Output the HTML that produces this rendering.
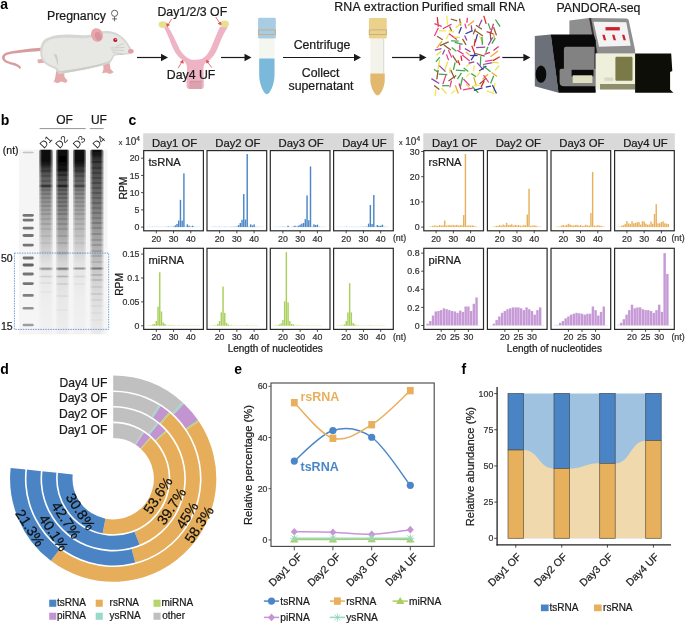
<!DOCTYPE html>
<html><head><meta charset="utf-8"><style>
html,body{margin:0;padding:0;background:#fff;width:685px;height:624px;overflow:hidden}
svg{display:block;font-family:"Liberation Sans", sans-serif;will-change:transform}
</style></head><body>
<svg width="685" height="624" viewBox="0 0 685 624" font-family='"Liberation Sans", sans-serif'>
<g id="pa">
<text x="0.30" y="8.90" font-size="14" text-anchor="start" font-weight="bold" fill="#000" >a</text>
<g id="mouse">
<path d="M41,47.8 C33,48.3 22,49.6 13,51.1 C6.5,52.2 1.8,54 2,58 C2.3,61.6 7,63.2 11.8,64.8 C15.5,66 18.6,66.8 19.6,69 L21.2,67.8 C20,65 16.5,63.5 12.8,62.6 C8.5,61.5 4.8,60.3 4.7,58 C4.6,55.5 8,54.4 13.5,53.6 C22.5,52.4 33,51.4 41,51 Z" fill="#d99c9e"/>
<path d="M37.8,59.5 L43.5,58.7 L44.5,62.8 L38.5,63.2 C37.3,62 37.2,60.5 37.8,59.5 Z" fill="#e4aaac"/>
<path d="M56.5,70 L64,70 L64.5,77 L67.5,80.5 L66,83 L61.5,81.5 L57.5,83.2 L54.5,82 L53.5,82.5 L55,78.5 Z" fill="#e4aaac"/>
<path d="M103,62 L109.5,62 L110.5,69 L113.8,72.3 L109.8,74 L106,72.6 L102.2,73.5 L103.5,69 Z" fill="#e4aaac"/>
<path d="M40.3,53.6 C40,47 41,43 44,40 C47,37.5 52,36 58,35 C66,34 74,34.5 82,35.2 C86,35.4 89,34.8 92,34.2 C96,32 101,31 106.3,31.1 C112,31.3 116,32.5 118.5,34.2 C122,36.5 125,39 126.7,41.4 C129,45 131.5,48.5 132.6,51.2 C132,53.5 129.5,54.3 126.7,54.6 C122,55 118,55.2 114.5,55.7 C113,58 112,61 110.4,62.8 C104,65.5 98,66.8 92,67.9 C85,69.5 78,71 71.5,72 C66,73 62,74 59.3,74 C57,72 56,70 55.2,68.9 C50,67 46,65 43.9,62.8 C41.5,60 40.5,57 40.3,53.6 Z" fill="#d6d6d2"/>
<path d="M42.3,53.5 C42.2,48 43.5,44.5 46,42 C49,39.5 53.5,38.5 59,38 C66,37.5 74,37.7 82,38.2 C87,38.5 91,37.5 94,36 C98,34 102,33 106.3,33.2 C111.5,33.4 115.5,34.6 118,36.3 C121.5,38.6 124,41 125.5,43 C127.5,46 129.5,49 130.3,51.2 C129.5,52.6 127.5,53 125.5,53.2 C121,53.6 117,54 113.5,54.5 C112,57 110.5,59.8 108.5,61.3 C103,63.5 97,64.8 91,65.9 C84,67.3 77,68.8 71,69.8 C66,70.7 62.5,71.5 60.5,71.3 C58.8,69.8 57.5,68.3 56.2,67 C51,65.3 47.5,63.5 45.5,61.5 C43.3,59 42.4,56.5 42.3,53.5 Z" fill="#e7e7e4"/>
<path d="M53.5,54 C55,57 57,61 57.5,66.5 C58.5,62 58.3,58 56.5,54.5 Z" fill="#cfcec9"/>
<path d="M59,71.2 C66,70.5 80,68.5 92,65.9 C100,64.3 106,62.5 109.5,61 C105,64.5 98,66.5 91,68 C82,70 72,72 64,72.8 C61.5,72.9 60,72.3 59,71.2 Z" fill="#cdccc7"/>
<ellipse cx="97" cy="35" rx="5.8" ry="7" fill="#e6a8ad" transform="rotate(-22 97 35)"/>
<ellipse cx="98.2" cy="36.3" rx="3.2" ry="4.5" fill="#d7949c" transform="rotate(-22 98.2 36.3)"/>
<circle cx="115.3" cy="40" r="2.1" fill="#b8142e"/>
<circle cx="115.8" cy="39.5" r="0.7" fill="#f0c0c8"/>
<ellipse cx="130.8" cy="51.2" rx="2.8" ry="2.3" fill="#e29ca4"/>
<path d="M110.5,48 L124.5,47.5 M111.5,50 L124,50.5 M112.5,52 L123.5,54.5 M116,46.5 L124,43.5" stroke="#a89a94" stroke-width="0.35" fill="none"/>
</g>
<text x="47.00" y="20.30" font-size="12.3" text-anchor="start" font-weight="normal" fill="#1a1a1a" stroke="#1a1a1a" stroke-width="0.22" >Pregnancy</text>
<g stroke="#555" stroke-width="0.9" fill="none"><circle cx="114.6" cy="13.3" r="3.1"/><line x1="114.6" y1="16.4" x2="114.6" y2="21.3"/><line x1="112.2" y1="18.9" x2="117" y2="18.9"/></g>
<line x1="137" y1="57.5" x2="161.5" y2="57.5" stroke="#1a1a1a" stroke-width="1.2"/>
<polygon points="161,53.7 168,57.5 161,61.3" fill="#1a1a1a"/>
<g id="uterus">
<path d="M164,27.5 C166.5,32 168.8,37.5 171.2,44 C173.8,50.5 177.5,57 183.3,60.6 C186.2,62.5 187.4,65.5 187,70 L186.5,85.5 Q186.5,89 190,89 L200.6,89 Q203.9,89 203.9,85.5 L203.5,70 C203.2,65.5 204.5,62.5 208.9,60.6 C213.8,57 216.8,50.5 219.3,44.3 C221.8,37.5 224.8,31.5 227.8,27 L220,26.8 C217.6,31.8 215,38.3 212,45.6 C209.2,52.3 205.8,57.3 201.6,59 C198.8,59.8 192.3,60 190,59.2 C185.8,57.4 182.5,53.9 179.6,49.2 C177,43.5 174,37 170.6,30.8 C169.6,29.1 168.6,27.6 167.6,26.2 Z" fill="#eeb3c5"/>
<rect x="189.2" y="81.7" width="12.6" height="7.3" fill="#dba3ad"/>
<path d="M189.4,81.9 h2 v-0.8 h2 v0.8 h2 v-0.8 h2 v0.8 h2 v-0.8 h2.4 v0.8" stroke="#c4808c" stroke-width="0.6" fill="none"/>
<ellipse cx="162.8" cy="24.6" rx="4.2" ry="3.4" fill="#e9e08e"/>
<ellipse cx="224.7" cy="24" rx="4.2" ry="3.4" fill="#e9e08e"/>
<g stroke="#d9534f" stroke-width="0.8" fill="#d9534f">
<line x1="171.7" y1="18.9" x2="168" y2="25"/><polygon points="167.1,26.6 166.6,23.6 169.4,24.9"/>
<line x1="215.7" y1="17" x2="219.8" y2="23.2"/><polygon points="221,24.9 218.3,23.6 220.8,22.2"/>
<line x1="178.2" y1="68.2" x2="181.8" y2="62"/><polygon points="182.8,60.3 183.3,63.2 180.5,62"/>
<line x1="211.8" y1="67.6" x2="207.5" y2="62"/><polygon points="206.5,60.3 209.1,61.6 206.7,63.1"/>
</g></g>
<text x="192.30" y="16.00" font-size="12.3" text-anchor="middle" font-weight="normal" fill="#1a1a1a" stroke="#1a1a1a" stroke-width="0.22" >Day1/2/3 OF</text>
<text x="191.10" y="78.50" font-size="12.3" text-anchor="middle" font-weight="normal" fill="#1a1a1a" stroke="#1a1a1a" stroke-width="0.22" >Day4 UF</text>
<line x1="221" y1="57.5" x2="245.0" y2="57.5" stroke="#1a1a1a" stroke-width="1.2"/>
<polygon points="244.5,53.7 251.5,57.5 244.5,61.3" fill="#1a1a1a"/>
<g id="tube1">
<path d="M259.2,38.5 L274.5,38.5 L274.5,75 C274.5,84 270,94.3 266.85,94.3 C263.7,94.3 259.2,84 259.2,75 Z" fill="#f4f6f0"/>
<path d="M259.2,58.6 L274.5,58.6 L274.5,75 C274.5,84 270,94.3 266.85,94.3 C263.7,94.3 259.2,84 259.2,75 Z" fill="#7ab9da"/>
<path d="M258.1,19 Q258.1,17.7 259.5,17.7 L274.4,17.7 Q275.8,17.7 275.8,19 L275.8,37.3 Q275.8,38.5 274.5,38.5 L259.4,38.5 Q258.1,38.5 258.1,37.3 Z" fill="#a8cde3"/>
<rect x="258.4" y="29.9" width="17.1" height="4.6" fill="none" stroke="#c9aa80" stroke-width="0.9"/>
</g>
<line x1="283" y1="57.5" x2="354.5" y2="57.5" stroke="#1a1a1a" stroke-width="1.2"/>
<polygon points="354,53.7 361,57.5 354,61.3" fill="#1a1a1a"/>
<text x="322.00" y="49.30" font-size="12.3" text-anchor="middle" font-weight="normal" fill="#1a1a1a" stroke="#1a1a1a" stroke-width="0.22" >Centrifuge</text>
<text x="320.60" y="77.30" font-size="12.3" text-anchor="middle" font-weight="normal" fill="#1a1a1a" stroke="#1a1a1a" stroke-width="0.22" >Collect</text>
<text x="321.00" y="90.00" font-size="12.3" text-anchor="middle" font-weight="normal" fill="#1a1a1a" stroke="#1a1a1a" stroke-width="0.22" >supernatant</text>
<g id="tube2">
<path d="M370.4,38.5 L384.7,38.5 L384.7,80 C384.7,87 380.5,95.4 377.55,95.4 C374.6,95.4 370.4,87 370.4,80 Z" fill="#f3f3ec"/>
<line x1="383.5" y1="38.5" x2="383.5" y2="73.5" stroke="#dcdcd4" stroke-width="0.9"/>
<path d="M370.4,73.5 L384.7,73.5 L384.7,80 C384.7,87 380.5,95.4 377.55,95.4 C374.6,95.4 370.4,87 370.4,80 Z" fill="#e2b86e"/>
<path d="M368.9,19.4 Q368.9,18.1 370.3,18.1 L385.4,18.1 Q386.8,18.1 386.8,19.4 L386.8,37.3 Q386.8,38.5 385.5,38.5 L370.2,38.5 Q368.9,38.5 368.9,37.3 Z" fill="#ebd28c"/>
<rect x="369.3" y="29.9" width="17.1" height="4.6" fill="none" stroke="#c9aa80" stroke-width="0.9"/>
</g>
<text x="334.30" y="11.40" font-size="12.3" text-anchor="start" font-weight="normal" fill="#1a1a1a" stroke="#1a1a1a" stroke-width="0.22" textLength="84.5">RNA extraction</text>
<line x1="392" y1="57.5" x2="420.0" y2="57.5" stroke="#1a1a1a" stroke-width="1.2"/>
<polygon points="419.5,53.7 426.5,57.5 419.5,61.3" fill="#1a1a1a"/>
<text x="421.80" y="11.40" font-size="12.3" text-anchor="start" font-weight="normal" fill="#1a1a1a" stroke="#1a1a1a" stroke-width="0.22" >Purified small RNA</text>
<g id="rna"><line x1="437.3" y1="17.1" x2="438.3" y2="26.7" stroke="#e02828" stroke-width="1.25"/>
<line x1="446.8" y1="15.8" x2="447.5" y2="24.8" stroke="#f0ea50" stroke-width="1.25"/>
<line x1="450.8" y1="19.0" x2="457.1" y2="20.8" stroke="#8b5a2b" stroke-width="1.25"/>
<line x1="459.6" y1="18.6" x2="460.7" y2="25.5" stroke="#8b5a2b" stroke-width="1.25"/>
<line x1="467.4" y1="17.7" x2="466.9" y2="22.7" stroke="#e0307a" stroke-width="1.25"/>
<line x1="474.0" y1="20.7" x2="467.9" y2="25.8" stroke="#f0a830" stroke-width="1.25"/>
<line x1="482.0" y1="19.7" x2="478.8" y2="26.6" stroke="#8e44ad" stroke-width="1.25"/>
<line x1="483.8" y1="15.9" x2="486.2" y2="23.9" stroke="#e02828" stroke-width="1.25"/>
<line x1="495.4" y1="19.5" x2="500.1" y2="26.7" stroke="#3aa848" stroke-width="1.25"/>
<line x1="434.4" y1="23.7" x2="441.8" y2="26.3" stroke="#e83e8c" stroke-width="1.25"/>
<line x1="451.5" y1="24.2" x2="442.8" y2="28.8" stroke="#e0307a" stroke-width="1.25"/>
<line x1="449.6" y1="26.4" x2="451.7" y2="31.2" stroke="#8b5a2b" stroke-width="1.25"/>
<line x1="461.9" y1="22.6" x2="455.7" y2="27.8" stroke="#e8e040" stroke-width="1.25"/>
<line x1="464.9" y1="23.7" x2="466.3" y2="28.6" stroke="#e83e8c" stroke-width="1.25"/>
<line x1="471.3" y1="25.4" x2="471.8" y2="30.4" stroke="#8e44ad" stroke-width="1.25"/>
<line x1="475.9" y1="25.2" x2="481.9" y2="29.3" stroke="#8b5a2b" stroke-width="1.25"/>
<line x1="488.2" y1="23.4" x2="490.5" y2="29.9" stroke="#3aa848" stroke-width="1.25"/>
<line x1="493.5" y1="23.8" x2="490.7" y2="33.3" stroke="#e0307a" stroke-width="1.25"/>
<line x1="438.4" y1="27.7" x2="434.4" y2="36.0" stroke="#e83e8c" stroke-width="1.25"/>
<line x1="439.0" y1="30.7" x2="446.2" y2="30.9" stroke="#f0ea50" stroke-width="1.25"/>
<line x1="448.7" y1="30.7" x2="453.9" y2="32.2" stroke="#f0ea50" stroke-width="1.25"/>
<line x1="461.4" y1="27.1" x2="458.9" y2="33.4" stroke="#2e3d9a" stroke-width="1.25"/>
<line x1="472.7" y1="30.6" x2="465.5" y2="33.8" stroke="#2e3d9a" stroke-width="1.25"/>
<line x1="475.4" y1="28.6" x2="473.3" y2="34.4" stroke="#8b5a2b" stroke-width="1.25"/>
<line x1="475.0" y1="30.5" x2="482.9" y2="36.1" stroke="#8b5a2b" stroke-width="1.25"/>
<line x1="486.6" y1="31.6" x2="493.4" y2="33.9" stroke="#e0307a" stroke-width="1.25"/>
<line x1="493.6" y1="27.2" x2="496.5" y2="35.4" stroke="#8b5a2b" stroke-width="1.25"/>
<line x1="437.1" y1="36.3" x2="442.7" y2="39.7" stroke="#8b5a2b" stroke-width="1.25"/>
<line x1="449.6" y1="32.8" x2="446.2" y2="39.3" stroke="#f0ea50" stroke-width="1.25"/>
<line x1="449.1" y1="33.8" x2="456.8" y2="39.6" stroke="#e0307a" stroke-width="1.25"/>
<line x1="453.8" y1="36.8" x2="460.0" y2="37.7" stroke="#e8e040" stroke-width="1.25"/>
<line x1="464.6" y1="35.4" x2="466.9" y2="40.5" stroke="#8e44ad" stroke-width="1.25"/>
<line x1="477.5" y1="34.2" x2="475.2" y2="42.4" stroke="#2e3d9a" stroke-width="1.25"/>
<line x1="479.6" y1="36.1" x2="482.8" y2="42.8" stroke="#e8e040" stroke-width="1.25"/>
<line x1="490.2" y1="31.5" x2="490.7" y2="39.7" stroke="#8b5a2b" stroke-width="1.25"/>
<line x1="493.5" y1="33.4" x2="494.3" y2="38.7" stroke="#f0a830" stroke-width="1.25"/>
<line x1="442.0" y1="41.2" x2="436.8" y2="48.1" stroke="#f0a830" stroke-width="1.25"/>
<line x1="448.7" y1="41.9" x2="440.0" y2="45.6" stroke="#8b5a2b" stroke-width="1.25"/>
<line x1="451.1" y1="40.8" x2="458.6" y2="41.1" stroke="#3aa848" stroke-width="1.25"/>
<line x1="454.8" y1="42.3" x2="462.6" y2="44.3" stroke="#3aa848" stroke-width="1.25"/>
<line x1="462.5" y1="38.9" x2="466.1" y2="45.0" stroke="#8b5a2b" stroke-width="1.25"/>
<line x1="475.2" y1="39.1" x2="474.2" y2="46.4" stroke="#e02828" stroke-width="1.25"/>
<line x1="481.9" y1="36.9" x2="482.4" y2="44.9" stroke="#3aa848" stroke-width="1.25"/>
<line x1="492.6" y1="37.4" x2="488.3" y2="45.2" stroke="#8e44ad" stroke-width="1.25"/>
<line x1="495.3" y1="38.1" x2="491.8" y2="43.6" stroke="#3aa848" stroke-width="1.25"/>
<line x1="441.4" y1="48.6" x2="434.9" y2="50.1" stroke="#8e44ad" stroke-width="1.25"/>
<line x1="444.0" y1="45.1" x2="450.8" y2="50.0" stroke="#8b5a2b" stroke-width="1.25"/>
<line x1="451.7" y1="47.5" x2="456.4" y2="51.2" stroke="#3aa848" stroke-width="1.25"/>
<line x1="459.8" y1="44.6" x2="459.9" y2="50.3" stroke="#e0307a" stroke-width="1.25"/>
<line x1="464.9" y1="48.6" x2="470.5" y2="51.8" stroke="#8e44ad" stroke-width="1.25"/>
<line x1="471.8" y1="45.8" x2="475.1" y2="54.3" stroke="#e02828" stroke-width="1.25"/>
<line x1="485.3" y1="47.2" x2="476.1" y2="47.7" stroke="#8e44ad" stroke-width="1.25"/>
<line x1="487.9" y1="46.7" x2="485.8" y2="52.7" stroke="#3aa848" stroke-width="1.25"/>
<line x1="498.7" y1="46.6" x2="493.5" y2="50.6" stroke="#e0307a" stroke-width="1.25"/>
<line x1="441.1" y1="51.2" x2="436.6" y2="55.2" stroke="#e8e040" stroke-width="1.25"/>
<line x1="444.7" y1="49.7" x2="442.6" y2="54.5" stroke="#8e44ad" stroke-width="1.25"/>
<line x1="448.4" y1="50.0" x2="451.7" y2="57.5" stroke="#e83e8c" stroke-width="1.25"/>
<line x1="457.3" y1="50.3" x2="463.6" y2="54.3" stroke="#e0307a" stroke-width="1.25"/>
<line x1="466.0" y1="52.0" x2="469.9" y2="55.4" stroke="#f0a830" stroke-width="1.25"/>
<line x1="477.6" y1="55.5" x2="470.1" y2="55.5" stroke="#2e3d9a" stroke-width="1.25"/>
<line x1="475.5" y1="53.5" x2="484.7" y2="56.1" stroke="#8b5a2b" stroke-width="1.25"/>
<line x1="490.0" y1="52.3" x2="484.4" y2="54.4" stroke="#e0307a" stroke-width="1.25"/>
<line x1="498.0" y1="51.1" x2="490.5" y2="56.7" stroke="#f0a830" stroke-width="1.25"/>
<line x1="439.8" y1="57.2" x2="435.9" y2="61.9" stroke="#3aa848" stroke-width="1.25"/>
<line x1="446.5" y1="54.4" x2="448.6" y2="60.2" stroke="#e83e8c" stroke-width="1.25"/>
<line x1="452.6" y1="55.3" x2="457.4" y2="62.9" stroke="#8b5a2b" stroke-width="1.25"/>
<line x1="460.9" y1="55.6" x2="461.9" y2="60.9" stroke="#e02828" stroke-width="1.25"/>
<line x1="462.3" y1="54.9" x2="469.8" y2="61.0" stroke="#e83e8c" stroke-width="1.25"/>
<line x1="475.3" y1="53.7" x2="471.1" y2="60.1" stroke="#2e3d9a" stroke-width="1.25"/>
<line x1="480.8" y1="56.3" x2="480.3" y2="65.8" stroke="#3aa848" stroke-width="1.25"/>
<line x1="492.6" y1="60.2" x2="485.2" y2="61.4" stroke="#e83e8c" stroke-width="1.25"/>
<line x1="499.8" y1="56.7" x2="493.0" y2="60.6" stroke="#e02828" stroke-width="1.25"/>
<line x1="439.7" y1="59.8" x2="438.0" y2="68.9" stroke="#e8e040" stroke-width="1.25"/>
<line x1="447.7" y1="61.8" x2="444.6" y2="70.6" stroke="#e8e040" stroke-width="1.25"/>
<line x1="455.1" y1="62.5" x2="453.4" y2="69.9" stroke="#3aa848" stroke-width="1.25"/>
<line x1="457.9" y1="60.3" x2="459.8" y2="64.9" stroke="#e02828" stroke-width="1.25"/>
<line x1="472.0" y1="62.3" x2="466.3" y2="66.3" stroke="#f0ea50" stroke-width="1.25"/>
<line x1="474.3" y1="61.9" x2="468.6" y2="63.1" stroke="#8e44ad" stroke-width="1.25"/>
<line x1="477.0" y1="62.6" x2="483.4" y2="69.8" stroke="#8e44ad" stroke-width="1.25"/>
<line x1="492.4" y1="62.6" x2="483.1" y2="64.5" stroke="#8e44ad" stroke-width="1.25"/>
<line x1="491.6" y1="62.2" x2="498.6" y2="62.9" stroke="#e8e040" stroke-width="1.25"/>
<line x1="433.9" y1="69.3" x2="438.0" y2="72.2" stroke="#3aa848" stroke-width="1.25"/>
<line x1="439.3" y1="65.6" x2="445.5" y2="71.6" stroke="#8e44ad" stroke-width="1.25"/>
<line x1="450.1" y1="67.7" x2="449.9" y2="73.3" stroke="#e8e040" stroke-width="1.25"/>
<line x1="455.9" y1="70.1" x2="465.3" y2="70.8" stroke="#3aa848" stroke-width="1.25"/>
<line x1="463.7" y1="67.9" x2="468.3" y2="71.4" stroke="#3aa848" stroke-width="1.25"/>
<line x1="474.2" y1="65.3" x2="473.4" y2="71.4" stroke="#f0ea50" stroke-width="1.25"/>
<line x1="486.4" y1="66.0" x2="479.1" y2="70.9" stroke="#2e3d9a" stroke-width="1.25"/>
<line x1="483.1" y1="65.7" x2="490.5" y2="71.8" stroke="#3aa848" stroke-width="1.25"/>
<line x1="499.2" y1="65.6" x2="495.1" y2="70.3" stroke="#e8e040" stroke-width="1.25"/>
<line x1="438.1" y1="69.8" x2="436.8" y2="79.4" stroke="#8b5a2b" stroke-width="1.25"/>
<line x1="438.8" y1="74.2" x2="447.2" y2="74.7" stroke="#3aa848" stroke-width="1.25"/>
<line x1="450.8" y1="70.1" x2="454.6" y2="78.4" stroke="#8b5a2b" stroke-width="1.25"/>
<line x1="461.5" y1="72.8" x2="457.4" y2="79.1" stroke="#3aa848" stroke-width="1.25"/>
<line x1="470.1" y1="73.1" x2="466.3" y2="76.5" stroke="#f0ea50" stroke-width="1.25"/>
<line x1="471.3" y1="73.6" x2="476.1" y2="76.7" stroke="#3aa848" stroke-width="1.25"/>
<line x1="480.5" y1="70.7" x2="477.2" y2="76.2" stroke="#f0ea50" stroke-width="1.25"/>
<line x1="488.0" y1="74.3" x2="482.6" y2="79.3" stroke="#f0a830" stroke-width="1.25"/>
<line x1="491.6" y1="72.5" x2="497.0" y2="76.6" stroke="#f0a830" stroke-width="1.25"/>
<line x1="431.4" y1="78.6" x2="439.2" y2="83.5" stroke="#8e44ad" stroke-width="1.25"/>
<line x1="445.9" y1="75.1" x2="442.8" y2="84.2" stroke="#e83e8c" stroke-width="1.25"/>
<line x1="456.2" y1="75.4" x2="448.5" y2="80.9" stroke="#8b5a2b" stroke-width="1.25"/>
<line x1="462.6" y1="77.2" x2="460.5" y2="86.7" stroke="#3aa848" stroke-width="1.25"/>
<line x1="463.4" y1="79.0" x2="469.6" y2="85.5" stroke="#e83e8c" stroke-width="1.25"/>
<line x1="473.7" y1="77.0" x2="476.3" y2="85.7" stroke="#f0a830" stroke-width="1.25"/>
<line x1="486.2" y1="78.1" x2="479.6" y2="84.0" stroke="#8b5a2b" stroke-width="1.25"/>
<line x1="483.5" y1="75.2" x2="488.8" y2="82.5" stroke="#e83e8c" stroke-width="1.25"/>
<line x1="493.7" y1="75.8" x2="490.6" y2="83.4" stroke="#3aa848" stroke-width="1.25"/>
<line x1="434.2" y1="85.4" x2="439.3" y2="89.5" stroke="#8b5a2b" stroke-width="1.25"/>
<line x1="449.0" y1="85.7" x2="442.1" y2="85.7" stroke="#3aa848" stroke-width="1.25"/>
<line x1="451.5" y1="80.5" x2="449.8" y2="87.3" stroke="#e83e8c" stroke-width="1.25"/>
<line x1="459.1" y1="83.5" x2="461.0" y2="89.5" stroke="#e0307a" stroke-width="1.25"/>
<line x1="466.2" y1="84.3" x2="469.7" y2="88.0" stroke="#e8e040" stroke-width="1.25"/>
<line x1="479.7" y1="85.3" x2="472.2" y2="86.1" stroke="#f0ea50" stroke-width="1.25"/>
<line x1="484.3" y1="80.6" x2="481.1" y2="87.1" stroke="#e02828" stroke-width="1.25"/>
<line x1="490.9" y1="86.1" x2="485.8" y2="87.2" stroke="#2e3d9a" stroke-width="1.25"/>
<line x1="494.9" y1="82.9" x2="493.7" y2="92.1" stroke="#f0ea50" stroke-width="1.25"/>
<line x1="435.8" y1="89.2" x2="435.2" y2="96.3" stroke="#f0ea50" stroke-width="1.25"/>
<line x1="441.6" y1="88.2" x2="446.6" y2="93.7" stroke="#e8e040" stroke-width="1.25"/>
<line x1="455.1" y1="90.2" x2="451.3" y2="93.6" stroke="#f0ea50" stroke-width="1.25"/>
<line x1="455.3" y1="85.3" x2="458.3" y2="93.5" stroke="#f0a830" stroke-width="1.25"/>
<line x1="472.8" y1="88.1" x2="463.0" y2="89.8" stroke="#e83e8c" stroke-width="1.25"/>
<line x1="472.3" y1="86.6" x2="478.3" y2="92.7" stroke="#3aa848" stroke-width="1.25"/>
<line x1="482.5" y1="87.9" x2="473.8" y2="90.4" stroke="#2e3d9a" stroke-width="1.25"/>
<line x1="486.8" y1="90.8" x2="494.3" y2="93.6" stroke="#f0ea50" stroke-width="1.25"/>
<line x1="492.4" y1="85.0" x2="496.5" y2="93.4" stroke="#2e3d9a" stroke-width="1.25"/></g>
<line x1="502.3" y1="57.5" x2="523.9" y2="57.5" stroke="#1a1a1a" stroke-width="1.2"/>
<polygon points="523.4,53.7 530.4,57.5 523.4,61.3" fill="#1a1a1a"/>
<text x="556.50" y="11.70" font-size="12.3" text-anchor="start" font-weight="normal" fill="#1a1a1a" stroke="#1a1a1a" stroke-width="0.22" >PANDORA-seq</text>
<g id="machine">
<polygon points="569.4,20.6 589.1,17.9 626.5,18.6 628.5,19.5 635.1,50 635.1,54 595.7,54 569.4,54" fill="#8e8e8e"/>
<polygon points="589.1,17.9 591,17.9 597.5,53.4 595.5,53.4" fill="#3a3230"/>
<polygon points="593.5,21.7 626.3,22.3 630.7,45.7 599,46.8" fill="#f3f3f3"/>
<polygon points="605.5,27.1 619.8,27.1 619.8,30.4 605.5,30.4" fill="#cc1f2a"/>
<polygon points="602.3,34.8 604.6,34.8 606.2,40.3 603.9,40.3" fill="#cc1f2a"/>
<polygon points="612.1,34.8 614.4,34.8 616,40.3 613.7,40.3" fill="#cc1f2a"/>
<polygon points="622,34.8 624.3,34.8 625.9,40.3 623.6,40.3" fill="#cc1f2a"/>
<polygon points="534.8,35.9 550.8,34.4 558.5,92.8 534.8,86.3" fill="#6b7079"/>
<ellipse cx="541" cy="74.2" rx="5.3" ry="8.6" fill="#0a0a0a"/>
<polygon points="550.8,34.4 593.5,34.4 595.7,40.3 595.7,92.8 558.5,92.8" fill="#0a0a0a"/>
<path d="M566,46.8 L594.6,46.8 L594.6,74.2 L563.9,74.2 L563.9,49 Q563.9,46.8 566,46.8 Z" fill="#828282"/>
<path d="M559.6,70.5 Q559.6,68.7 561.4,68.7 L600,68.7 L600,86.3 L564,86.3 Q559.6,86.3 559.6,82 Z" fill="#858585"/>
<rect x="571.6" y="69.8" width="21.9" height="6.6" fill="#0a0a0a"/>
<rect x="572.7" y="75.3" width="19.7" height="7.7" fill="#dedec2"/>
<rect x="595.7" y="53.4" width="39.4" height="36.1" fill="#eef0dc"/>
<rect x="615.4" y="56.7" width="17.1" height="24.1" rx="1.2" fill="#7a7a48"/>
<rect x="604.4" y="77.5" width="8.8" height="3.3" fill="#d8d8c8"/>
<rect x="600" y="84" width="35.1" height="5.5" fill="#8e8e6c"/>
<polygon points="635.1,53.4 671.2,53.4 672.3,71 670.1,72 670.1,89.5 673.4,92.8 635.1,92.8" fill="#0e0e08"/>
</g>
</g>
<g id="pb"><defs>
<linearGradient id="gD1" x1="0" y1="149" x2="0" y2="334" gradientUnits="userSpaceOnUse">
<stop offset="0.0000" stop-color="rgb(200,200,200)"/>
<stop offset="0.0027" stop-color="rgb(107,107,107)"/>
<stop offset="0.0054" stop-color="rgb(14,14,14)"/>
<stop offset="0.0081" stop-color="rgb(14,14,14)"/>
<stop offset="0.0108" stop-color="rgb(14,14,14)"/>
<stop offset="0.0135" stop-color="rgb(13,13,13)"/>
<stop offset="0.0162" stop-color="rgb(13,13,13)"/>
<stop offset="0.0189" stop-color="rgb(13,13,13)"/>
<stop offset="0.0216" stop-color="rgb(13,13,13)"/>
<stop offset="0.0243" stop-color="rgb(13,13,13)"/>
<stop offset="0.0270" stop-color="rgb(12,12,12)"/>
<stop offset="0.0297" stop-color="rgb(12,12,12)"/>
<stop offset="0.0324" stop-color="rgb(12,12,12)"/>
<stop offset="0.0351" stop-color="rgb(12,12,12)"/>
<stop offset="0.0378" stop-color="rgb(12,12,12)"/>
<stop offset="0.0405" stop-color="rgb(11,11,11)"/>
<stop offset="0.0432" stop-color="rgb(11,11,11)"/>
<stop offset="0.0459" stop-color="rgb(11,11,11)"/>
<stop offset="0.0486" stop-color="rgb(11,11,11)"/>
<stop offset="0.0514" stop-color="rgb(11,11,11)"/>
<stop offset="0.0541" stop-color="rgb(10,10,10)"/>
<stop offset="0.0568" stop-color="rgb(10,10,10)"/>
<stop offset="0.0595" stop-color="rgb(10,10,10)"/>
<stop offset="0.0622" stop-color="rgb(12,12,12)"/>
<stop offset="0.0649" stop-color="rgb(14,14,14)"/>
<stop offset="0.0676" stop-color="rgb(16,16,16)"/>
<stop offset="0.0703" stop-color="rgb(18,18,18)"/>
<stop offset="0.0730" stop-color="rgb(20,20,20)"/>
<stop offset="0.0757" stop-color="rgb(22,22,22)"/>
<stop offset="0.0784" stop-color="rgb(24,24,24)"/>
<stop offset="0.0811" stop-color="rgb(26,26,26)"/>
<stop offset="0.0838" stop-color="rgb(28,28,28)"/>
<stop offset="0.0865" stop-color="rgb(30,30,30)"/>
<stop offset="0.0892" stop-color="rgb(34,34,34)"/>
<stop offset="0.0919" stop-color="rgb(38,38,38)"/>
<stop offset="0.0946" stop-color="rgb(42,42,42)"/>
<stop offset="0.0973" stop-color="rgb(46,46,46)"/>
<stop offset="0.1000" stop-color="rgb(50,50,50)"/>
<stop offset="0.1027" stop-color="rgb(54,54,54)"/>
<stop offset="0.1054" stop-color="rgb(58,58,58)"/>
<stop offset="0.1081" stop-color="rgb(62,62,62)"/>
<stop offset="0.1108" stop-color="rgb(60,60,60)"/>
<stop offset="0.1135" stop-color="rgb(58,58,58)"/>
<stop offset="0.1162" stop-color="rgb(53,53,53)"/>
<stop offset="0.1189" stop-color="rgb(48,48,48)"/>
<stop offset="0.1216" stop-color="rgb(56,56,56)"/>
<stop offset="0.1243" stop-color="rgb(64,64,64)"/>
<stop offset="0.1270" stop-color="rgb(72,72,72)"/>
<stop offset="0.1297" stop-color="rgb(79,79,79)"/>
<stop offset="0.1324" stop-color="rgb(81,81,81)"/>
<stop offset="0.1351" stop-color="rgb(82,82,82)"/>
<stop offset="0.1378" stop-color="rgb(84,84,84)"/>
<stop offset="0.1405" stop-color="rgb(79,79,79)"/>
<stop offset="0.1432" stop-color="rgb(74,74,74)"/>
<stop offset="0.1459" stop-color="rgb(69,69,69)"/>
<stop offset="0.1486" stop-color="rgb(77,77,77)"/>
<stop offset="0.1514" stop-color="rgb(85,85,85)"/>
<stop offset="0.1541" stop-color="rgb(93,93,93)"/>
<stop offset="0.1568" stop-color="rgb(95,95,95)"/>
<stop offset="0.1595" stop-color="rgb(96,96,96)"/>
<stop offset="0.1622" stop-color="rgb(96,96,96)"/>
<stop offset="0.1649" stop-color="rgb(97,97,97)"/>
<stop offset="0.1676" stop-color="rgb(91,91,91)"/>
<stop offset="0.1703" stop-color="rgb(85,85,85)"/>
<stop offset="0.1730" stop-color="rgb(79,79,79)"/>
<stop offset="0.1757" stop-color="rgb(87,87,87)"/>
<stop offset="0.1784" stop-color="rgb(94,94,94)"/>
<stop offset="0.1811" stop-color="rgb(101,101,101)"/>
<stop offset="0.1838" stop-color="rgb(102,102,102)"/>
<stop offset="0.1865" stop-color="rgb(103,103,103)"/>
<stop offset="0.1892" stop-color="rgb(104,104,104)"/>
<stop offset="0.1919" stop-color="rgb(87,87,87)"/>
<stop offset="0.1946" stop-color="rgb(70,70,70)"/>
<stop offset="0.1973" stop-color="rgb(54,54,54)"/>
<stop offset="0.2000" stop-color="rgb(38,38,38)"/>
<stop offset="0.2027" stop-color="rgb(57,57,57)"/>
<stop offset="0.2054" stop-color="rgb(76,76,76)"/>
<stop offset="0.2081" stop-color="rgb(95,95,95)"/>
<stop offset="0.2108" stop-color="rgb(114,114,114)"/>
<stop offset="0.2135" stop-color="rgb(116,116,116)"/>
<stop offset="0.2162" stop-color="rgb(110,110,110)"/>
<stop offset="0.2189" stop-color="rgb(105,105,105)"/>
<stop offset="0.2216" stop-color="rgb(100,100,100)"/>
<stop offset="0.2243" stop-color="rgb(108,108,108)"/>
<stop offset="0.2270" stop-color="rgb(116,116,116)"/>
<stop offset="0.2297" stop-color="rgb(124,124,124)"/>
<stop offset="0.2324" stop-color="rgb(126,126,126)"/>
<stop offset="0.2351" stop-color="rgb(128,128,128)"/>
<stop offset="0.2378" stop-color="rgb(121,121,121)"/>
<stop offset="0.2405" stop-color="rgb(114,114,114)"/>
<stop offset="0.2432" stop-color="rgb(107,107,107)"/>
<stop offset="0.2459" stop-color="rgb(117,117,117)"/>
<stop offset="0.2486" stop-color="rgb(127,127,127)"/>
<stop offset="0.2514" stop-color="rgb(136,136,136)"/>
<stop offset="0.2541" stop-color="rgb(137,137,137)"/>
<stop offset="0.2568" stop-color="rgb(137,137,137)"/>
<stop offset="0.2595" stop-color="rgb(130,130,130)"/>
<stop offset="0.2622" stop-color="rgb(122,122,122)"/>
<stop offset="0.2649" stop-color="rgb(115,115,115)"/>
<stop offset="0.2676" stop-color="rgb(124,124,124)"/>
<stop offset="0.2703" stop-color="rgb(133,133,133)"/>
<stop offset="0.2730" stop-color="rgb(142,142,142)"/>
<stop offset="0.2757" stop-color="rgb(143,143,143)"/>
<stop offset="0.2784" stop-color="rgb(143,143,143)"/>
<stop offset="0.2811" stop-color="rgb(138,138,138)"/>
<stop offset="0.2838" stop-color="rgb(132,132,132)"/>
<stop offset="0.2865" stop-color="rgb(126,126,126)"/>
<stop offset="0.2892" stop-color="rgb(133,133,133)"/>
<stop offset="0.2919" stop-color="rgb(141,141,141)"/>
<stop offset="0.2946" stop-color="rgb(148,148,148)"/>
<stop offset="0.2973" stop-color="rgb(149,149,149)"/>
<stop offset="0.3000" stop-color="rgb(150,150,150)"/>
<stop offset="0.3027" stop-color="rgb(142,142,142)"/>
<stop offset="0.3054" stop-color="rgb(134,134,134)"/>
<stop offset="0.3081" stop-color="rgb(127,127,127)"/>
<stop offset="0.3108" stop-color="rgb(136,136,136)"/>
<stop offset="0.3135" stop-color="rgb(145,145,145)"/>
<stop offset="0.3162" stop-color="rgb(154,154,154)"/>
<stop offset="0.3189" stop-color="rgb(155,155,155)"/>
<stop offset="0.3216" stop-color="rgb(156,156,156)"/>
<stop offset="0.3243" stop-color="rgb(150,150,150)"/>
<stop offset="0.3270" stop-color="rgb(144,144,144)"/>
<stop offset="0.3297" stop-color="rgb(138,138,138)"/>
<stop offset="0.3324" stop-color="rgb(145,145,145)"/>
<stop offset="0.3351" stop-color="rgb(153,153,153)"/>
<stop offset="0.3378" stop-color="rgb(160,160,160)"/>
<stop offset="0.3405" stop-color="rgb(161,161,161)"/>
<stop offset="0.3432" stop-color="rgb(161,161,161)"/>
<stop offset="0.3459" stop-color="rgb(154,154,154)"/>
<stop offset="0.3486" stop-color="rgb(146,146,146)"/>
<stop offset="0.3514" stop-color="rgb(138,138,138)"/>
<stop offset="0.3541" stop-color="rgb(147,147,147)"/>
<stop offset="0.3568" stop-color="rgb(156,156,156)"/>
<stop offset="0.3595" stop-color="rgb(165,165,165)"/>
<stop offset="0.3622" stop-color="rgb(166,166,166)"/>
<stop offset="0.3649" stop-color="rgb(167,167,167)"/>
<stop offset="0.3676" stop-color="rgb(167,167,167)"/>
<stop offset="0.3703" stop-color="rgb(168,168,168)"/>
<stop offset="0.3730" stop-color="rgb(162,162,162)"/>
<stop offset="0.3757" stop-color="rgb(156,156,156)"/>
<stop offset="0.3784" stop-color="rgb(150,150,150)"/>
<stop offset="0.3811" stop-color="rgb(157,157,157)"/>
<stop offset="0.3838" stop-color="rgb(165,165,165)"/>
<stop offset="0.3865" stop-color="rgb(172,172,172)"/>
<stop offset="0.3892" stop-color="rgb(173,173,173)"/>
<stop offset="0.3919" stop-color="rgb(173,173,173)"/>
<stop offset="0.3946" stop-color="rgb(174,174,174)"/>
<stop offset="0.3973" stop-color="rgb(175,175,175)"/>
<stop offset="0.4000" stop-color="rgb(167,167,167)"/>
<stop offset="0.4027" stop-color="rgb(159,159,159)"/>
<stop offset="0.4054" stop-color="rgb(152,152,152)"/>
<stop offset="0.4081" stop-color="rgb(161,161,161)"/>
<stop offset="0.4108" stop-color="rgb(170,170,170)"/>
<stop offset="0.4135" stop-color="rgb(179,179,179)"/>
<stop offset="0.4162" stop-color="rgb(179,179,179)"/>
<stop offset="0.4189" stop-color="rgb(180,180,180)"/>
<stop offset="0.4216" stop-color="rgb(180,180,180)"/>
<stop offset="0.4243" stop-color="rgb(181,181,181)"/>
<stop offset="0.4270" stop-color="rgb(175,175,175)"/>
<stop offset="0.4297" stop-color="rgb(169,169,169)"/>
<stop offset="0.4324" stop-color="rgb(163,163,163)"/>
<stop offset="0.4351" stop-color="rgb(170,170,170)"/>
<stop offset="0.4378" stop-color="rgb(177,177,177)"/>
<stop offset="0.4405" stop-color="rgb(184,184,184)"/>
<stop offset="0.4432" stop-color="rgb(185,185,185)"/>
<stop offset="0.4459" stop-color="rgb(185,185,185)"/>
<stop offset="0.4486" stop-color="rgb(186,186,186)"/>
<stop offset="0.4514" stop-color="rgb(186,186,186)"/>
<stop offset="0.4541" stop-color="rgb(187,187,187)"/>
<stop offset="0.4568" stop-color="rgb(188,188,188)"/>
<stop offset="0.4595" stop-color="rgb(188,188,188)"/>
<stop offset="0.4622" stop-color="rgb(189,189,189)"/>
<stop offset="0.4649" stop-color="rgb(183,183,183)"/>
<stop offset="0.4676" stop-color="rgb(177,177,177)"/>
<stop offset="0.4703" stop-color="rgb(170,170,170)"/>
<stop offset="0.4730" stop-color="rgb(178,178,178)"/>
<stop offset="0.4757" stop-color="rgb(185,185,185)"/>
<stop offset="0.4784" stop-color="rgb(192,192,192)"/>
<stop offset="0.4811" stop-color="rgb(193,193,193)"/>
<stop offset="0.4838" stop-color="rgb(193,193,193)"/>
<stop offset="0.4865" stop-color="rgb(194,194,194)"/>
<stop offset="0.4892" stop-color="rgb(194,194,194)"/>
<stop offset="0.4919" stop-color="rgb(195,195,195)"/>
<stop offset="0.4946" stop-color="rgb(196,196,196)"/>
<stop offset="0.4973" stop-color="rgb(196,196,196)"/>
<stop offset="0.5000" stop-color="rgb(197,197,197)"/>
<stop offset="0.5027" stop-color="rgb(193,193,193)"/>
<stop offset="0.5054" stop-color="rgb(188,188,188)"/>
<stop offset="0.5081" stop-color="rgb(184,184,184)"/>
<stop offset="0.5108" stop-color="rgb(189,189,189)"/>
<stop offset="0.5135" stop-color="rgb(195,195,195)"/>
<stop offset="0.5162" stop-color="rgb(201,201,201)"/>
<stop offset="0.5189" stop-color="rgb(201,201,201)"/>
<stop offset="0.5216" stop-color="rgb(202,202,202)"/>
<stop offset="0.5243" stop-color="rgb(203,203,203)"/>
<stop offset="0.5270" stop-color="rgb(203,203,203)"/>
<stop offset="0.5297" stop-color="rgb(204,204,204)"/>
<stop offset="0.5324" stop-color="rgb(204,204,204)"/>
<stop offset="0.5351" stop-color="rgb(205,205,205)"/>
<stop offset="0.5378" stop-color="rgb(206,206,206)"/>
<stop offset="0.5405" stop-color="rgb(206,206,206)"/>
<stop offset="0.5432" stop-color="rgb(207,207,207)"/>
<stop offset="0.5459" stop-color="rgb(208,208,208)"/>
<stop offset="0.5486" stop-color="rgb(208,208,208)"/>
<stop offset="0.5514" stop-color="rgb(204,204,204)"/>
<stop offset="0.5541" stop-color="rgb(200,200,200)"/>
<stop offset="0.5568" stop-color="rgb(195,195,195)"/>
<stop offset="0.5595" stop-color="rgb(201,201,201)"/>
<stop offset="0.5622" stop-color="rgb(206,206,206)"/>
<stop offset="0.5649" stop-color="rgb(212,212,212)"/>
<stop offset="0.5676" stop-color="rgb(213,213,213)"/>
<stop offset="0.5703" stop-color="rgb(213,213,213)"/>
<stop offset="0.5730" stop-color="rgb(214,214,214)"/>
<stop offset="0.5757" stop-color="rgb(215,215,215)"/>
<stop offset="0.5784" stop-color="rgb(215,215,215)"/>
<stop offset="0.5811" stop-color="rgb(216,216,216)"/>
<stop offset="0.5838" stop-color="rgb(217,217,217)"/>
<stop offset="0.5865" stop-color="rgb(218,218,218)"/>
<stop offset="0.5892" stop-color="rgb(218,218,218)"/>
<stop offset="0.5919" stop-color="rgb(219,219,219)"/>
<stop offset="0.5946" stop-color="rgb(220,220,220)"/>
<stop offset="0.5973" stop-color="rgb(220,220,220)"/>
<stop offset="0.6000" stop-color="rgb(221,221,221)"/>
<stop offset="0.6027" stop-color="rgb(222,222,222)"/>
<stop offset="0.6054" stop-color="rgb(222,222,222)"/>
<stop offset="0.6081" stop-color="rgb(223,223,223)"/>
<stop offset="0.6108" stop-color="rgb(224,224,224)"/>
<stop offset="0.6135" stop-color="rgb(224,224,224)"/>
<stop offset="0.6162" stop-color="rgb(225,225,225)"/>
<stop offset="0.6189" stop-color="rgb(226,226,226)"/>
<stop offset="0.6216" stop-color="rgb(227,227,227)"/>
<stop offset="0.6243" stop-color="rgb(227,227,227)"/>
<stop offset="0.6270" stop-color="rgb(228,228,228)"/>
<stop offset="0.6297" stop-color="rgb(228,228,228)"/>
<stop offset="0.6324" stop-color="rgb(228,228,228)"/>
<stop offset="0.6351" stop-color="rgb(228,228,228)"/>
<stop offset="0.6378" stop-color="rgb(220,220,220)"/>
<stop offset="0.6405" stop-color="rgb(197,197,197)"/>
<stop offset="0.6432" stop-color="rgb(175,175,175)"/>
<stop offset="0.6459" stop-color="rgb(153,153,153)"/>
<stop offset="0.6486" stop-color="rgb(148,148,148)"/>
<stop offset="0.6514" stop-color="rgb(171,171,171)"/>
<stop offset="0.6541" stop-color="rgb(193,193,193)"/>
<stop offset="0.6568" stop-color="rgb(216,216,216)"/>
<stop offset="0.6595" stop-color="rgb(230,230,230)"/>
<stop offset="0.6622" stop-color="rgb(230,230,230)"/>
<stop offset="0.6649" stop-color="rgb(230,230,230)"/>
<stop offset="0.6676" stop-color="rgb(230,230,230)"/>
<stop offset="0.6703" stop-color="rgb(230,230,230)"/>
<stop offset="0.6730" stop-color="rgb(230,230,230)"/>
<stop offset="0.6757" stop-color="rgb(231,231,231)"/>
<stop offset="0.6784" stop-color="rgb(231,231,231)"/>
<stop offset="0.6811" stop-color="rgb(231,231,231)"/>
<stop offset="0.6838" stop-color="rgb(223,223,223)"/>
<stop offset="0.6865" stop-color="rgb(214,214,214)"/>
<stop offset="0.6892" stop-color="rgb(206,206,206)"/>
<stop offset="0.6919" stop-color="rgb(215,215,215)"/>
<stop offset="0.6946" stop-color="rgb(223,223,223)"/>
<stop offset="0.6973" stop-color="rgb(232,232,232)"/>
<stop offset="0.7000" stop-color="rgb(232,232,232)"/>
<stop offset="0.7027" stop-color="rgb(232,232,232)"/>
<stop offset="0.7054" stop-color="rgb(232,232,232)"/>
<stop offset="0.7081" stop-color="rgb(232,232,232)"/>
<stop offset="0.7108" stop-color="rgb(232,232,232)"/>
<stop offset="0.7135" stop-color="rgb(233,233,233)"/>
<stop offset="0.7162" stop-color="rgb(233,233,233)"/>
<stop offset="0.7189" stop-color="rgb(228,228,228)"/>
<stop offset="0.7216" stop-color="rgb(223,223,223)"/>
<stop offset="0.7243" stop-color="rgb(218,218,218)"/>
<stop offset="0.7270" stop-color="rgb(223,223,223)"/>
<stop offset="0.7297" stop-color="rgb(228,228,228)"/>
<stop offset="0.7324" stop-color="rgb(234,234,234)"/>
<stop offset="0.7351" stop-color="rgb(234,234,234)"/>
<stop offset="0.7378" stop-color="rgb(234,234,234)"/>
<stop offset="0.7405" stop-color="rgb(234,234,234)"/>
<stop offset="0.7432" stop-color="rgb(234,234,234)"/>
<stop offset="0.7459" stop-color="rgb(234,234,234)"/>
<stop offset="0.7486" stop-color="rgb(234,234,234)"/>
<stop offset="0.7514" stop-color="rgb(235,235,235)"/>
<stop offset="0.7541" stop-color="rgb(235,235,235)"/>
<stop offset="0.7568" stop-color="rgb(235,235,235)"/>
<stop offset="0.7595" stop-color="rgb(235,235,235)"/>
<stop offset="0.7622" stop-color="rgb(235,235,235)"/>
<stop offset="0.7649" stop-color="rgb(235,235,235)"/>
<stop offset="0.7676" stop-color="rgb(232,232,232)"/>
<stop offset="0.7703" stop-color="rgb(229,229,229)"/>
<stop offset="0.7730" stop-color="rgb(226,226,226)"/>
<stop offset="0.7757" stop-color="rgb(229,229,229)"/>
<stop offset="0.7784" stop-color="rgb(233,233,233)"/>
<stop offset="0.7811" stop-color="rgb(236,236,236)"/>
<stop offset="0.7838" stop-color="rgb(236,236,236)"/>
<stop offset="0.7865" stop-color="rgb(236,236,236)"/>
<stop offset="0.7892" stop-color="rgb(237,237,237)"/>
<stop offset="0.7919" stop-color="rgb(237,237,237)"/>
<stop offset="0.7946" stop-color="rgb(237,237,237)"/>
<stop offset="0.7973" stop-color="rgb(237,237,237)"/>
<stop offset="0.8000" stop-color="rgb(237,237,237)"/>
<stop offset="0.8027" stop-color="rgb(237,237,237)"/>
<stop offset="0.8054" stop-color="rgb(237,237,237)"/>
<stop offset="0.8081" stop-color="rgb(238,238,238)"/>
<stop offset="0.8108" stop-color="rgb(238,238,238)"/>
<stop offset="0.8135" stop-color="rgb(238,238,238)"/>
<stop offset="0.8162" stop-color="rgb(238,238,238)"/>
<stop offset="0.8189" stop-color="rgb(238,238,238)"/>
<stop offset="0.8216" stop-color="rgb(238,238,238)"/>
<stop offset="0.8243" stop-color="rgb(238,238,238)"/>
<stop offset="0.8270" stop-color="rgb(238,238,238)"/>
<stop offset="0.8297" stop-color="rgb(238,238,238)"/>
<stop offset="0.8324" stop-color="rgb(238,238,238)"/>
<stop offset="0.8351" stop-color="rgb(238,238,238)"/>
<stop offset="0.8378" stop-color="rgb(238,238,238)"/>
<stop offset="0.8405" stop-color="rgb(238,238,238)"/>
<stop offset="0.8432" stop-color="rgb(238,238,238)"/>
<stop offset="0.8459" stop-color="rgb(238,238,238)"/>
<stop offset="0.8486" stop-color="rgb(239,239,239)"/>
<stop offset="0.8514" stop-color="rgb(239,239,239)"/>
<stop offset="0.8541" stop-color="rgb(239,239,239)"/>
<stop offset="0.8568" stop-color="rgb(239,239,239)"/>
<stop offset="0.8595" stop-color="rgb(239,239,239)"/>
<stop offset="0.8622" stop-color="rgb(239,239,239)"/>
<stop offset="0.8649" stop-color="rgb(239,239,239)"/>
<stop offset="0.8676" stop-color="rgb(239,239,239)"/>
<stop offset="0.8703" stop-color="rgb(239,239,239)"/>
<stop offset="0.8730" stop-color="rgb(239,239,239)"/>
<stop offset="0.8757" stop-color="rgb(239,239,239)"/>
<stop offset="0.8784" stop-color="rgb(239,239,239)"/>
<stop offset="0.8811" stop-color="rgb(239,239,239)"/>
<stop offset="0.8838" stop-color="rgb(239,239,239)"/>
<stop offset="0.8865" stop-color="rgb(239,239,239)"/>
<stop offset="0.8892" stop-color="rgb(239,239,239)"/>
<stop offset="0.8919" stop-color="rgb(239,239,239)"/>
<stop offset="0.8946" stop-color="rgb(239,239,239)"/>
<stop offset="0.8973" stop-color="rgb(239,239,239)"/>
<stop offset="0.9000" stop-color="rgb(239,239,239)"/>
<stop offset="0.9027" stop-color="rgb(239,239,239)"/>
<stop offset="0.9054" stop-color="rgb(239,239,239)"/>
<stop offset="0.9081" stop-color="rgb(240,240,240)"/>
<stop offset="0.9108" stop-color="rgb(240,240,240)"/>
<stop offset="0.9135" stop-color="rgb(240,240,240)"/>
<stop offset="0.9162" stop-color="rgb(240,240,240)"/>
<stop offset="0.9189" stop-color="rgb(240,240,240)"/>
<stop offset="0.9216" stop-color="rgb(240,240,240)"/>
<stop offset="0.9243" stop-color="rgb(240,240,240)"/>
<stop offset="0.9270" stop-color="rgb(240,240,240)"/>
<stop offset="0.9297" stop-color="rgb(240,240,240)"/>
<stop offset="0.9324" stop-color="rgb(240,240,240)"/>
<stop offset="0.9351" stop-color="rgb(240,240,240)"/>
<stop offset="0.9378" stop-color="rgb(240,240,240)"/>
<stop offset="0.9405" stop-color="rgb(240,240,240)"/>
<stop offset="0.9432" stop-color="rgb(240,240,240)"/>
<stop offset="0.9459" stop-color="rgb(240,240,240)"/>
<stop offset="0.9486" stop-color="rgb(240,240,240)"/>
<stop offset="0.9514" stop-color="rgb(240,240,240)"/>
<stop offset="0.9541" stop-color="rgb(240,240,240)"/>
<stop offset="0.9568" stop-color="rgb(240,240,240)"/>
<stop offset="0.9595" stop-color="rgb(240,240,240)"/>
<stop offset="0.9622" stop-color="rgb(240,240,240)"/>
<stop offset="0.9649" stop-color="rgb(240,240,240)"/>
<stop offset="0.9676" stop-color="rgb(240,240,240)"/>
<stop offset="0.9703" stop-color="rgb(241,241,241)"/>
<stop offset="0.9730" stop-color="rgb(241,241,241)"/>
<stop offset="0.9757" stop-color="rgb(241,241,241)"/>
<stop offset="0.9784" stop-color="rgb(241,241,241)"/>
<stop offset="0.9811" stop-color="rgb(241,241,241)"/>
<stop offset="0.9838" stop-color="rgb(241,241,241)"/>
<stop offset="0.9865" stop-color="rgb(241,241,241)"/>
<stop offset="0.9892" stop-color="rgb(241,241,241)"/>
<stop offset="0.9919" stop-color="rgb(241,241,241)"/>
<stop offset="0.9946" stop-color="rgb(241,241,241)"/>
<stop offset="0.9973" stop-color="rgb(241,241,241)"/>
<stop offset="1.0000" stop-color="rgb(241,241,241)"/>
</linearGradient>
<linearGradient id="gD2" x1="0" y1="149" x2="0" y2="334" gradientUnits="userSpaceOnUse">
<stop offset="0.0000" stop-color="rgb(200,200,200)"/>
<stop offset="0.0027" stop-color="rgb(104,104,104)"/>
<stop offset="0.0054" stop-color="rgb(8,8,8)"/>
<stop offset="0.0081" stop-color="rgb(8,8,8)"/>
<stop offset="0.0108" stop-color="rgb(8,8,8)"/>
<stop offset="0.0135" stop-color="rgb(8,8,8)"/>
<stop offset="0.0162" stop-color="rgb(8,8,8)"/>
<stop offset="0.0189" stop-color="rgb(7,7,7)"/>
<stop offset="0.0216" stop-color="rgb(7,7,7)"/>
<stop offset="0.0243" stop-color="rgb(7,7,7)"/>
<stop offset="0.0270" stop-color="rgb(7,7,7)"/>
<stop offset="0.0297" stop-color="rgb(7,7,7)"/>
<stop offset="0.0324" stop-color="rgb(7,7,7)"/>
<stop offset="0.0351" stop-color="rgb(7,7,7)"/>
<stop offset="0.0378" stop-color="rgb(6,6,6)"/>
<stop offset="0.0405" stop-color="rgb(6,6,6)"/>
<stop offset="0.0432" stop-color="rgb(6,6,6)"/>
<stop offset="0.0459" stop-color="rgb(6,6,6)"/>
<stop offset="0.0486" stop-color="rgb(6,6,6)"/>
<stop offset="0.0514" stop-color="rgb(6,6,6)"/>
<stop offset="0.0541" stop-color="rgb(6,6,6)"/>
<stop offset="0.0568" stop-color="rgb(6,6,6)"/>
<stop offset="0.0595" stop-color="rgb(6,6,6)"/>
<stop offset="0.0622" stop-color="rgb(5,5,5)"/>
<stop offset="0.0649" stop-color="rgb(5,5,5)"/>
<stop offset="0.0676" stop-color="rgb(5,5,5)"/>
<stop offset="0.0703" stop-color="rgb(5,5,5)"/>
<stop offset="0.0730" stop-color="rgb(7,7,7)"/>
<stop offset="0.0757" stop-color="rgb(8,8,8)"/>
<stop offset="0.0784" stop-color="rgb(10,10,10)"/>
<stop offset="0.0811" stop-color="rgb(12,12,12)"/>
<stop offset="0.0838" stop-color="rgb(13,13,13)"/>
<stop offset="0.0865" stop-color="rgb(15,15,15)"/>
<stop offset="0.0892" stop-color="rgb(17,17,17)"/>
<stop offset="0.0919" stop-color="rgb(18,18,18)"/>
<stop offset="0.0946" stop-color="rgb(20,20,20)"/>
<stop offset="0.0973" stop-color="rgb(22,22,22)"/>
<stop offset="0.1000" stop-color="rgb(23,23,23)"/>
<stop offset="0.1027" stop-color="rgb(25,25,25)"/>
<stop offset="0.1054" stop-color="rgb(21,21,21)"/>
<stop offset="0.1081" stop-color="rgb(18,18,18)"/>
<stop offset="0.1108" stop-color="rgb(14,14,14)"/>
<stop offset="0.1135" stop-color="rgb(10,10,10)"/>
<stop offset="0.1162" stop-color="rgb(19,19,19)"/>
<stop offset="0.1189" stop-color="rgb(28,28,28)"/>
<stop offset="0.1216" stop-color="rgb(36,36,36)"/>
<stop offset="0.1243" stop-color="rgb(45,45,45)"/>
<stop offset="0.1270" stop-color="rgb(48,48,48)"/>
<stop offset="0.1297" stop-color="rgb(50,50,50)"/>
<stop offset="0.1324" stop-color="rgb(52,52,52)"/>
<stop offset="0.1351" stop-color="rgb(47,47,47)"/>
<stop offset="0.1378" stop-color="rgb(40,40,40)"/>
<stop offset="0.1405" stop-color="rgb(33,33,33)"/>
<stop offset="0.1432" stop-color="rgb(43,43,43)"/>
<stop offset="0.1459" stop-color="rgb(53,53,53)"/>
<stop offset="0.1486" stop-color="rgb(63,63,63)"/>
<stop offset="0.1514" stop-color="rgb(64,64,64)"/>
<stop offset="0.1541" stop-color="rgb(66,66,66)"/>
<stop offset="0.1568" stop-color="rgb(68,68,68)"/>
<stop offset="0.1595" stop-color="rgb(69,69,69)"/>
<stop offset="0.1622" stop-color="rgb(62,62,62)"/>
<stop offset="0.1649" stop-color="rgb(56,56,56)"/>
<stop offset="0.1676" stop-color="rgb(49,49,49)"/>
<stop offset="0.1703" stop-color="rgb(59,59,59)"/>
<stop offset="0.1730" stop-color="rgb(69,69,69)"/>
<stop offset="0.1757" stop-color="rgb(78,78,78)"/>
<stop offset="0.1784" stop-color="rgb(80,80,80)"/>
<stop offset="0.1811" stop-color="rgb(81,81,81)"/>
<stop offset="0.1838" stop-color="rgb(82,82,82)"/>
<stop offset="0.1865" stop-color="rgb(83,83,83)"/>
<stop offset="0.1892" stop-color="rgb(85,85,85)"/>
<stop offset="0.1919" stop-color="rgb(68,68,68)"/>
<stop offset="0.1946" stop-color="rgb(52,52,52)"/>
<stop offset="0.1973" stop-color="rgb(36,36,36)"/>
<stop offset="0.2000" stop-color="rgb(19,19,19)"/>
<stop offset="0.2027" stop-color="rgb(38,38,38)"/>
<stop offset="0.2054" stop-color="rgb(57,57,57)"/>
<stop offset="0.2081" stop-color="rgb(75,75,75)"/>
<stop offset="0.2108" stop-color="rgb(94,94,94)"/>
<stop offset="0.2135" stop-color="rgb(95,95,95)"/>
<stop offset="0.2162" stop-color="rgb(88,88,88)"/>
<stop offset="0.2189" stop-color="rgb(81,81,81)"/>
<stop offset="0.2216" stop-color="rgb(73,73,73)"/>
<stop offset="0.2243" stop-color="rgb(83,83,83)"/>
<stop offset="0.2270" stop-color="rgb(92,92,92)"/>
<stop offset="0.2297" stop-color="rgb(102,102,102)"/>
<stop offset="0.2324" stop-color="rgb(103,103,103)"/>
<stop offset="0.2351" stop-color="rgb(104,104,104)"/>
<stop offset="0.2378" stop-color="rgb(95,95,95)"/>
<stop offset="0.2405" stop-color="rgb(87,87,87)"/>
<stop offset="0.2432" stop-color="rgb(78,78,78)"/>
<stop offset="0.2459" stop-color="rgb(89,89,89)"/>
<stop offset="0.2486" stop-color="rgb(100,100,100)"/>
<stop offset="0.2514" stop-color="rgb(111,111,111)"/>
<stop offset="0.2541" stop-color="rgb(111,111,111)"/>
<stop offset="0.2568" stop-color="rgb(112,112,112)"/>
<stop offset="0.2595" stop-color="rgb(103,103,103)"/>
<stop offset="0.2622" stop-color="rgb(94,94,94)"/>
<stop offset="0.2649" stop-color="rgb(84,84,84)"/>
<stop offset="0.2676" stop-color="rgb(95,95,95)"/>
<stop offset="0.2703" stop-color="rgb(106,106,106)"/>
<stop offset="0.2730" stop-color="rgb(117,117,117)"/>
<stop offset="0.2757" stop-color="rgb(117,117,117)"/>
<stop offset="0.2784" stop-color="rgb(118,118,118)"/>
<stop offset="0.2811" stop-color="rgb(110,110,110)"/>
<stop offset="0.2838" stop-color="rgb(103,103,103)"/>
<stop offset="0.2865" stop-color="rgb(95,95,95)"/>
<stop offset="0.2892" stop-color="rgb(104,104,104)"/>
<stop offset="0.2919" stop-color="rgb(113,113,113)"/>
<stop offset="0.2946" stop-color="rgb(122,122,122)"/>
<stop offset="0.2973" stop-color="rgb(123,123,123)"/>
<stop offset="0.3000" stop-color="rgb(124,124,124)"/>
<stop offset="0.3027" stop-color="rgb(115,115,115)"/>
<stop offset="0.3054" stop-color="rgb(105,105,105)"/>
<stop offset="0.3081" stop-color="rgb(96,96,96)"/>
<stop offset="0.3108" stop-color="rgb(107,107,107)"/>
<stop offset="0.3135" stop-color="rgb(118,118,118)"/>
<stop offset="0.3162" stop-color="rgb(128,128,128)"/>
<stop offset="0.3189" stop-color="rgb(129,129,129)"/>
<stop offset="0.3216" stop-color="rgb(130,130,130)"/>
<stop offset="0.3243" stop-color="rgb(122,122,122)"/>
<stop offset="0.3270" stop-color="rgb(115,115,115)"/>
<stop offset="0.3297" stop-color="rgb(107,107,107)"/>
<stop offset="0.3324" stop-color="rgb(116,116,116)"/>
<stop offset="0.3351" stop-color="rgb(125,125,125)"/>
<stop offset="0.3378" stop-color="rgb(134,134,134)"/>
<stop offset="0.3405" stop-color="rgb(135,135,135)"/>
<stop offset="0.3432" stop-color="rgb(136,136,136)"/>
<stop offset="0.3459" stop-color="rgb(127,127,127)"/>
<stop offset="0.3486" stop-color="rgb(117,117,117)"/>
<stop offset="0.3514" stop-color="rgb(108,108,108)"/>
<stop offset="0.3541" stop-color="rgb(119,119,119)"/>
<stop offset="0.3568" stop-color="rgb(130,130,130)"/>
<stop offset="0.3595" stop-color="rgb(140,140,140)"/>
<stop offset="0.3622" stop-color="rgb(141,141,141)"/>
<stop offset="0.3649" stop-color="rgb(142,142,142)"/>
<stop offset="0.3676" stop-color="rgb(143,143,143)"/>
<stop offset="0.3703" stop-color="rgb(144,144,144)"/>
<stop offset="0.3730" stop-color="rgb(136,136,136)"/>
<stop offset="0.3757" stop-color="rgb(128,128,128)"/>
<stop offset="0.3784" stop-color="rgb(121,121,121)"/>
<stop offset="0.3811" stop-color="rgb(130,130,130)"/>
<stop offset="0.3838" stop-color="rgb(139,139,139)"/>
<stop offset="0.3865" stop-color="rgb(148,148,148)"/>
<stop offset="0.3892" stop-color="rgb(149,149,149)"/>
<stop offset="0.3919" stop-color="rgb(150,150,150)"/>
<stop offset="0.3946" stop-color="rgb(150,150,150)"/>
<stop offset="0.3973" stop-color="rgb(151,151,151)"/>
<stop offset="0.4000" stop-color="rgb(142,142,142)"/>
<stop offset="0.4027" stop-color="rgb(133,133,133)"/>
<stop offset="0.4054" stop-color="rgb(123,123,123)"/>
<stop offset="0.4081" stop-color="rgb(134,134,134)"/>
<stop offset="0.4108" stop-color="rgb(145,145,145)"/>
<stop offset="0.4135" stop-color="rgb(156,156,156)"/>
<stop offset="0.4162" stop-color="rgb(156,156,156)"/>
<stop offset="0.4189" stop-color="rgb(157,157,157)"/>
<stop offset="0.4216" stop-color="rgb(158,158,158)"/>
<stop offset="0.4243" stop-color="rgb(158,158,158)"/>
<stop offset="0.4270" stop-color="rgb(151,151,151)"/>
<stop offset="0.4297" stop-color="rgb(143,143,143)"/>
<stop offset="0.4324" stop-color="rgb(135,135,135)"/>
<stop offset="0.4351" stop-color="rgb(144,144,144)"/>
<stop offset="0.4378" stop-color="rgb(153,153,153)"/>
<stop offset="0.4405" stop-color="rgb(162,162,162)"/>
<stop offset="0.4432" stop-color="rgb(163,163,163)"/>
<stop offset="0.4459" stop-color="rgb(164,164,164)"/>
<stop offset="0.4486" stop-color="rgb(164,164,164)"/>
<stop offset="0.4514" stop-color="rgb(165,165,165)"/>
<stop offset="0.4541" stop-color="rgb(166,166,166)"/>
<stop offset="0.4568" stop-color="rgb(166,166,166)"/>
<stop offset="0.4595" stop-color="rgb(167,167,167)"/>
<stop offset="0.4622" stop-color="rgb(168,168,168)"/>
<stop offset="0.4649" stop-color="rgb(160,160,160)"/>
<stop offset="0.4676" stop-color="rgb(152,152,152)"/>
<stop offset="0.4703" stop-color="rgb(145,145,145)"/>
<stop offset="0.4730" stop-color="rgb(154,154,154)"/>
<stop offset="0.4757" stop-color="rgb(163,163,163)"/>
<stop offset="0.4784" stop-color="rgb(172,172,172)"/>
<stop offset="0.4811" stop-color="rgb(172,172,172)"/>
<stop offset="0.4838" stop-color="rgb(173,173,173)"/>
<stop offset="0.4865" stop-color="rgb(174,174,174)"/>
<stop offset="0.4892" stop-color="rgb(174,174,174)"/>
<stop offset="0.4919" stop-color="rgb(175,175,175)"/>
<stop offset="0.4946" stop-color="rgb(176,176,176)"/>
<stop offset="0.4973" stop-color="rgb(177,177,177)"/>
<stop offset="0.5000" stop-color="rgb(178,178,178)"/>
<stop offset="0.5027" stop-color="rgb(170,170,170)"/>
<stop offset="0.5054" stop-color="rgb(162,162,162)"/>
<stop offset="0.5081" stop-color="rgb(155,155,155)"/>
<stop offset="0.5108" stop-color="rgb(164,164,164)"/>
<stop offset="0.5135" stop-color="rgb(173,173,173)"/>
<stop offset="0.5162" stop-color="rgb(182,182,182)"/>
<stop offset="0.5189" stop-color="rgb(183,183,183)"/>
<stop offset="0.5216" stop-color="rgb(184,184,184)"/>
<stop offset="0.5243" stop-color="rgb(185,185,185)"/>
<stop offset="0.5270" stop-color="rgb(186,186,186)"/>
<stop offset="0.5297" stop-color="rgb(187,187,187)"/>
<stop offset="0.5324" stop-color="rgb(188,188,188)"/>
<stop offset="0.5351" stop-color="rgb(188,188,188)"/>
<stop offset="0.5378" stop-color="rgb(189,189,189)"/>
<stop offset="0.5405" stop-color="rgb(190,190,190)"/>
<stop offset="0.5432" stop-color="rgb(191,191,191)"/>
<stop offset="0.5459" stop-color="rgb(192,192,192)"/>
<stop offset="0.5486" stop-color="rgb(192,192,192)"/>
<stop offset="0.5514" stop-color="rgb(193,193,193)"/>
<stop offset="0.5541" stop-color="rgb(185,185,185)"/>
<stop offset="0.5568" stop-color="rgb(178,178,178)"/>
<stop offset="0.5595" stop-color="rgb(170,170,170)"/>
<stop offset="0.5622" stop-color="rgb(162,162,162)"/>
<stop offset="0.5649" stop-color="rgb(171,171,171)"/>
<stop offset="0.5676" stop-color="rgb(181,181,181)"/>
<stop offset="0.5703" stop-color="rgb(190,190,190)"/>
<stop offset="0.5730" stop-color="rgb(200,200,200)"/>
<stop offset="0.5757" stop-color="rgb(201,201,201)"/>
<stop offset="0.5784" stop-color="rgb(202,202,202)"/>
<stop offset="0.5811" stop-color="rgb(202,202,202)"/>
<stop offset="0.5838" stop-color="rgb(203,203,203)"/>
<stop offset="0.5865" stop-color="rgb(204,204,204)"/>
<stop offset="0.5892" stop-color="rgb(205,205,205)"/>
<stop offset="0.5919" stop-color="rgb(206,206,206)"/>
<stop offset="0.5946" stop-color="rgb(206,206,206)"/>
<stop offset="0.5973" stop-color="rgb(207,207,207)"/>
<stop offset="0.6000" stop-color="rgb(208,208,208)"/>
<stop offset="0.6027" stop-color="rgb(209,209,209)"/>
<stop offset="0.6054" stop-color="rgb(210,210,210)"/>
<stop offset="0.6081" stop-color="rgb(210,210,210)"/>
<stop offset="0.6108" stop-color="rgb(211,211,211)"/>
<stop offset="0.6135" stop-color="rgb(212,212,212)"/>
<stop offset="0.6162" stop-color="rgb(213,213,213)"/>
<stop offset="0.6189" stop-color="rgb(214,214,214)"/>
<stop offset="0.6216" stop-color="rgb(214,214,214)"/>
<stop offset="0.6243" stop-color="rgb(215,215,215)"/>
<stop offset="0.6270" stop-color="rgb(216,216,216)"/>
<stop offset="0.6297" stop-color="rgb(216,216,216)"/>
<stop offset="0.6324" stop-color="rgb(216,216,216)"/>
<stop offset="0.6351" stop-color="rgb(217,217,217)"/>
<stop offset="0.6378" stop-color="rgb(206,206,206)"/>
<stop offset="0.6405" stop-color="rgb(179,179,179)"/>
<stop offset="0.6432" stop-color="rgb(151,151,151)"/>
<stop offset="0.6459" stop-color="rgb(124,124,124)"/>
<stop offset="0.6486" stop-color="rgb(119,119,119)"/>
<stop offset="0.6514" stop-color="rgb(147,147,147)"/>
<stop offset="0.6541" stop-color="rgb(174,174,174)"/>
<stop offset="0.6568" stop-color="rgb(202,202,202)"/>
<stop offset="0.6595" stop-color="rgb(219,219,219)"/>
<stop offset="0.6622" stop-color="rgb(219,219,219)"/>
<stop offset="0.6649" stop-color="rgb(219,219,219)"/>
<stop offset="0.6676" stop-color="rgb(219,219,219)"/>
<stop offset="0.6703" stop-color="rgb(220,220,220)"/>
<stop offset="0.6730" stop-color="rgb(220,220,220)"/>
<stop offset="0.6757" stop-color="rgb(220,220,220)"/>
<stop offset="0.6784" stop-color="rgb(220,220,220)"/>
<stop offset="0.6811" stop-color="rgb(221,221,221)"/>
<stop offset="0.6838" stop-color="rgb(206,206,206)"/>
<stop offset="0.6865" stop-color="rgb(191,191,191)"/>
<stop offset="0.6892" stop-color="rgb(176,176,176)"/>
<stop offset="0.6919" stop-color="rgb(191,191,191)"/>
<stop offset="0.6946" stop-color="rgb(207,207,207)"/>
<stop offset="0.6973" stop-color="rgb(222,222,222)"/>
<stop offset="0.7000" stop-color="rgb(222,222,222)"/>
<stop offset="0.7027" stop-color="rgb(222,222,222)"/>
<stop offset="0.7054" stop-color="rgb(223,223,223)"/>
<stop offset="0.7081" stop-color="rgb(223,223,223)"/>
<stop offset="0.7108" stop-color="rgb(223,223,223)"/>
<stop offset="0.7135" stop-color="rgb(223,223,223)"/>
<stop offset="0.7162" stop-color="rgb(224,224,224)"/>
<stop offset="0.7189" stop-color="rgb(224,224,224)"/>
<stop offset="0.7216" stop-color="rgb(224,224,224)"/>
<stop offset="0.7243" stop-color="rgb(216,216,216)"/>
<stop offset="0.7270" stop-color="rgb(208,208,208)"/>
<stop offset="0.7297" stop-color="rgb(200,200,200)"/>
<stop offset="0.7324" stop-color="rgb(208,208,208)"/>
<stop offset="0.7351" stop-color="rgb(217,217,217)"/>
<stop offset="0.7378" stop-color="rgb(225,225,225)"/>
<stop offset="0.7405" stop-color="rgb(226,226,226)"/>
<stop offset="0.7432" stop-color="rgb(226,226,226)"/>
<stop offset="0.7459" stop-color="rgb(226,226,226)"/>
<stop offset="0.7486" stop-color="rgb(226,226,226)"/>
<stop offset="0.7514" stop-color="rgb(227,227,227)"/>
<stop offset="0.7541" stop-color="rgb(227,227,227)"/>
<stop offset="0.7568" stop-color="rgb(227,227,227)"/>
<stop offset="0.7595" stop-color="rgb(227,227,227)"/>
<stop offset="0.7622" stop-color="rgb(227,227,227)"/>
<stop offset="0.7649" stop-color="rgb(228,228,228)"/>
<stop offset="0.7676" stop-color="rgb(228,228,228)"/>
<stop offset="0.7703" stop-color="rgb(228,228,228)"/>
<stop offset="0.7730" stop-color="rgb(228,228,228)"/>
<stop offset="0.7757" stop-color="rgb(229,229,229)"/>
<stop offset="0.7784" stop-color="rgb(229,229,229)"/>
<stop offset="0.7811" stop-color="rgb(229,229,229)"/>
<stop offset="0.7838" stop-color="rgb(229,229,229)"/>
<stop offset="0.7865" stop-color="rgb(229,229,229)"/>
<stop offset="0.7892" stop-color="rgb(225,225,225)"/>
<stop offset="0.7919" stop-color="rgb(220,220,220)"/>
<stop offset="0.7946" stop-color="rgb(215,215,215)"/>
<stop offset="0.7973" stop-color="rgb(220,220,220)"/>
<stop offset="0.8000" stop-color="rgb(226,226,226)"/>
<stop offset="0.8027" stop-color="rgb(231,231,231)"/>
<stop offset="0.8054" stop-color="rgb(231,231,231)"/>
<stop offset="0.8081" stop-color="rgb(231,231,231)"/>
<stop offset="0.8108" stop-color="rgb(232,232,232)"/>
<stop offset="0.8135" stop-color="rgb(232,232,232)"/>
<stop offset="0.8162" stop-color="rgb(232,232,232)"/>
<stop offset="0.8189" stop-color="rgb(232,232,232)"/>
<stop offset="0.8216" stop-color="rgb(232,232,232)"/>
<stop offset="0.8243" stop-color="rgb(232,232,232)"/>
<stop offset="0.8270" stop-color="rgb(232,232,232)"/>
<stop offset="0.8297" stop-color="rgb(232,232,232)"/>
<stop offset="0.8324" stop-color="rgb(233,233,233)"/>
<stop offset="0.8351" stop-color="rgb(233,233,233)"/>
<stop offset="0.8378" stop-color="rgb(233,233,233)"/>
<stop offset="0.8405" stop-color="rgb(233,233,233)"/>
<stop offset="0.8432" stop-color="rgb(233,233,233)"/>
<stop offset="0.8459" stop-color="rgb(233,233,233)"/>
<stop offset="0.8486" stop-color="rgb(233,233,233)"/>
<stop offset="0.8514" stop-color="rgb(233,233,233)"/>
<stop offset="0.8541" stop-color="rgb(233,233,233)"/>
<stop offset="0.8568" stop-color="rgb(233,233,233)"/>
<stop offset="0.8595" stop-color="rgb(233,233,233)"/>
<stop offset="0.8622" stop-color="rgb(234,234,234)"/>
<stop offset="0.8649" stop-color="rgb(230,230,230)"/>
<stop offset="0.8676" stop-color="rgb(227,227,227)"/>
<stop offset="0.8703" stop-color="rgb(224,224,224)"/>
<stop offset="0.8730" stop-color="rgb(227,227,227)"/>
<stop offset="0.8757" stop-color="rgb(231,231,231)"/>
<stop offset="0.8784" stop-color="rgb(234,234,234)"/>
<stop offset="0.8811" stop-color="rgb(234,234,234)"/>
<stop offset="0.8838" stop-color="rgb(234,234,234)"/>
<stop offset="0.8865" stop-color="rgb(234,234,234)"/>
<stop offset="0.8892" stop-color="rgb(234,234,234)"/>
<stop offset="0.8919" stop-color="rgb(234,234,234)"/>
<stop offset="0.8946" stop-color="rgb(235,235,235)"/>
<stop offset="0.8973" stop-color="rgb(235,235,235)"/>
<stop offset="0.9000" stop-color="rgb(235,235,235)"/>
<stop offset="0.9027" stop-color="rgb(235,235,235)"/>
<stop offset="0.9054" stop-color="rgb(235,235,235)"/>
<stop offset="0.9081" stop-color="rgb(235,235,235)"/>
<stop offset="0.9108" stop-color="rgb(235,235,235)"/>
<stop offset="0.9135" stop-color="rgb(235,235,235)"/>
<stop offset="0.9162" stop-color="rgb(235,235,235)"/>
<stop offset="0.9189" stop-color="rgb(235,235,235)"/>
<stop offset="0.9216" stop-color="rgb(235,235,235)"/>
<stop offset="0.9243" stop-color="rgb(236,236,236)"/>
<stop offset="0.9270" stop-color="rgb(236,236,236)"/>
<stop offset="0.9297" stop-color="rgb(236,236,236)"/>
<stop offset="0.9324" stop-color="rgb(236,236,236)"/>
<stop offset="0.9351" stop-color="rgb(236,236,236)"/>
<stop offset="0.9378" stop-color="rgb(236,236,236)"/>
<stop offset="0.9405" stop-color="rgb(236,236,236)"/>
<stop offset="0.9432" stop-color="rgb(236,236,236)"/>
<stop offset="0.9459" stop-color="rgb(236,236,236)"/>
<stop offset="0.9486" stop-color="rgb(236,236,236)"/>
<stop offset="0.9514" stop-color="rgb(236,236,236)"/>
<stop offset="0.9541" stop-color="rgb(236,236,236)"/>
<stop offset="0.9568" stop-color="rgb(237,237,237)"/>
<stop offset="0.9595" stop-color="rgb(237,237,237)"/>
<stop offset="0.9622" stop-color="rgb(237,237,237)"/>
<stop offset="0.9649" stop-color="rgb(237,237,237)"/>
<stop offset="0.9676" stop-color="rgb(237,237,237)"/>
<stop offset="0.9703" stop-color="rgb(237,237,237)"/>
<stop offset="0.9730" stop-color="rgb(237,237,237)"/>
<stop offset="0.9757" stop-color="rgb(237,237,237)"/>
<stop offset="0.9784" stop-color="rgb(237,237,237)"/>
<stop offset="0.9811" stop-color="rgb(237,237,237)"/>
<stop offset="0.9838" stop-color="rgb(237,237,237)"/>
<stop offset="0.9865" stop-color="rgb(238,238,238)"/>
<stop offset="0.9892" stop-color="rgb(238,238,238)"/>
<stop offset="0.9919" stop-color="rgb(238,238,238)"/>
<stop offset="0.9946" stop-color="rgb(238,238,238)"/>
<stop offset="0.9973" stop-color="rgb(238,238,238)"/>
<stop offset="1.0000" stop-color="rgb(238,238,238)"/>
</linearGradient>
<linearGradient id="gD3" x1="0" y1="149" x2="0" y2="334" gradientUnits="userSpaceOnUse">
<stop offset="0.0000" stop-color="rgb(200,200,200)"/>
<stop offset="0.0027" stop-color="rgb(105,105,105)"/>
<stop offset="0.0054" stop-color="rgb(10,10,10)"/>
<stop offset="0.0081" stop-color="rgb(10,10,10)"/>
<stop offset="0.0108" stop-color="rgb(10,10,10)"/>
<stop offset="0.0135" stop-color="rgb(10,10,10)"/>
<stop offset="0.0162" stop-color="rgb(10,10,10)"/>
<stop offset="0.0189" stop-color="rgb(10,10,10)"/>
<stop offset="0.0216" stop-color="rgb(9,9,9)"/>
<stop offset="0.0243" stop-color="rgb(9,9,9)"/>
<stop offset="0.0270" stop-color="rgb(9,9,9)"/>
<stop offset="0.0297" stop-color="rgb(9,9,9)"/>
<stop offset="0.0324" stop-color="rgb(9,9,9)"/>
<stop offset="0.0351" stop-color="rgb(9,9,9)"/>
<stop offset="0.0378" stop-color="rgb(9,9,9)"/>
<stop offset="0.0405" stop-color="rgb(9,9,9)"/>
<stop offset="0.0432" stop-color="rgb(9,9,9)"/>
<stop offset="0.0459" stop-color="rgb(8,8,8)"/>
<stop offset="0.0486" stop-color="rgb(8,8,8)"/>
<stop offset="0.0514" stop-color="rgb(8,8,8)"/>
<stop offset="0.0541" stop-color="rgb(8,8,8)"/>
<stop offset="0.0568" stop-color="rgb(8,8,8)"/>
<stop offset="0.0595" stop-color="rgb(8,8,8)"/>
<stop offset="0.0622" stop-color="rgb(10,10,10)"/>
<stop offset="0.0649" stop-color="rgb(12,12,12)"/>
<stop offset="0.0676" stop-color="rgb(15,15,15)"/>
<stop offset="0.0703" stop-color="rgb(17,17,17)"/>
<stop offset="0.0730" stop-color="rgb(19,19,19)"/>
<stop offset="0.0757" stop-color="rgb(21,21,21)"/>
<stop offset="0.0784" stop-color="rgb(23,23,23)"/>
<stop offset="0.0811" stop-color="rgb(26,26,26)"/>
<stop offset="0.0838" stop-color="rgb(28,28,28)"/>
<stop offset="0.0865" stop-color="rgb(30,30,30)"/>
<stop offset="0.0892" stop-color="rgb(34,34,34)"/>
<stop offset="0.0919" stop-color="rgb(37,37,37)"/>
<stop offset="0.0946" stop-color="rgb(40,40,40)"/>
<stop offset="0.0973" stop-color="rgb(44,44,44)"/>
<stop offset="0.1000" stop-color="rgb(48,48,48)"/>
<stop offset="0.1027" stop-color="rgb(51,51,51)"/>
<stop offset="0.1054" stop-color="rgb(54,54,54)"/>
<stop offset="0.1081" stop-color="rgb(58,58,58)"/>
<stop offset="0.1108" stop-color="rgb(55,55,55)"/>
<stop offset="0.1135" stop-color="rgb(52,52,52)"/>
<stop offset="0.1162" stop-color="rgb(48,48,48)"/>
<stop offset="0.1189" stop-color="rgb(44,44,44)"/>
<stop offset="0.1216" stop-color="rgb(52,52,52)"/>
<stop offset="0.1243" stop-color="rgb(60,60,60)"/>
<stop offset="0.1270" stop-color="rgb(68,68,68)"/>
<stop offset="0.1297" stop-color="rgb(76,76,76)"/>
<stop offset="0.1324" stop-color="rgb(78,78,78)"/>
<stop offset="0.1351" stop-color="rgb(80,80,80)"/>
<stop offset="0.1378" stop-color="rgb(82,82,82)"/>
<stop offset="0.1405" stop-color="rgb(77,77,77)"/>
<stop offset="0.1432" stop-color="rgb(72,72,72)"/>
<stop offset="0.1459" stop-color="rgb(68,68,68)"/>
<stop offset="0.1486" stop-color="rgb(76,76,76)"/>
<stop offset="0.1514" stop-color="rgb(85,85,85)"/>
<stop offset="0.1541" stop-color="rgb(93,93,93)"/>
<stop offset="0.1568" stop-color="rgb(95,95,95)"/>
<stop offset="0.1595" stop-color="rgb(96,96,96)"/>
<stop offset="0.1622" stop-color="rgb(97,97,97)"/>
<stop offset="0.1649" stop-color="rgb(98,98,98)"/>
<stop offset="0.1676" stop-color="rgb(93,93,93)"/>
<stop offset="0.1703" stop-color="rgb(87,87,87)"/>
<stop offset="0.1730" stop-color="rgb(81,81,81)"/>
<stop offset="0.1757" stop-color="rgb(89,89,89)"/>
<stop offset="0.1784" stop-color="rgb(97,97,97)"/>
<stop offset="0.1811" stop-color="rgb(105,105,105)"/>
<stop offset="0.1838" stop-color="rgb(106,106,106)"/>
<stop offset="0.1865" stop-color="rgb(107,107,107)"/>
<stop offset="0.1892" stop-color="rgb(108,108,108)"/>
<stop offset="0.1919" stop-color="rgb(94,94,94)"/>
<stop offset="0.1946" stop-color="rgb(80,80,80)"/>
<stop offset="0.1973" stop-color="rgb(66,66,66)"/>
<stop offset="0.2000" stop-color="rgb(53,53,53)"/>
<stop offset="0.2027" stop-color="rgb(70,70,70)"/>
<stop offset="0.2054" stop-color="rgb(86,86,86)"/>
<stop offset="0.2081" stop-color="rgb(102,102,102)"/>
<stop offset="0.2108" stop-color="rgb(119,119,119)"/>
<stop offset="0.2135" stop-color="rgb(120,120,120)"/>
<stop offset="0.2162" stop-color="rgb(115,115,115)"/>
<stop offset="0.2189" stop-color="rgb(110,110,110)"/>
<stop offset="0.2216" stop-color="rgb(105,105,105)"/>
<stop offset="0.2243" stop-color="rgb(113,113,113)"/>
<stop offset="0.2270" stop-color="rgb(121,121,121)"/>
<stop offset="0.2297" stop-color="rgb(130,130,130)"/>
<stop offset="0.2324" stop-color="rgb(131,131,131)"/>
<stop offset="0.2351" stop-color="rgb(132,132,132)"/>
<stop offset="0.2378" stop-color="rgb(126,126,126)"/>
<stop offset="0.2405" stop-color="rgb(119,119,119)"/>
<stop offset="0.2432" stop-color="rgb(112,112,112)"/>
<stop offset="0.2459" stop-color="rgb(122,122,122)"/>
<stop offset="0.2486" stop-color="rgb(132,132,132)"/>
<stop offset="0.2514" stop-color="rgb(141,141,141)"/>
<stop offset="0.2541" stop-color="rgb(141,141,141)"/>
<stop offset="0.2568" stop-color="rgb(142,142,142)"/>
<stop offset="0.2595" stop-color="rgb(135,135,135)"/>
<stop offset="0.2622" stop-color="rgb(127,127,127)"/>
<stop offset="0.2649" stop-color="rgb(119,119,119)"/>
<stop offset="0.2676" stop-color="rgb(128,128,128)"/>
<stop offset="0.2703" stop-color="rgb(138,138,138)"/>
<stop offset="0.2730" stop-color="rgb(147,147,147)"/>
<stop offset="0.2757" stop-color="rgb(147,147,147)"/>
<stop offset="0.2784" stop-color="rgb(148,148,148)"/>
<stop offset="0.2811" stop-color="rgb(142,142,142)"/>
<stop offset="0.2838" stop-color="rgb(136,136,136)"/>
<stop offset="0.2865" stop-color="rgb(130,130,130)"/>
<stop offset="0.2892" stop-color="rgb(138,138,138)"/>
<stop offset="0.2919" stop-color="rgb(145,145,145)"/>
<stop offset="0.2946" stop-color="rgb(152,152,152)"/>
<stop offset="0.2973" stop-color="rgb(153,153,153)"/>
<stop offset="0.3000" stop-color="rgb(154,154,154)"/>
<stop offset="0.3027" stop-color="rgb(146,146,146)"/>
<stop offset="0.3054" stop-color="rgb(139,139,139)"/>
<stop offset="0.3081" stop-color="rgb(131,131,131)"/>
<stop offset="0.3108" stop-color="rgb(140,140,140)"/>
<stop offset="0.3135" stop-color="rgb(149,149,149)"/>
<stop offset="0.3162" stop-color="rgb(158,158,158)"/>
<stop offset="0.3189" stop-color="rgb(159,159,159)"/>
<stop offset="0.3216" stop-color="rgb(160,160,160)"/>
<stop offset="0.3243" stop-color="rgb(154,154,154)"/>
<stop offset="0.3270" stop-color="rgb(148,148,148)"/>
<stop offset="0.3297" stop-color="rgb(142,142,142)"/>
<stop offset="0.3324" stop-color="rgb(149,149,149)"/>
<stop offset="0.3351" stop-color="rgb(157,157,157)"/>
<stop offset="0.3378" stop-color="rgb(164,164,164)"/>
<stop offset="0.3405" stop-color="rgb(165,165,165)"/>
<stop offset="0.3432" stop-color="rgb(165,165,165)"/>
<stop offset="0.3459" stop-color="rgb(158,158,158)"/>
<stop offset="0.3486" stop-color="rgb(150,150,150)"/>
<stop offset="0.3514" stop-color="rgb(142,142,142)"/>
<stop offset="0.3541" stop-color="rgb(151,151,151)"/>
<stop offset="0.3568" stop-color="rgb(160,160,160)"/>
<stop offset="0.3595" stop-color="rgb(169,169,169)"/>
<stop offset="0.3622" stop-color="rgb(170,170,170)"/>
<stop offset="0.3649" stop-color="rgb(171,171,171)"/>
<stop offset="0.3676" stop-color="rgb(171,171,171)"/>
<stop offset="0.3703" stop-color="rgb(172,172,172)"/>
<stop offset="0.3730" stop-color="rgb(166,166,166)"/>
<stop offset="0.3757" stop-color="rgb(160,160,160)"/>
<stop offset="0.3784" stop-color="rgb(154,154,154)"/>
<stop offset="0.3811" stop-color="rgb(161,161,161)"/>
<stop offset="0.3838" stop-color="rgb(169,169,169)"/>
<stop offset="0.3865" stop-color="rgb(176,176,176)"/>
<stop offset="0.3892" stop-color="rgb(177,177,177)"/>
<stop offset="0.3919" stop-color="rgb(177,177,177)"/>
<stop offset="0.3946" stop-color="rgb(178,178,178)"/>
<stop offset="0.3973" stop-color="rgb(179,179,179)"/>
<stop offset="0.4000" stop-color="rgb(173,173,173)"/>
<stop offset="0.4027" stop-color="rgb(167,167,167)"/>
<stop offset="0.4054" stop-color="rgb(161,161,161)"/>
<stop offset="0.4081" stop-color="rgb(168,168,168)"/>
<stop offset="0.4108" stop-color="rgb(175,175,175)"/>
<stop offset="0.4135" stop-color="rgb(183,183,183)"/>
<stop offset="0.4162" stop-color="rgb(183,183,183)"/>
<stop offset="0.4189" stop-color="rgb(184,184,184)"/>
<stop offset="0.4216" stop-color="rgb(184,184,184)"/>
<stop offset="0.4243" stop-color="rgb(185,185,185)"/>
<stop offset="0.4270" stop-color="rgb(179,179,179)"/>
<stop offset="0.4297" stop-color="rgb(172,172,172)"/>
<stop offset="0.4324" stop-color="rgb(166,166,166)"/>
<stop offset="0.4351" stop-color="rgb(173,173,173)"/>
<stop offset="0.4378" stop-color="rgb(181,181,181)"/>
<stop offset="0.4405" stop-color="rgb(188,188,188)"/>
<stop offset="0.4432" stop-color="rgb(188,188,188)"/>
<stop offset="0.4459" stop-color="rgb(189,189,189)"/>
<stop offset="0.4486" stop-color="rgb(189,189,189)"/>
<stop offset="0.4514" stop-color="rgb(190,190,190)"/>
<stop offset="0.4541" stop-color="rgb(191,191,191)"/>
<stop offset="0.4568" stop-color="rgb(191,191,191)"/>
<stop offset="0.4595" stop-color="rgb(192,192,192)"/>
<stop offset="0.4622" stop-color="rgb(192,192,192)"/>
<stop offset="0.4649" stop-color="rgb(188,188,188)"/>
<stop offset="0.4676" stop-color="rgb(183,183,183)"/>
<stop offset="0.4703" stop-color="rgb(179,179,179)"/>
<stop offset="0.4730" stop-color="rgb(184,184,184)"/>
<stop offset="0.4757" stop-color="rgb(190,190,190)"/>
<stop offset="0.4784" stop-color="rgb(195,195,195)"/>
<stop offset="0.4811" stop-color="rgb(196,196,196)"/>
<stop offset="0.4838" stop-color="rgb(196,196,196)"/>
<stop offset="0.4865" stop-color="rgb(197,197,197)"/>
<stop offset="0.4892" stop-color="rgb(197,197,197)"/>
<stop offset="0.4919" stop-color="rgb(198,198,198)"/>
<stop offset="0.4946" stop-color="rgb(199,199,199)"/>
<stop offset="0.4973" stop-color="rgb(199,199,199)"/>
<stop offset="0.5000" stop-color="rgb(200,200,200)"/>
<stop offset="0.5027" stop-color="rgb(195,195,195)"/>
<stop offset="0.5054" stop-color="rgb(191,191,191)"/>
<stop offset="0.5081" stop-color="rgb(187,187,187)"/>
<stop offset="0.5108" stop-color="rgb(192,192,192)"/>
<stop offset="0.5135" stop-color="rgb(198,198,198)"/>
<stop offset="0.5162" stop-color="rgb(203,203,203)"/>
<stop offset="0.5189" stop-color="rgb(204,204,204)"/>
<stop offset="0.5216" stop-color="rgb(205,205,205)"/>
<stop offset="0.5243" stop-color="rgb(205,205,205)"/>
<stop offset="0.5270" stop-color="rgb(206,206,206)"/>
<stop offset="0.5297" stop-color="rgb(206,206,206)"/>
<stop offset="0.5324" stop-color="rgb(207,207,207)"/>
<stop offset="0.5351" stop-color="rgb(208,208,208)"/>
<stop offset="0.5378" stop-color="rgb(208,208,208)"/>
<stop offset="0.5405" stop-color="rgb(209,209,209)"/>
<stop offset="0.5432" stop-color="rgb(209,209,209)"/>
<stop offset="0.5459" stop-color="rgb(210,210,210)"/>
<stop offset="0.5486" stop-color="rgb(211,211,211)"/>
<stop offset="0.5514" stop-color="rgb(211,211,211)"/>
<stop offset="0.5541" stop-color="rgb(212,212,212)"/>
<stop offset="0.5568" stop-color="rgb(207,207,207)"/>
<stop offset="0.5595" stop-color="rgb(203,203,203)"/>
<stop offset="0.5622" stop-color="rgb(199,199,199)"/>
<stop offset="0.5649" stop-color="rgb(204,204,204)"/>
<stop offset="0.5676" stop-color="rgb(210,210,210)"/>
<stop offset="0.5703" stop-color="rgb(215,215,215)"/>
<stop offset="0.5730" stop-color="rgb(216,216,216)"/>
<stop offset="0.5757" stop-color="rgb(217,217,217)"/>
<stop offset="0.5784" stop-color="rgb(217,217,217)"/>
<stop offset="0.5811" stop-color="rgb(218,218,218)"/>
<stop offset="0.5838" stop-color="rgb(219,219,219)"/>
<stop offset="0.5865" stop-color="rgb(219,219,219)"/>
<stop offset="0.5892" stop-color="rgb(220,220,220)"/>
<stop offset="0.5919" stop-color="rgb(221,221,221)"/>
<stop offset="0.5946" stop-color="rgb(221,221,221)"/>
<stop offset="0.5973" stop-color="rgb(222,222,222)"/>
<stop offset="0.6000" stop-color="rgb(222,222,222)"/>
<stop offset="0.6027" stop-color="rgb(223,223,223)"/>
<stop offset="0.6054" stop-color="rgb(224,224,224)"/>
<stop offset="0.6081" stop-color="rgb(224,224,224)"/>
<stop offset="0.6108" stop-color="rgb(225,225,225)"/>
<stop offset="0.6135" stop-color="rgb(226,226,226)"/>
<stop offset="0.6162" stop-color="rgb(226,226,226)"/>
<stop offset="0.6189" stop-color="rgb(227,227,227)"/>
<stop offset="0.6216" stop-color="rgb(228,228,228)"/>
<stop offset="0.6243" stop-color="rgb(228,228,228)"/>
<stop offset="0.6270" stop-color="rgb(229,229,229)"/>
<stop offset="0.6297" stop-color="rgb(229,229,229)"/>
<stop offset="0.6324" stop-color="rgb(229,229,229)"/>
<stop offset="0.6351" stop-color="rgb(229,229,229)"/>
<stop offset="0.6378" stop-color="rgb(210,210,210)"/>
<stop offset="0.6405" stop-color="rgb(190,190,190)"/>
<stop offset="0.6432" stop-color="rgb(170,170,170)"/>
<stop offset="0.6459" stop-color="rgb(150,150,150)"/>
<stop offset="0.6486" stop-color="rgb(170,170,170)"/>
<stop offset="0.6514" stop-color="rgb(190,190,190)"/>
<stop offset="0.6541" stop-color="rgb(210,210,210)"/>
<stop offset="0.6568" stop-color="rgb(230,230,230)"/>
<stop offset="0.6595" stop-color="rgb(231,231,231)"/>
<stop offset="0.6622" stop-color="rgb(231,231,231)"/>
<stop offset="0.6649" stop-color="rgb(231,231,231)"/>
<stop offset="0.6676" stop-color="rgb(231,231,231)"/>
<stop offset="0.6703" stop-color="rgb(231,231,231)"/>
<stop offset="0.6730" stop-color="rgb(231,231,231)"/>
<stop offset="0.6757" stop-color="rgb(231,231,231)"/>
<stop offset="0.6784" stop-color="rgb(231,231,231)"/>
<stop offset="0.6811" stop-color="rgb(232,232,232)"/>
<stop offset="0.6838" stop-color="rgb(225,225,225)"/>
<stop offset="0.6865" stop-color="rgb(218,218,218)"/>
<stop offset="0.6892" stop-color="rgb(212,212,212)"/>
<stop offset="0.6919" stop-color="rgb(219,219,219)"/>
<stop offset="0.6946" stop-color="rgb(226,226,226)"/>
<stop offset="0.6973" stop-color="rgb(232,232,232)"/>
<stop offset="0.7000" stop-color="rgb(232,232,232)"/>
<stop offset="0.7027" stop-color="rgb(233,233,233)"/>
<stop offset="0.7054" stop-color="rgb(233,233,233)"/>
<stop offset="0.7081" stop-color="rgb(233,233,233)"/>
<stop offset="0.7108" stop-color="rgb(233,233,233)"/>
<stop offset="0.7135" stop-color="rgb(233,233,233)"/>
<stop offset="0.7162" stop-color="rgb(233,233,233)"/>
<stop offset="0.7189" stop-color="rgb(233,233,233)"/>
<stop offset="0.7216" stop-color="rgb(234,234,234)"/>
<stop offset="0.7243" stop-color="rgb(230,230,230)"/>
<stop offset="0.7270" stop-color="rgb(227,227,227)"/>
<stop offset="0.7297" stop-color="rgb(224,224,224)"/>
<stop offset="0.7324" stop-color="rgb(227,227,227)"/>
<stop offset="0.7351" stop-color="rgb(231,231,231)"/>
<stop offset="0.7378" stop-color="rgb(234,234,234)"/>
<stop offset="0.7405" stop-color="rgb(234,234,234)"/>
<stop offset="0.7432" stop-color="rgb(235,235,235)"/>
<stop offset="0.7459" stop-color="rgb(235,235,235)"/>
<stop offset="0.7486" stop-color="rgb(235,235,235)"/>
<stop offset="0.7514" stop-color="rgb(235,235,235)"/>
<stop offset="0.7541" stop-color="rgb(235,235,235)"/>
<stop offset="0.7568" stop-color="rgb(235,235,235)"/>
<stop offset="0.7595" stop-color="rgb(235,235,235)"/>
<stop offset="0.7622" stop-color="rgb(235,235,235)"/>
<stop offset="0.7649" stop-color="rgb(236,236,236)"/>
<stop offset="0.7676" stop-color="rgb(236,236,236)"/>
<stop offset="0.7703" stop-color="rgb(236,236,236)"/>
<stop offset="0.7730" stop-color="rgb(236,236,236)"/>
<stop offset="0.7757" stop-color="rgb(236,236,236)"/>
<stop offset="0.7784" stop-color="rgb(236,236,236)"/>
<stop offset="0.7811" stop-color="rgb(236,236,236)"/>
<stop offset="0.7838" stop-color="rgb(236,236,236)"/>
<stop offset="0.7865" stop-color="rgb(237,237,237)"/>
<stop offset="0.7892" stop-color="rgb(237,237,237)"/>
<stop offset="0.7919" stop-color="rgb(237,237,237)"/>
<stop offset="0.7946" stop-color="rgb(237,237,237)"/>
<stop offset="0.7973" stop-color="rgb(237,237,237)"/>
<stop offset="0.8000" stop-color="rgb(237,237,237)"/>
<stop offset="0.8027" stop-color="rgb(237,237,237)"/>
<stop offset="0.8054" stop-color="rgb(237,237,237)"/>
<stop offset="0.8081" stop-color="rgb(238,238,238)"/>
<stop offset="0.8108" stop-color="rgb(238,238,238)"/>
<stop offset="0.8135" stop-color="rgb(238,238,238)"/>
<stop offset="0.8162" stop-color="rgb(238,238,238)"/>
<stop offset="0.8189" stop-color="rgb(238,238,238)"/>
<stop offset="0.8216" stop-color="rgb(238,238,238)"/>
<stop offset="0.8243" stop-color="rgb(238,238,238)"/>
<stop offset="0.8270" stop-color="rgb(238,238,238)"/>
<stop offset="0.8297" stop-color="rgb(238,238,238)"/>
<stop offset="0.8324" stop-color="rgb(238,238,238)"/>
<stop offset="0.8351" stop-color="rgb(238,238,238)"/>
<stop offset="0.8378" stop-color="rgb(238,238,238)"/>
<stop offset="0.8405" stop-color="rgb(238,238,238)"/>
<stop offset="0.8432" stop-color="rgb(238,238,238)"/>
<stop offset="0.8459" stop-color="rgb(238,238,238)"/>
<stop offset="0.8486" stop-color="rgb(239,239,239)"/>
<stop offset="0.8514" stop-color="rgb(239,239,239)"/>
<stop offset="0.8541" stop-color="rgb(239,239,239)"/>
<stop offset="0.8568" stop-color="rgb(239,239,239)"/>
<stop offset="0.8595" stop-color="rgb(239,239,239)"/>
<stop offset="0.8622" stop-color="rgb(239,239,239)"/>
<stop offset="0.8649" stop-color="rgb(239,239,239)"/>
<stop offset="0.8676" stop-color="rgb(239,239,239)"/>
<stop offset="0.8703" stop-color="rgb(239,239,239)"/>
<stop offset="0.8730" stop-color="rgb(239,239,239)"/>
<stop offset="0.8757" stop-color="rgb(239,239,239)"/>
<stop offset="0.8784" stop-color="rgb(239,239,239)"/>
<stop offset="0.8811" stop-color="rgb(239,239,239)"/>
<stop offset="0.8838" stop-color="rgb(239,239,239)"/>
<stop offset="0.8865" stop-color="rgb(239,239,239)"/>
<stop offset="0.8892" stop-color="rgb(239,239,239)"/>
<stop offset="0.8919" stop-color="rgb(239,239,239)"/>
<stop offset="0.8946" stop-color="rgb(239,239,239)"/>
<stop offset="0.8973" stop-color="rgb(239,239,239)"/>
<stop offset="0.9000" stop-color="rgb(239,239,239)"/>
<stop offset="0.9027" stop-color="rgb(239,239,239)"/>
<stop offset="0.9054" stop-color="rgb(239,239,239)"/>
<stop offset="0.9081" stop-color="rgb(240,240,240)"/>
<stop offset="0.9108" stop-color="rgb(240,240,240)"/>
<stop offset="0.9135" stop-color="rgb(240,240,240)"/>
<stop offset="0.9162" stop-color="rgb(240,240,240)"/>
<stop offset="0.9189" stop-color="rgb(240,240,240)"/>
<stop offset="0.9216" stop-color="rgb(240,240,240)"/>
<stop offset="0.9243" stop-color="rgb(240,240,240)"/>
<stop offset="0.9270" stop-color="rgb(240,240,240)"/>
<stop offset="0.9297" stop-color="rgb(240,240,240)"/>
<stop offset="0.9324" stop-color="rgb(240,240,240)"/>
<stop offset="0.9351" stop-color="rgb(240,240,240)"/>
<stop offset="0.9378" stop-color="rgb(240,240,240)"/>
<stop offset="0.9405" stop-color="rgb(240,240,240)"/>
<stop offset="0.9432" stop-color="rgb(240,240,240)"/>
<stop offset="0.9459" stop-color="rgb(240,240,240)"/>
<stop offset="0.9486" stop-color="rgb(240,240,240)"/>
<stop offset="0.9514" stop-color="rgb(240,240,240)"/>
<stop offset="0.9541" stop-color="rgb(240,240,240)"/>
<stop offset="0.9568" stop-color="rgb(240,240,240)"/>
<stop offset="0.9595" stop-color="rgb(240,240,240)"/>
<stop offset="0.9622" stop-color="rgb(240,240,240)"/>
<stop offset="0.9649" stop-color="rgb(240,240,240)"/>
<stop offset="0.9676" stop-color="rgb(240,240,240)"/>
<stop offset="0.9703" stop-color="rgb(241,241,241)"/>
<stop offset="0.9730" stop-color="rgb(241,241,241)"/>
<stop offset="0.9757" stop-color="rgb(241,241,241)"/>
<stop offset="0.9784" stop-color="rgb(241,241,241)"/>
<stop offset="0.9811" stop-color="rgb(241,241,241)"/>
<stop offset="0.9838" stop-color="rgb(241,241,241)"/>
<stop offset="0.9865" stop-color="rgb(241,241,241)"/>
<stop offset="0.9892" stop-color="rgb(241,241,241)"/>
<stop offset="0.9919" stop-color="rgb(241,241,241)"/>
<stop offset="0.9946" stop-color="rgb(241,241,241)"/>
<stop offset="0.9973" stop-color="rgb(241,241,241)"/>
<stop offset="1.0000" stop-color="rgb(241,241,241)"/>
</linearGradient>
<linearGradient id="gD4" x1="0" y1="149" x2="0" y2="334" gradientUnits="userSpaceOnUse">
<stop offset="0.0000" stop-color="rgb(200,200,200)"/>
<stop offset="0.0027" stop-color="rgb(108,108,108)"/>
<stop offset="0.0054" stop-color="rgb(15,15,15)"/>
<stop offset="0.0081" stop-color="rgb(16,16,16)"/>
<stop offset="0.0108" stop-color="rgb(16,16,16)"/>
<stop offset="0.0135" stop-color="rgb(17,17,17)"/>
<stop offset="0.0162" stop-color="rgb(18,18,18)"/>
<stop offset="0.0189" stop-color="rgb(18,18,18)"/>
<stop offset="0.0216" stop-color="rgb(19,19,19)"/>
<stop offset="0.0243" stop-color="rgb(19,19,19)"/>
<stop offset="0.0270" stop-color="rgb(20,20,20)"/>
<stop offset="0.0297" stop-color="rgb(23,23,23)"/>
<stop offset="0.0324" stop-color="rgb(26,26,26)"/>
<stop offset="0.0351" stop-color="rgb(29,29,29)"/>
<stop offset="0.0378" stop-color="rgb(32,32,32)"/>
<stop offset="0.0405" stop-color="rgb(36,36,36)"/>
<stop offset="0.0432" stop-color="rgb(39,39,39)"/>
<stop offset="0.0459" stop-color="rgb(42,42,42)"/>
<stop offset="0.0486" stop-color="rgb(45,45,45)"/>
<stop offset="0.0514" stop-color="rgb(46,46,46)"/>
<stop offset="0.0541" stop-color="rgb(48,48,48)"/>
<stop offset="0.0568" stop-color="rgb(49,49,49)"/>
<stop offset="0.0595" stop-color="rgb(51,51,51)"/>
<stop offset="0.0622" stop-color="rgb(52,52,52)"/>
<stop offset="0.0649" stop-color="rgb(45,45,45)"/>
<stop offset="0.0676" stop-color="rgb(38,38,38)"/>
<stop offset="0.0703" stop-color="rgb(31,31,31)"/>
<stop offset="0.0730" stop-color="rgb(41,41,41)"/>
<stop offset="0.0757" stop-color="rgb(51,51,51)"/>
<stop offset="0.0784" stop-color="rgb(61,61,61)"/>
<stop offset="0.0811" stop-color="rgb(62,62,62)"/>
<stop offset="0.0838" stop-color="rgb(64,64,64)"/>
<stop offset="0.0865" stop-color="rgb(65,65,65)"/>
<stop offset="0.0892" stop-color="rgb(66,66,66)"/>
<stop offset="0.0919" stop-color="rgb(66,66,66)"/>
<stop offset="0.0946" stop-color="rgb(67,67,67)"/>
<stop offset="0.0973" stop-color="rgb(60,60,60)"/>
<stop offset="0.1000" stop-color="rgb(52,52,52)"/>
<stop offset="0.1027" stop-color="rgb(44,44,44)"/>
<stop offset="0.1054" stop-color="rgb(54,54,54)"/>
<stop offset="0.1081" stop-color="rgb(63,63,63)"/>
<stop offset="0.1108" stop-color="rgb(72,72,72)"/>
<stop offset="0.1135" stop-color="rgb(72,72,72)"/>
<stop offset="0.1162" stop-color="rgb(73,73,73)"/>
<stop offset="0.1189" stop-color="rgb(74,74,74)"/>
<stop offset="0.1216" stop-color="rgb(75,75,75)"/>
<stop offset="0.1243" stop-color="rgb(67,67,67)"/>
<stop offset="0.1270" stop-color="rgb(60,60,60)"/>
<stop offset="0.1297" stop-color="rgb(52,52,52)"/>
<stop offset="0.1324" stop-color="rgb(61,61,61)"/>
<stop offset="0.1351" stop-color="rgb(70,70,70)"/>
<stop offset="0.1378" stop-color="rgb(79,79,79)"/>
<stop offset="0.1405" stop-color="rgb(80,80,80)"/>
<stop offset="0.1432" stop-color="rgb(81,81,81)"/>
<stop offset="0.1459" stop-color="rgb(81,81,81)"/>
<stop offset="0.1486" stop-color="rgb(82,82,82)"/>
<stop offset="0.1514" stop-color="rgb(74,74,74)"/>
<stop offset="0.1541" stop-color="rgb(67,67,67)"/>
<stop offset="0.1568" stop-color="rgb(59,59,59)"/>
<stop offset="0.1595" stop-color="rgb(68,68,68)"/>
<stop offset="0.1622" stop-color="rgb(77,77,77)"/>
<stop offset="0.1649" stop-color="rgb(86,86,86)"/>
<stop offset="0.1676" stop-color="rgb(87,87,87)"/>
<stop offset="0.1703" stop-color="rgb(87,87,87)"/>
<stop offset="0.1730" stop-color="rgb(88,88,88)"/>
<stop offset="0.1757" stop-color="rgb(89,89,89)"/>
<stop offset="0.1784" stop-color="rgb(79,79,79)"/>
<stop offset="0.1811" stop-color="rgb(70,70,70)"/>
<stop offset="0.1838" stop-color="rgb(61,61,61)"/>
<stop offset="0.1865" stop-color="rgb(71,71,71)"/>
<stop offset="0.1892" stop-color="rgb(82,82,82)"/>
<stop offset="0.1919" stop-color="rgb(93,93,93)"/>
<stop offset="0.1946" stop-color="rgb(93,93,93)"/>
<stop offset="0.1973" stop-color="rgb(94,94,94)"/>
<stop offset="0.2000" stop-color="rgb(95,95,95)"/>
<stop offset="0.2027" stop-color="rgb(95,95,95)"/>
<stop offset="0.2054" stop-color="rgb(88,88,88)"/>
<stop offset="0.2081" stop-color="rgb(80,80,80)"/>
<stop offset="0.2108" stop-color="rgb(72,72,72)"/>
<stop offset="0.2135" stop-color="rgb(81,81,81)"/>
<stop offset="0.2162" stop-color="rgb(90,90,90)"/>
<stop offset="0.2189" stop-color="rgb(99,99,99)"/>
<stop offset="0.2216" stop-color="rgb(100,100,100)"/>
<stop offset="0.2243" stop-color="rgb(101,101,101)"/>
<stop offset="0.2270" stop-color="rgb(101,101,101)"/>
<stop offset="0.2297" stop-color="rgb(102,102,102)"/>
<stop offset="0.2324" stop-color="rgb(93,93,93)"/>
<stop offset="0.2351" stop-color="rgb(83,83,83)"/>
<stop offset="0.2378" stop-color="rgb(74,74,74)"/>
<stop offset="0.2405" stop-color="rgb(85,85,85)"/>
<stop offset="0.2432" stop-color="rgb(95,95,95)"/>
<stop offset="0.2459" stop-color="rgb(106,106,106)"/>
<stop offset="0.2486" stop-color="rgb(107,107,107)"/>
<stop offset="0.2514" stop-color="rgb(107,107,107)"/>
<stop offset="0.2541" stop-color="rgb(108,108,108)"/>
<stop offset="0.2568" stop-color="rgb(109,109,109)"/>
<stop offset="0.2595" stop-color="rgb(101,101,101)"/>
<stop offset="0.2622" stop-color="rgb(93,93,93)"/>
<stop offset="0.2649" stop-color="rgb(86,86,86)"/>
<stop offset="0.2676" stop-color="rgb(95,95,95)"/>
<stop offset="0.2703" stop-color="rgb(104,104,104)"/>
<stop offset="0.2730" stop-color="rgb(113,113,113)"/>
<stop offset="0.2757" stop-color="rgb(113,113,113)"/>
<stop offset="0.2784" stop-color="rgb(114,114,114)"/>
<stop offset="0.2811" stop-color="rgb(115,115,115)"/>
<stop offset="0.2838" stop-color="rgb(115,115,115)"/>
<stop offset="0.2865" stop-color="rgb(106,106,106)"/>
<stop offset="0.2892" stop-color="rgb(97,97,97)"/>
<stop offset="0.2919" stop-color="rgb(87,87,87)"/>
<stop offset="0.2946" stop-color="rgb(98,98,98)"/>
<stop offset="0.2973" stop-color="rgb(109,109,109)"/>
<stop offset="0.3000" stop-color="rgb(119,119,119)"/>
<stop offset="0.3027" stop-color="rgb(120,120,120)"/>
<stop offset="0.3054" stop-color="rgb(121,121,121)"/>
<stop offset="0.3081" stop-color="rgb(121,121,121)"/>
<stop offset="0.3108" stop-color="rgb(122,122,122)"/>
<stop offset="0.3135" stop-color="rgb(114,114,114)"/>
<stop offset="0.3162" stop-color="rgb(107,107,107)"/>
<stop offset="0.3189" stop-color="rgb(99,99,99)"/>
<stop offset="0.3216" stop-color="rgb(108,108,108)"/>
<stop offset="0.3243" stop-color="rgb(117,117,117)"/>
<stop offset="0.3270" stop-color="rgb(126,126,126)"/>
<stop offset="0.3297" stop-color="rgb(127,127,127)"/>
<stop offset="0.3324" stop-color="rgb(127,127,127)"/>
<stop offset="0.3351" stop-color="rgb(128,128,128)"/>
<stop offset="0.3378" stop-color="rgb(129,129,129)"/>
<stop offset="0.3405" stop-color="rgb(119,119,119)"/>
<stop offset="0.3432" stop-color="rgb(110,110,110)"/>
<stop offset="0.3459" stop-color="rgb(101,101,101)"/>
<stop offset="0.3486" stop-color="rgb(111,111,111)"/>
<stop offset="0.3514" stop-color="rgb(122,122,122)"/>
<stop offset="0.3541" stop-color="rgb(133,133,133)"/>
<stop offset="0.3568" stop-color="rgb(133,133,133)"/>
<stop offset="0.3595" stop-color="rgb(134,134,134)"/>
<stop offset="0.3622" stop-color="rgb(135,135,135)"/>
<stop offset="0.3649" stop-color="rgb(135,135,135)"/>
<stop offset="0.3676" stop-color="rgb(128,128,128)"/>
<stop offset="0.3703" stop-color="rgb(120,120,120)"/>
<stop offset="0.3730" stop-color="rgb(112,112,112)"/>
<stop offset="0.3757" stop-color="rgb(121,121,121)"/>
<stop offset="0.3784" stop-color="rgb(130,130,130)"/>
<stop offset="0.3811" stop-color="rgb(139,139,139)"/>
<stop offset="0.3838" stop-color="rgb(140,140,140)"/>
<stop offset="0.3865" stop-color="rgb(141,141,141)"/>
<stop offset="0.3892" stop-color="rgb(141,141,141)"/>
<stop offset="0.3919" stop-color="rgb(142,142,142)"/>
<stop offset="0.3946" stop-color="rgb(131,131,131)"/>
<stop offset="0.3973" stop-color="rgb(120,120,120)"/>
<stop offset="0.4000" stop-color="rgb(109,109,109)"/>
<stop offset="0.4027" stop-color="rgb(121,121,121)"/>
<stop offset="0.4054" stop-color="rgb(134,134,134)"/>
<stop offset="0.4081" stop-color="rgb(146,146,146)"/>
<stop offset="0.4108" stop-color="rgb(147,147,147)"/>
<stop offset="0.4135" stop-color="rgb(147,147,147)"/>
<stop offset="0.4162" stop-color="rgb(148,148,148)"/>
<stop offset="0.4189" stop-color="rgb(149,149,149)"/>
<stop offset="0.4216" stop-color="rgb(139,139,139)"/>
<stop offset="0.4243" stop-color="rgb(130,130,130)"/>
<stop offset="0.4270" stop-color="rgb(121,121,121)"/>
<stop offset="0.4297" stop-color="rgb(131,131,131)"/>
<stop offset="0.4324" stop-color="rgb(142,142,142)"/>
<stop offset="0.4351" stop-color="rgb(153,153,153)"/>
<stop offset="0.4378" stop-color="rgb(153,153,153)"/>
<stop offset="0.4405" stop-color="rgb(154,154,154)"/>
<stop offset="0.4432" stop-color="rgb(155,155,155)"/>
<stop offset="0.4459" stop-color="rgb(155,155,155)"/>
<stop offset="0.4486" stop-color="rgb(156,156,156)"/>
<stop offset="0.4514" stop-color="rgb(157,157,157)"/>
<stop offset="0.4541" stop-color="rgb(146,146,146)"/>
<stop offset="0.4568" stop-color="rgb(135,135,135)"/>
<stop offset="0.4595" stop-color="rgb(124,124,124)"/>
<stop offset="0.4622" stop-color="rgb(136,136,136)"/>
<stop offset="0.4649" stop-color="rgb(148,148,148)"/>
<stop offset="0.4676" stop-color="rgb(161,161,161)"/>
<stop offset="0.4703" stop-color="rgb(161,161,161)"/>
<stop offset="0.4730" stop-color="rgb(162,162,162)"/>
<stop offset="0.4757" stop-color="rgb(162,162,162)"/>
<stop offset="0.4784" stop-color="rgb(163,163,163)"/>
<stop offset="0.4811" stop-color="rgb(164,164,164)"/>
<stop offset="0.4838" stop-color="rgb(164,164,164)"/>
<stop offset="0.4865" stop-color="rgb(155,155,155)"/>
<stop offset="0.4892" stop-color="rgb(145,145,145)"/>
<stop offset="0.4919" stop-color="rgb(136,136,136)"/>
<stop offset="0.4946" stop-color="rgb(147,147,147)"/>
<stop offset="0.4973" stop-color="rgb(157,157,157)"/>
<stop offset="0.5000" stop-color="rgb(168,168,168)"/>
<stop offset="0.5027" stop-color="rgb(168,168,168)"/>
<stop offset="0.5054" stop-color="rgb(169,169,169)"/>
<stop offset="0.5081" stop-color="rgb(170,170,170)"/>
<stop offset="0.5108" stop-color="rgb(170,170,170)"/>
<stop offset="0.5135" stop-color="rgb(159,159,159)"/>
<stop offset="0.5162" stop-color="rgb(148,148,148)"/>
<stop offset="0.5189" stop-color="rgb(137,137,137)"/>
<stop offset="0.5216" stop-color="rgb(149,149,149)"/>
<stop offset="0.5243" stop-color="rgb(162,162,162)"/>
<stop offset="0.5270" stop-color="rgb(174,174,174)"/>
<stop offset="0.5297" stop-color="rgb(174,174,174)"/>
<stop offset="0.5324" stop-color="rgb(175,175,175)"/>
<stop offset="0.5351" stop-color="rgb(176,176,176)"/>
<stop offset="0.5378" stop-color="rgb(176,176,176)"/>
<stop offset="0.5405" stop-color="rgb(177,177,177)"/>
<stop offset="0.5432" stop-color="rgb(177,177,177)"/>
<stop offset="0.5459" stop-color="rgb(166,166,166)"/>
<stop offset="0.5486" stop-color="rgb(155,155,155)"/>
<stop offset="0.5514" stop-color="rgb(144,144,144)"/>
<stop offset="0.5541" stop-color="rgb(156,156,156)"/>
<stop offset="0.5568" stop-color="rgb(169,169,169)"/>
<stop offset="0.5595" stop-color="rgb(181,181,181)"/>
<stop offset="0.5622" stop-color="rgb(182,182,182)"/>
<stop offset="0.5649" stop-color="rgb(182,182,182)"/>
<stop offset="0.5676" stop-color="rgb(183,183,183)"/>
<stop offset="0.5703" stop-color="rgb(183,183,183)"/>
<stop offset="0.5730" stop-color="rgb(174,174,174)"/>
<stop offset="0.5757" stop-color="rgb(165,165,165)"/>
<stop offset="0.5784" stop-color="rgb(155,155,155)"/>
<stop offset="0.5811" stop-color="rgb(166,166,166)"/>
<stop offset="0.5838" stop-color="rgb(176,176,176)"/>
<stop offset="0.5865" stop-color="rgb(187,187,187)"/>
<stop offset="0.5892" stop-color="rgb(188,188,188)"/>
<stop offset="0.5919" stop-color="rgb(188,188,188)"/>
<stop offset="0.5946" stop-color="rgb(189,189,189)"/>
<stop offset="0.5973" stop-color="rgb(189,189,189)"/>
<stop offset="0.6000" stop-color="rgb(190,190,190)"/>
<stop offset="0.6027" stop-color="rgb(191,191,191)"/>
<stop offset="0.6054" stop-color="rgb(183,183,183)"/>
<stop offset="0.6081" stop-color="rgb(175,175,175)"/>
<stop offset="0.6108" stop-color="rgb(167,167,167)"/>
<stop offset="0.6135" stop-color="rgb(176,176,176)"/>
<stop offset="0.6162" stop-color="rgb(185,185,185)"/>
<stop offset="0.6189" stop-color="rgb(194,194,194)"/>
<stop offset="0.6216" stop-color="rgb(195,195,195)"/>
<stop offset="0.6243" stop-color="rgb(195,195,195)"/>
<stop offset="0.6270" stop-color="rgb(196,196,196)"/>
<stop offset="0.6297" stop-color="rgb(196,196,196)"/>
<stop offset="0.6324" stop-color="rgb(197,197,197)"/>
<stop offset="0.6351" stop-color="rgb(197,197,197)"/>
<stop offset="0.6378" stop-color="rgb(178,178,178)"/>
<stop offset="0.6405" stop-color="rgb(158,158,158)"/>
<stop offset="0.6432" stop-color="rgb(139,139,139)"/>
<stop offset="0.6459" stop-color="rgb(119,119,119)"/>
<stop offset="0.6486" stop-color="rgb(140,140,140)"/>
<stop offset="0.6514" stop-color="rgb(160,160,160)"/>
<stop offset="0.6541" stop-color="rgb(180,180,180)"/>
<stop offset="0.6568" stop-color="rgb(201,201,201)"/>
<stop offset="0.6595" stop-color="rgb(201,201,201)"/>
<stop offset="0.6622" stop-color="rgb(202,202,202)"/>
<stop offset="0.6649" stop-color="rgb(202,202,202)"/>
<stop offset="0.6676" stop-color="rgb(203,203,203)"/>
<stop offset="0.6703" stop-color="rgb(203,203,203)"/>
<stop offset="0.6730" stop-color="rgb(204,204,204)"/>
<stop offset="0.6757" stop-color="rgb(191,191,191)"/>
<stop offset="0.6784" stop-color="rgb(178,178,178)"/>
<stop offset="0.6811" stop-color="rgb(165,165,165)"/>
<stop offset="0.6838" stop-color="rgb(179,179,179)"/>
<stop offset="0.6865" stop-color="rgb(193,193,193)"/>
<stop offset="0.6892" stop-color="rgb(206,206,206)"/>
<stop offset="0.6919" stop-color="rgb(207,207,207)"/>
<stop offset="0.6946" stop-color="rgb(207,207,207)"/>
<stop offset="0.6973" stop-color="rgb(208,208,208)"/>
<stop offset="0.7000" stop-color="rgb(208,208,208)"/>
<stop offset="0.7027" stop-color="rgb(197,197,197)"/>
<stop offset="0.7054" stop-color="rgb(186,186,186)"/>
<stop offset="0.7081" stop-color="rgb(174,174,174)"/>
<stop offset="0.7108" stop-color="rgb(187,187,187)"/>
<stop offset="0.7135" stop-color="rgb(199,199,199)"/>
<stop offset="0.7162" stop-color="rgb(211,211,211)"/>
<stop offset="0.7189" stop-color="rgb(211,211,211)"/>
<stop offset="0.7216" stop-color="rgb(212,212,212)"/>
<stop offset="0.7243" stop-color="rgb(212,212,212)"/>
<stop offset="0.7270" stop-color="rgb(213,213,213)"/>
<stop offset="0.7297" stop-color="rgb(213,213,213)"/>
<stop offset="0.7324" stop-color="rgb(214,214,214)"/>
<stop offset="0.7351" stop-color="rgb(214,214,214)"/>
<stop offset="0.7378" stop-color="rgb(214,214,214)"/>
<stop offset="0.7405" stop-color="rgb(207,207,207)"/>
<stop offset="0.7432" stop-color="rgb(200,200,200)"/>
<stop offset="0.7459" stop-color="rgb(193,193,193)"/>
<stop offset="0.7486" stop-color="rgb(201,201,201)"/>
<stop offset="0.7514" stop-color="rgb(208,208,208)"/>
<stop offset="0.7541" stop-color="rgb(216,216,216)"/>
<stop offset="0.7568" stop-color="rgb(216,216,216)"/>
<stop offset="0.7595" stop-color="rgb(216,216,216)"/>
<stop offset="0.7622" stop-color="rgb(216,216,216)"/>
<stop offset="0.7649" stop-color="rgb(217,217,217)"/>
<stop offset="0.7676" stop-color="rgb(217,217,217)"/>
<stop offset="0.7703" stop-color="rgb(217,217,217)"/>
<stop offset="0.7730" stop-color="rgb(217,217,217)"/>
<stop offset="0.7757" stop-color="rgb(218,218,218)"/>
<stop offset="0.7784" stop-color="rgb(210,210,210)"/>
<stop offset="0.7811" stop-color="rgb(201,201,201)"/>
<stop offset="0.7838" stop-color="rgb(193,193,193)"/>
<stop offset="0.7865" stop-color="rgb(202,202,202)"/>
<stop offset="0.7892" stop-color="rgb(210,210,210)"/>
<stop offset="0.7919" stop-color="rgb(219,219,219)"/>
<stop offset="0.7946" stop-color="rgb(219,219,219)"/>
<stop offset="0.7973" stop-color="rgb(220,220,220)"/>
<stop offset="0.8000" stop-color="rgb(220,220,220)"/>
<stop offset="0.8027" stop-color="rgb(220,220,220)"/>
<stop offset="0.8054" stop-color="rgb(220,220,220)"/>
<stop offset="0.8081" stop-color="rgb(220,220,220)"/>
<stop offset="0.8108" stop-color="rgb(216,216,216)"/>
<stop offset="0.8135" stop-color="rgb(211,211,211)"/>
<stop offset="0.8162" stop-color="rgb(206,206,206)"/>
<stop offset="0.8189" stop-color="rgb(211,211,211)"/>
<stop offset="0.8216" stop-color="rgb(217,217,217)"/>
<stop offset="0.8243" stop-color="rgb(222,222,222)"/>
<stop offset="0.8270" stop-color="rgb(222,222,222)"/>
<stop offset="0.8297" stop-color="rgb(222,222,222)"/>
<stop offset="0.8324" stop-color="rgb(223,223,223)"/>
<stop offset="0.8351" stop-color="rgb(223,223,223)"/>
<stop offset="0.8378" stop-color="rgb(223,223,223)"/>
<stop offset="0.8405" stop-color="rgb(223,223,223)"/>
<stop offset="0.8432" stop-color="rgb(220,220,220)"/>
<stop offset="0.8459" stop-color="rgb(216,216,216)"/>
<stop offset="0.8486" stop-color="rgb(212,212,212)"/>
<stop offset="0.8514" stop-color="rgb(216,216,216)"/>
<stop offset="0.8541" stop-color="rgb(221,221,221)"/>
<stop offset="0.8568" stop-color="rgb(225,225,225)"/>
<stop offset="0.8595" stop-color="rgb(225,225,225)"/>
<stop offset="0.8622" stop-color="rgb(225,225,225)"/>
<stop offset="0.8649" stop-color="rgb(226,226,226)"/>
<stop offset="0.8676" stop-color="rgb(226,226,226)"/>
<stop offset="0.8703" stop-color="rgb(226,226,226)"/>
<stop offset="0.8730" stop-color="rgb(226,226,226)"/>
<stop offset="0.8757" stop-color="rgb(226,226,226)"/>
<stop offset="0.8784" stop-color="rgb(226,226,226)"/>
<stop offset="0.8811" stop-color="rgb(223,223,223)"/>
<stop offset="0.8838" stop-color="rgb(220,220,220)"/>
<stop offset="0.8865" stop-color="rgb(217,217,217)"/>
<stop offset="0.8892" stop-color="rgb(220,220,220)"/>
<stop offset="0.8919" stop-color="rgb(224,224,224)"/>
<stop offset="0.8946" stop-color="rgb(228,228,228)"/>
<stop offset="0.8973" stop-color="rgb(228,228,228)"/>
<stop offset="0.9000" stop-color="rgb(228,228,228)"/>
<stop offset="0.9027" stop-color="rgb(228,228,228)"/>
<stop offset="0.9054" stop-color="rgb(228,228,228)"/>
<stop offset="0.9081" stop-color="rgb(228,228,228)"/>
<stop offset="0.9108" stop-color="rgb(228,228,228)"/>
<stop offset="0.9135" stop-color="rgb(229,229,229)"/>
<stop offset="0.9162" stop-color="rgb(229,229,229)"/>
<stop offset="0.9189" stop-color="rgb(226,226,226)"/>
<stop offset="0.9216" stop-color="rgb(224,224,224)"/>
<stop offset="0.9243" stop-color="rgb(221,221,221)"/>
<stop offset="0.9270" stop-color="rgb(224,224,224)"/>
<stop offset="0.9297" stop-color="rgb(227,227,227)"/>
<stop offset="0.9324" stop-color="rgb(230,230,230)"/>
<stop offset="0.9351" stop-color="rgb(230,230,230)"/>
<stop offset="0.9378" stop-color="rgb(230,230,230)"/>
<stop offset="0.9405" stop-color="rgb(230,230,230)"/>
<stop offset="0.9432" stop-color="rgb(230,230,230)"/>
<stop offset="0.9459" stop-color="rgb(231,231,231)"/>
<stop offset="0.9486" stop-color="rgb(231,231,231)"/>
<stop offset="0.9514" stop-color="rgb(231,231,231)"/>
<stop offset="0.9541" stop-color="rgb(231,231,231)"/>
<stop offset="0.9568" stop-color="rgb(231,231,231)"/>
<stop offset="0.9595" stop-color="rgb(232,232,232)"/>
<stop offset="0.9622" stop-color="rgb(232,232,232)"/>
<stop offset="0.9649" stop-color="rgb(232,232,232)"/>
<stop offset="0.9676" stop-color="rgb(232,232,232)"/>
<stop offset="0.9703" stop-color="rgb(232,232,232)"/>
<stop offset="0.9730" stop-color="rgb(232,232,232)"/>
<stop offset="0.9757" stop-color="rgb(232,232,232)"/>
<stop offset="0.9784" stop-color="rgb(233,233,233)"/>
<stop offset="0.9811" stop-color="rgb(233,233,233)"/>
<stop offset="0.9838" stop-color="rgb(233,233,233)"/>
<stop offset="0.9865" stop-color="rgb(233,233,233)"/>
<stop offset="0.9892" stop-color="rgb(233,233,233)"/>
<stop offset="0.9919" stop-color="rgb(234,234,234)"/>
<stop offset="0.9946" stop-color="rgb(234,234,234)"/>
<stop offset="0.9973" stop-color="rgb(234,234,234)"/>
<stop offset="1.0000" stop-color="rgb(234,234,234)"/>
</linearGradient>
<linearGradient id="lanefade" x1="0" y1="0" x2="1" y2="0"><stop offset="0" stop-color="#f5f5f5" stop-opacity="0.6"/><stop offset="0.2" stop-color="#f5f5f5" stop-opacity="0"/><stop offset="0.8" stop-color="#f5f5f5" stop-opacity="0"/><stop offset="1" stop-color="#f5f5f5" stop-opacity="0.6"/></linearGradient>
<filter id="gblur" x="-5%" y="-5%" width="110%" height="110%"><feGaussianBlur stdDeviation="0.45"/></filter>
</defs>
<rect x="19" y="149.5" width="88.5" height="185" fill="#f5f5f5"/>
<g filter="url(#gblur)">
<rect x="39.3" y="149.5" width="13.3" height="184.5" rx="1.5" fill="url(#gD1)"/>
<rect x="39.3" y="149.5" width="13.3" height="184.5" fill="url(#lanefade)"/>
<rect x="56.0" y="149.5" width="13.0" height="184.5" rx="1.5" fill="url(#gD2)"/>
<rect x="56.0" y="149.5" width="13.0" height="184.5" fill="url(#lanefade)"/>
<rect x="73.0" y="149.5" width="13.0" height="184.5" rx="1.5" fill="url(#gD3)"/>
<rect x="73.0" y="149.5" width="13.0" height="184.5" fill="url(#lanefade)"/>
<rect x="90.3" y="149.5" width="13.0" height="184.5" rx="1.5" fill="url(#gD4)"/>
<rect x="90.3" y="149.5" width="13.0" height="184.5" fill="url(#lanefade)"/>
<rect x="22.6" y="151.7" width="11.2" height="1.6" rx="1.4" fill="#333" opacity="0.25"/>
<rect x="22.6" y="213.9" width="11.2" height="2.8" rx="1.4" fill="#333" opacity="0.65"/>
<rect x="22.6" y="218.7" width="11.2" height="2.8" rx="1.4" fill="#333" opacity="0.65"/>
<rect x="22.6" y="226.7" width="11.2" height="2.8" rx="1.4" fill="#333" opacity="0.65"/>
<rect x="22.6" y="234.1" width="11.2" height="2.8" rx="1.4" fill="#333" opacity="0.65"/>
<rect x="22.6" y="243.7" width="11.2" height="2.8" rx="1.4" fill="#333" opacity="0.65"/>
<rect x="22.6" y="256.6" width="11.2" height="2.8" rx="1.4" fill="#333" opacity="0.65"/>
<rect x="22.6" y="263.6" width="11.2" height="2.8" rx="1.4" fill="#333" opacity="0.75"/>
<rect x="22.6" y="272.6" width="11.2" height="2.8" rx="1.4" fill="#333" opacity="0.65"/>
<rect x="22.6" y="282.2" width="11.2" height="2.8" rx="1.4" fill="#333" opacity="0.65"/>
<rect x="22.6" y="294.0" width="11.2" height="2.8" rx="1.4" fill="#333" opacity="0.6"/>
<rect x="22.6" y="307.0" width="11.2" height="2.6" rx="1.4" fill="#333" opacity="0.5"/>
<rect x="22.6" y="323.7" width="11.2" height="2.6" rx="1.4" fill="#333" opacity="0.45"/>
</g>
<text x="0.80" y="124.50" font-size="14" text-anchor="start" font-weight="bold" fill="#000" >b</text>
<text x="64.50" y="124.40" font-size="12" text-anchor="middle" font-weight="normal" fill="#1a1a1a" stroke="#1a1a1a" stroke-width="0.22" >OF</text>
<text x="98.90" y="124.40" font-size="12" text-anchor="middle" font-weight="normal" fill="#1a1a1a" stroke="#1a1a1a" stroke-width="0.22" >UF</text>
<line x1="39.6" y1="128.6" x2="85.7" y2="128.6" stroke="#777" stroke-width="0.8"/>
<line x1="89.8" y1="128.6" x2="103.6" y2="128.6" stroke="#777" stroke-width="0.8"/>
<text x="0" y="0" font-size="10.2" text-anchor="middle" fill="#1a1a1a" transform="translate(45.8,141.8) rotate(-47) translate(0,3.6)">D1</text>
<text x="0" y="0" font-size="10.2" text-anchor="middle" fill="#1a1a1a" transform="translate(61.6,141.8) rotate(-47) translate(0,3.6)">D2</text>
<text x="0" y="0" font-size="10.2" text-anchor="middle" fill="#1a1a1a" transform="translate(79.0,141.8) rotate(-47) translate(0,3.6)">D3</text>
<text x="0" y="0" font-size="10.2" text-anchor="middle" fill="#1a1a1a" transform="translate(98.9,141.8) rotate(-47) translate(0,3.6)">D4</text>
<text x="2.80" y="154.40" font-size="10.5" text-anchor="start" font-weight="normal" fill="#1a1a1a" stroke="#1a1a1a" stroke-width="0.22" >(nt)</text>
<text x="1.00" y="262.10" font-size="10.5" text-anchor="start" font-weight="normal" fill="#1a1a1a" stroke="#1a1a1a" stroke-width="0.22" >50</text>
<text x="1.00" y="330.00" font-size="10.5" text-anchor="start" font-weight="normal" fill="#1a1a1a" stroke="#1a1a1a" stroke-width="0.22" >15</text>
<rect x="14.4" y="253.1" width="94.3" height="76.3" fill="none" stroke="#4a86c8" stroke-width="0.8" stroke-dasharray="1.5,1"/></g>
<g id="pc"><text x="128.60" y="125.00" font-size="14" text-anchor="start" font-weight="bold" fill="#000" >c</text>
<rect x="143.20" y="133.3" width="250.60" height="16.6" fill="#d9d9d9"/>
<text x="174.55" y="146.60" font-size="11.3" text-anchor="middle" font-weight="normal" fill="#1a1a1a" stroke="#1a1a1a" stroke-width="0.22" >Day1 OF</text>
<text x="237.85" y="146.60" font-size="11.3" text-anchor="middle" font-weight="normal" fill="#1a1a1a" stroke="#1a1a1a" stroke-width="0.22" >Day2 OF</text>
<text x="301.15" y="146.60" font-size="11.3" text-anchor="middle" font-weight="normal" fill="#1a1a1a" stroke="#1a1a1a" stroke-width="0.22" >Day3 OF</text>
<text x="364.45" y="146.60" font-size="11.3" text-anchor="middle" font-weight="normal" fill="#1a1a1a" stroke="#1a1a1a" stroke-width="0.22" >Day4 UF</text>
<text x="139.90" y="144.50" font-size="10" text-anchor="end" font-weight="normal" fill="#333" stroke="#333" stroke-width="0.22" ><tspan font-size="7.2">x</tspan> 10<tspan font-size="6.5" dy="-3.8">4</tspan></text>
<rect x="423.30" y="133.3" width="251.50" height="16.6" fill="#d9d9d9"/>
<text x="454.65" y="146.60" font-size="11.3" text-anchor="middle" font-weight="normal" fill="#1a1a1a" stroke="#1a1a1a" stroke-width="0.22" >Day1 OF</text>
<text x="518.25" y="146.60" font-size="11.3" text-anchor="middle" font-weight="normal" fill="#1a1a1a" stroke="#1a1a1a" stroke-width="0.22" >Day2 OF</text>
<text x="581.85" y="146.60" font-size="11.3" text-anchor="middle" font-weight="normal" fill="#1a1a1a" stroke="#1a1a1a" stroke-width="0.22" >Day3 OF</text>
<text x="645.45" y="146.60" font-size="11.3" text-anchor="middle" font-weight="normal" fill="#1a1a1a" stroke="#1a1a1a" stroke-width="0.22" >Day4 UF</text>
<text x="420.00" y="144.50" font-size="10" text-anchor="end" font-weight="normal" fill="#333" stroke="#333" stroke-width="0.22" ><tspan font-size="7.2">x</tspan> 10<tspan font-size="6.5" dy="-3.8">4</tspan></text>
<rect x="146.96" y="226.76" width="1.43" height="0.34" fill="#a9c6e6"/>
<rect x="148.69" y="226.76" width="1.43" height="0.34" fill="#a9c6e6"/>
<rect x="150.41" y="226.76" width="1.43" height="0.34" fill="#a9c6e6"/>
<rect x="152.14" y="226.58" width="1.43" height="0.52" fill="#a9c6e6"/>
<rect x="153.86" y="226.76" width="1.43" height="0.34" fill="#a9c6e6"/>
<rect x="155.59" y="226.58" width="1.43" height="0.52" fill="#a9c6e6"/>
<rect x="157.31" y="226.76" width="1.43" height="0.34" fill="#a9c6e6"/>
<rect x="159.04" y="226.76" width="1.43" height="0.34" fill="#a9c6e6"/>
<rect x="160.76" y="226.76" width="1.43" height="0.34" fill="#a9c6e6"/>
<rect x="162.49" y="226.76" width="1.43" height="0.34" fill="#a9c6e6"/>
<rect x="164.21" y="226.76" width="1.43" height="0.34" fill="#a9c6e6"/>
<rect x="165.94" y="226.58" width="1.43" height="0.52" fill="#a9c6e6"/>
<rect x="167.66" y="226.07" width="1.43" height="1.03" fill="#a9c6e6"/>
<rect x="169.39" y="226.58" width="1.43" height="0.52" fill="#a9c6e6"/>
<rect x="171.11" y="226.58" width="1.43" height="0.52" fill="#a9c6e6"/>
<rect x="172.84" y="226.07" width="1.43" height="1.03" fill="#a9c6e6"/>
<rect x="174.56" y="225.38" width="1.43" height="1.72" fill="#4a86c8"/>
<rect x="176.29" y="224.00" width="1.43" height="3.10" fill="#4a86c8"/>
<rect x="178.01" y="220.55" width="1.43" height="6.55" fill="#4a86c8"/>
<rect x="179.74" y="199.88" width="1.43" height="27.22" fill="#4a86c8"/>
<rect x="181.46" y="220.55" width="1.43" height="6.55" fill="#4a86c8"/>
<rect x="183.19" y="173.36" width="1.43" height="53.74" fill="#4a86c8"/>
<rect x="184.91" y="226.41" width="1.43" height="0.69" fill="#a9c6e6"/>
<rect x="186.64" y="224.34" width="1.43" height="2.76" fill="#4a86c8"/>
<rect x="188.36" y="225.72" width="1.43" height="1.38" fill="#4a86c8"/>
<rect x="190.09" y="226.07" width="1.43" height="1.03" fill="#a9c6e6"/>
<rect x="191.81" y="225.72" width="1.43" height="1.38" fill="#4a86c8"/>
<rect x="193.54" y="226.41" width="1.43" height="0.69" fill="#a9c6e6"/>
<rect x="195.26" y="226.76" width="1.43" height="0.34" fill="#a9c6e6"/>
<rect x="196.99" y="226.76" width="1.43" height="0.34" fill="#a9c6e6"/>
<rect x="198.71" y="226.76" width="1.43" height="0.34" fill="#a9c6e6"/>
<rect x="143.70" y="150.60" width="59.70" height="80.20" fill="none" stroke="#2a2a2a" stroke-width="1.2"/>
<line x1="156.30" y1="230.80" x2="156.30" y2="233.30" stroke="#333" stroke-width="0.9"/>
<text x="156.30" y="241.90" font-size="8.8" text-anchor="middle" font-weight="normal" fill="#333" stroke="#333" stroke-width="0.22" >20</text>
<line x1="173.55" y1="230.80" x2="173.55" y2="233.30" stroke="#333" stroke-width="0.9"/>
<text x="173.55" y="241.90" font-size="8.8" text-anchor="middle" font-weight="normal" fill="#333" stroke="#333" stroke-width="0.22" >30</text>
<line x1="190.80" y1="230.80" x2="190.80" y2="233.30" stroke="#333" stroke-width="0.9"/>
<text x="190.80" y="241.90" font-size="8.8" text-anchor="middle" font-weight="normal" fill="#333" stroke="#333" stroke-width="0.22" >40</text>
<rect x="146.96" y="325.32" width="1.43" height="0.48" fill="#d4e8a8"/>
<rect x="148.69" y="324.84" width="1.43" height="0.96" fill="#d4e8a8"/>
<rect x="150.41" y="324.84" width="1.43" height="0.96" fill="#d4e8a8"/>
<rect x="152.14" y="324.37" width="1.43" height="1.43" fill="#a7cf5a"/>
<rect x="153.86" y="323.89" width="1.43" height="1.91" fill="#a7cf5a"/>
<rect x="155.59" y="321.02" width="1.43" height="4.78" fill="#a7cf5a"/>
<rect x="157.31" y="306.68" width="1.43" height="19.12" fill="#a7cf5a"/>
<rect x="159.04" y="272.26" width="1.43" height="53.54" fill="#a7cf5a"/>
<rect x="160.76" y="311.46" width="1.43" height="14.34" fill="#a7cf5a"/>
<rect x="162.49" y="322.45" width="1.43" height="3.35" fill="#a7cf5a"/>
<rect x="164.21" y="323.89" width="1.43" height="1.91" fill="#a7cf5a"/>
<rect x="165.94" y="324.84" width="1.43" height="0.96" fill="#d4e8a8"/>
<rect x="167.66" y="324.84" width="1.43" height="0.96" fill="#d4e8a8"/>
<rect x="169.39" y="324.84" width="1.43" height="0.96" fill="#d4e8a8"/>
<rect x="171.11" y="324.84" width="1.43" height="0.96" fill="#d4e8a8"/>
<rect x="172.84" y="324.84" width="1.43" height="0.96" fill="#d4e8a8"/>
<rect x="174.56" y="325.32" width="1.43" height="0.48" fill="#d4e8a8"/>
<rect x="176.29" y="325.32" width="1.43" height="0.48" fill="#d4e8a8"/>
<rect x="178.01" y="324.84" width="1.43" height="0.96" fill="#d4e8a8"/>
<rect x="179.74" y="325.32" width="1.43" height="0.48" fill="#d4e8a8"/>
<rect x="181.46" y="325.32" width="1.43" height="0.48" fill="#d4e8a8"/>
<rect x="183.19" y="325.32" width="1.43" height="0.48" fill="#d4e8a8"/>
<rect x="184.91" y="325.32" width="1.43" height="0.48" fill="#d4e8a8"/>
<rect x="186.64" y="325.32" width="1.43" height="0.48" fill="#d4e8a8"/>
<rect x="188.36" y="325.32" width="1.43" height="0.48" fill="#d4e8a8"/>
<rect x="190.09" y="325.32" width="1.43" height="0.48" fill="#d4e8a8"/>
<rect x="191.81" y="325.32" width="1.43" height="0.48" fill="#d4e8a8"/>
<rect x="193.54" y="325.32" width="1.43" height="0.48" fill="#d4e8a8"/>
<rect x="195.26" y="325.32" width="1.43" height="0.48" fill="#d4e8a8"/>
<rect x="196.99" y="325.32" width="1.43" height="0.48" fill="#d4e8a8"/>
<rect x="198.71" y="325.32" width="1.43" height="0.48" fill="#d4e8a8"/>
<rect x="143.70" y="248.30" width="59.70" height="81.10" fill="none" stroke="#2a2a2a" stroke-width="1.2"/>
<line x1="156.30" y1="329.40" x2="156.30" y2="331.90" stroke="#333" stroke-width="0.9"/>
<text x="156.30" y="339.60" font-size="8.8" text-anchor="middle" font-weight="normal" fill="#333" stroke="#333" stroke-width="0.22" >20</text>
<line x1="173.55" y1="329.40" x2="173.55" y2="331.90" stroke="#333" stroke-width="0.9"/>
<text x="173.55" y="339.60" font-size="8.8" text-anchor="middle" font-weight="normal" fill="#333" stroke="#333" stroke-width="0.22" >30</text>
<line x1="190.80" y1="329.40" x2="190.80" y2="331.90" stroke="#333" stroke-width="0.9"/>
<text x="190.80" y="339.60" font-size="8.8" text-anchor="middle" font-weight="normal" fill="#333" stroke="#333" stroke-width="0.22" >40</text>
<rect x="210.26" y="226.76" width="1.43" height="0.34" fill="#a9c6e6"/>
<rect x="211.99" y="226.76" width="1.43" height="0.34" fill="#a9c6e6"/>
<rect x="213.71" y="226.58" width="1.43" height="0.52" fill="#a9c6e6"/>
<rect x="215.44" y="226.58" width="1.43" height="0.52" fill="#a9c6e6"/>
<rect x="217.16" y="226.76" width="1.43" height="0.34" fill="#a9c6e6"/>
<rect x="218.89" y="226.41" width="1.43" height="0.69" fill="#a9c6e6"/>
<rect x="220.61" y="226.76" width="1.43" height="0.34" fill="#a9c6e6"/>
<rect x="222.34" y="226.76" width="1.43" height="0.34" fill="#a9c6e6"/>
<rect x="224.06" y="226.58" width="1.43" height="0.52" fill="#a9c6e6"/>
<rect x="225.79" y="226.76" width="1.43" height="0.34" fill="#a9c6e6"/>
<rect x="227.51" y="226.76" width="1.43" height="0.34" fill="#a9c6e6"/>
<rect x="229.24" y="226.58" width="1.43" height="0.52" fill="#a9c6e6"/>
<rect x="230.96" y="226.58" width="1.43" height="0.52" fill="#a9c6e6"/>
<rect x="232.69" y="226.41" width="1.43" height="0.69" fill="#a9c6e6"/>
<rect x="234.41" y="226.41" width="1.43" height="0.69" fill="#a9c6e6"/>
<rect x="236.14" y="226.07" width="1.43" height="1.03" fill="#a9c6e6"/>
<rect x="237.86" y="225.03" width="1.43" height="2.07" fill="#4a86c8"/>
<rect x="239.59" y="222.97" width="1.43" height="4.13" fill="#4a86c8"/>
<rect x="241.31" y="219.87" width="1.43" height="7.23" fill="#4a86c8"/>
<rect x="243.04" y="194.03" width="1.43" height="33.07" fill="#4a86c8"/>
<rect x="244.76" y="219.52" width="1.43" height="7.58" fill="#4a86c8"/>
<rect x="246.49" y="154.07" width="1.43" height="73.03" fill="#4a86c8"/>
<rect x="248.21" y="226.41" width="1.43" height="0.69" fill="#a9c6e6"/>
<rect x="249.94" y="224.34" width="1.43" height="2.76" fill="#4a86c8"/>
<rect x="251.66" y="225.38" width="1.43" height="1.72" fill="#4a86c8"/>
<rect x="253.39" y="224.34" width="1.43" height="2.76" fill="#4a86c8"/>
<rect x="255.11" y="226.41" width="1.43" height="0.69" fill="#a9c6e6"/>
<rect x="256.84" y="226.76" width="1.43" height="0.34" fill="#a9c6e6"/>
<rect x="258.56" y="226.76" width="1.43" height="0.34" fill="#a9c6e6"/>
<rect x="260.29" y="226.76" width="1.43" height="0.34" fill="#a9c6e6"/>
<rect x="262.01" y="226.76" width="1.43" height="0.34" fill="#a9c6e6"/>
<rect x="207.00" y="150.60" width="59.70" height="80.20" fill="none" stroke="#2a2a2a" stroke-width="1.2"/>
<line x1="219.60" y1="230.80" x2="219.60" y2="233.30" stroke="#333" stroke-width="0.9"/>
<text x="219.60" y="241.90" font-size="8.8" text-anchor="middle" font-weight="normal" fill="#333" stroke="#333" stroke-width="0.22" >20</text>
<line x1="236.85" y1="230.80" x2="236.85" y2="233.30" stroke="#333" stroke-width="0.9"/>
<text x="236.85" y="241.90" font-size="8.8" text-anchor="middle" font-weight="normal" fill="#333" stroke="#333" stroke-width="0.22" >30</text>
<line x1="254.10" y1="230.80" x2="254.10" y2="233.30" stroke="#333" stroke-width="0.9"/>
<text x="254.10" y="241.90" font-size="8.8" text-anchor="middle" font-weight="normal" fill="#333" stroke="#333" stroke-width="0.22" >40</text>
<rect x="210.26" y="325.32" width="1.43" height="0.48" fill="#d4e8a8"/>
<rect x="211.99" y="325.32" width="1.43" height="0.48" fill="#d4e8a8"/>
<rect x="213.71" y="324.84" width="1.43" height="0.96" fill="#d4e8a8"/>
<rect x="215.44" y="324.84" width="1.43" height="0.96" fill="#d4e8a8"/>
<rect x="217.16" y="323.89" width="1.43" height="1.91" fill="#a7cf5a"/>
<rect x="218.89" y="321.02" width="1.43" height="4.78" fill="#a7cf5a"/>
<rect x="220.61" y="312.42" width="1.43" height="13.38" fill="#a7cf5a"/>
<rect x="222.34" y="286.60" width="1.43" height="39.20" fill="#a7cf5a"/>
<rect x="224.06" y="312.89" width="1.43" height="12.91" fill="#a7cf5a"/>
<rect x="225.79" y="322.93" width="1.43" height="2.87" fill="#a7cf5a"/>
<rect x="227.51" y="324.37" width="1.43" height="1.43" fill="#a7cf5a"/>
<rect x="229.24" y="324.84" width="1.43" height="0.96" fill="#d4e8a8"/>
<rect x="230.96" y="324.84" width="1.43" height="0.96" fill="#d4e8a8"/>
<rect x="232.69" y="325.32" width="1.43" height="0.48" fill="#d4e8a8"/>
<rect x="234.41" y="325.32" width="1.43" height="0.48" fill="#d4e8a8"/>
<rect x="236.14" y="325.32" width="1.43" height="0.48" fill="#d4e8a8"/>
<rect x="237.86" y="325.32" width="1.43" height="0.48" fill="#d4e8a8"/>
<rect x="239.59" y="325.32" width="1.43" height="0.48" fill="#d4e8a8"/>
<rect x="241.31" y="325.32" width="1.43" height="0.48" fill="#d4e8a8"/>
<rect x="243.04" y="325.32" width="1.43" height="0.48" fill="#d4e8a8"/>
<rect x="244.76" y="325.32" width="1.43" height="0.48" fill="#d4e8a8"/>
<rect x="246.49" y="324.84" width="1.43" height="0.96" fill="#d4e8a8"/>
<rect x="248.21" y="325.32" width="1.43" height="0.48" fill="#d4e8a8"/>
<rect x="249.94" y="325.32" width="1.43" height="0.48" fill="#d4e8a8"/>
<rect x="251.66" y="325.32" width="1.43" height="0.48" fill="#d4e8a8"/>
<rect x="253.39" y="325.32" width="1.43" height="0.48" fill="#d4e8a8"/>
<rect x="255.11" y="325.32" width="1.43" height="0.48" fill="#d4e8a8"/>
<rect x="256.84" y="325.32" width="1.43" height="0.48" fill="#d4e8a8"/>
<rect x="207.00" y="248.30" width="59.70" height="81.10" fill="none" stroke="#2a2a2a" stroke-width="1.2"/>
<line x1="219.60" y1="329.40" x2="219.60" y2="331.90" stroke="#333" stroke-width="0.9"/>
<text x="219.60" y="339.60" font-size="8.8" text-anchor="middle" font-weight="normal" fill="#333" stroke="#333" stroke-width="0.22" >20</text>
<line x1="236.85" y1="329.40" x2="236.85" y2="331.90" stroke="#333" stroke-width="0.9"/>
<text x="236.85" y="339.60" font-size="8.8" text-anchor="middle" font-weight="normal" fill="#333" stroke="#333" stroke-width="0.22" >30</text>
<line x1="254.10" y1="329.40" x2="254.10" y2="331.90" stroke="#333" stroke-width="0.9"/>
<text x="254.10" y="339.60" font-size="8.8" text-anchor="middle" font-weight="normal" fill="#333" stroke="#333" stroke-width="0.22" >40</text>
<rect x="273.56" y="226.76" width="1.43" height="0.34" fill="#a9c6e6"/>
<rect x="275.29" y="226.76" width="1.43" height="0.34" fill="#a9c6e6"/>
<rect x="277.01" y="226.76" width="1.43" height="0.34" fill="#a9c6e6"/>
<rect x="278.74" y="226.76" width="1.43" height="0.34" fill="#a9c6e6"/>
<rect x="280.46" y="226.58" width="1.43" height="0.52" fill="#a9c6e6"/>
<rect x="282.19" y="226.41" width="1.43" height="0.69" fill="#a9c6e6"/>
<rect x="283.91" y="226.58" width="1.43" height="0.52" fill="#a9c6e6"/>
<rect x="285.64" y="226.76" width="1.43" height="0.34" fill="#a9c6e6"/>
<rect x="287.36" y="225.72" width="1.43" height="1.38" fill="#4a86c8"/>
<rect x="289.09" y="226.76" width="1.43" height="0.34" fill="#a9c6e6"/>
<rect x="290.81" y="226.76" width="1.43" height="0.34" fill="#a9c6e6"/>
<rect x="292.54" y="226.07" width="1.43" height="1.03" fill="#a9c6e6"/>
<rect x="294.26" y="225.72" width="1.43" height="1.38" fill="#4a86c8"/>
<rect x="295.99" y="226.07" width="1.43" height="1.03" fill="#a9c6e6"/>
<rect x="297.71" y="225.72" width="1.43" height="1.38" fill="#4a86c8"/>
<rect x="299.44" y="224.69" width="1.43" height="2.41" fill="#4a86c8"/>
<rect x="301.16" y="223.66" width="1.43" height="3.44" fill="#4a86c8"/>
<rect x="302.89" y="222.97" width="1.43" height="4.13" fill="#4a86c8"/>
<rect x="304.61" y="219.18" width="1.43" height="7.92" fill="#4a86c8"/>
<rect x="306.34" y="195.41" width="1.43" height="31.69" fill="#4a86c8"/>
<rect x="308.06" y="220.21" width="1.43" height="6.89" fill="#4a86c8"/>
<rect x="309.79" y="166.47" width="1.43" height="60.63" fill="#4a86c8"/>
<rect x="311.51" y="226.41" width="1.43" height="0.69" fill="#a9c6e6"/>
<rect x="313.24" y="224.34" width="1.43" height="2.76" fill="#4a86c8"/>
<rect x="314.96" y="225.03" width="1.43" height="2.07" fill="#4a86c8"/>
<rect x="316.69" y="224.69" width="1.43" height="2.41" fill="#4a86c8"/>
<rect x="318.41" y="226.41" width="1.43" height="0.69" fill="#a9c6e6"/>
<rect x="320.14" y="226.76" width="1.43" height="0.34" fill="#a9c6e6"/>
<rect x="321.86" y="226.76" width="1.43" height="0.34" fill="#a9c6e6"/>
<rect x="323.59" y="226.76" width="1.43" height="0.34" fill="#a9c6e6"/>
<rect x="325.31" y="226.76" width="1.43" height="0.34" fill="#a9c6e6"/>
<rect x="270.30" y="150.60" width="59.70" height="80.20" fill="none" stroke="#2a2a2a" stroke-width="1.2"/>
<line x1="282.90" y1="230.80" x2="282.90" y2="233.30" stroke="#333" stroke-width="0.9"/>
<text x="282.90" y="241.90" font-size="8.8" text-anchor="middle" font-weight="normal" fill="#333" stroke="#333" stroke-width="0.22" >20</text>
<line x1="300.15" y1="230.80" x2="300.15" y2="233.30" stroke="#333" stroke-width="0.9"/>
<text x="300.15" y="241.90" font-size="8.8" text-anchor="middle" font-weight="normal" fill="#333" stroke="#333" stroke-width="0.22" >30</text>
<line x1="317.40" y1="230.80" x2="317.40" y2="233.30" stroke="#333" stroke-width="0.9"/>
<text x="317.40" y="241.90" font-size="8.8" text-anchor="middle" font-weight="normal" fill="#333" stroke="#333" stroke-width="0.22" >40</text>
<rect x="273.56" y="325.32" width="1.43" height="0.48" fill="#d4e8a8"/>
<rect x="275.29" y="324.84" width="1.43" height="0.96" fill="#d4e8a8"/>
<rect x="277.01" y="324.84" width="1.43" height="0.96" fill="#d4e8a8"/>
<rect x="278.74" y="324.37" width="1.43" height="1.43" fill="#a7cf5a"/>
<rect x="280.46" y="323.41" width="1.43" height="2.39" fill="#a7cf5a"/>
<rect x="282.19" y="320.06" width="1.43" height="5.74" fill="#a7cf5a"/>
<rect x="283.91" y="301.42" width="1.43" height="24.38" fill="#a7cf5a"/>
<rect x="285.64" y="252.19" width="1.43" height="73.61" fill="#a7cf5a"/>
<rect x="287.36" y="302.38" width="1.43" height="23.42" fill="#a7cf5a"/>
<rect x="289.09" y="321.02" width="1.43" height="4.78" fill="#a7cf5a"/>
<rect x="290.81" y="323.89" width="1.43" height="1.91" fill="#a7cf5a"/>
<rect x="292.54" y="324.37" width="1.43" height="1.43" fill="#a7cf5a"/>
<rect x="294.26" y="324.84" width="1.43" height="0.96" fill="#d4e8a8"/>
<rect x="295.99" y="324.84" width="1.43" height="0.96" fill="#d4e8a8"/>
<rect x="297.71" y="324.84" width="1.43" height="0.96" fill="#d4e8a8"/>
<rect x="299.44" y="324.84" width="1.43" height="0.96" fill="#d4e8a8"/>
<rect x="301.16" y="325.32" width="1.43" height="0.48" fill="#d4e8a8"/>
<rect x="302.89" y="325.32" width="1.43" height="0.48" fill="#d4e8a8"/>
<rect x="304.61" y="325.32" width="1.43" height="0.48" fill="#d4e8a8"/>
<rect x="306.34" y="324.84" width="1.43" height="0.96" fill="#d4e8a8"/>
<rect x="308.06" y="325.32" width="1.43" height="0.48" fill="#d4e8a8"/>
<rect x="309.79" y="325.32" width="1.43" height="0.48" fill="#d4e8a8"/>
<rect x="311.51" y="325.32" width="1.43" height="0.48" fill="#d4e8a8"/>
<rect x="313.24" y="325.32" width="1.43" height="0.48" fill="#d4e8a8"/>
<rect x="314.96" y="325.32" width="1.43" height="0.48" fill="#d4e8a8"/>
<rect x="316.69" y="325.32" width="1.43" height="0.48" fill="#d4e8a8"/>
<rect x="318.41" y="325.32" width="1.43" height="0.48" fill="#d4e8a8"/>
<rect x="320.14" y="325.32" width="1.43" height="0.48" fill="#d4e8a8"/>
<rect x="270.30" y="248.30" width="59.70" height="81.10" fill="none" stroke="#2a2a2a" stroke-width="1.2"/>
<line x1="282.90" y1="329.40" x2="282.90" y2="331.90" stroke="#333" stroke-width="0.9"/>
<text x="282.90" y="339.60" font-size="8.8" text-anchor="middle" font-weight="normal" fill="#333" stroke="#333" stroke-width="0.22" >20</text>
<line x1="300.15" y1="329.40" x2="300.15" y2="331.90" stroke="#333" stroke-width="0.9"/>
<text x="300.15" y="339.60" font-size="8.8" text-anchor="middle" font-weight="normal" fill="#333" stroke="#333" stroke-width="0.22" >30</text>
<line x1="317.40" y1="329.40" x2="317.40" y2="331.90" stroke="#333" stroke-width="0.9"/>
<text x="317.40" y="339.60" font-size="8.8" text-anchor="middle" font-weight="normal" fill="#333" stroke="#333" stroke-width="0.22" >40</text>
<rect x="336.86" y="226.76" width="1.43" height="0.34" fill="#a9c6e6"/>
<rect x="338.59" y="226.76" width="1.43" height="0.34" fill="#a9c6e6"/>
<rect x="340.31" y="226.76" width="1.43" height="0.34" fill="#a9c6e6"/>
<rect x="342.04" y="226.76" width="1.43" height="0.34" fill="#a9c6e6"/>
<rect x="343.76" y="226.76" width="1.43" height="0.34" fill="#a9c6e6"/>
<rect x="345.49" y="226.41" width="1.43" height="0.69" fill="#a9c6e6"/>
<rect x="347.21" y="226.76" width="1.43" height="0.34" fill="#a9c6e6"/>
<rect x="348.94" y="226.76" width="1.43" height="0.34" fill="#a9c6e6"/>
<rect x="350.66" y="226.76" width="1.43" height="0.34" fill="#a9c6e6"/>
<rect x="352.39" y="226.76" width="1.43" height="0.34" fill="#a9c6e6"/>
<rect x="354.11" y="226.76" width="1.43" height="0.34" fill="#a9c6e6"/>
<rect x="355.84" y="226.76" width="1.43" height="0.34" fill="#a9c6e6"/>
<rect x="357.56" y="226.76" width="1.43" height="0.34" fill="#a9c6e6"/>
<rect x="359.29" y="226.76" width="1.43" height="0.34" fill="#a9c6e6"/>
<rect x="361.01" y="226.58" width="1.43" height="0.52" fill="#a9c6e6"/>
<rect x="362.74" y="226.58" width="1.43" height="0.52" fill="#a9c6e6"/>
<rect x="364.46" y="226.41" width="1.43" height="0.69" fill="#a9c6e6"/>
<rect x="366.19" y="226.07" width="1.43" height="1.03" fill="#a9c6e6"/>
<rect x="367.91" y="223.66" width="1.43" height="3.44" fill="#4a86c8"/>
<rect x="369.64" y="205.05" width="1.43" height="22.05" fill="#4a86c8"/>
<rect x="371.36" y="224.00" width="1.43" height="3.10" fill="#4a86c8"/>
<rect x="373.09" y="195.06" width="1.43" height="32.04" fill="#4a86c8"/>
<rect x="374.81" y="226.41" width="1.43" height="0.69" fill="#a9c6e6"/>
<rect x="376.54" y="225.03" width="1.43" height="2.07" fill="#4a86c8"/>
<rect x="378.26" y="225.72" width="1.43" height="1.38" fill="#4a86c8"/>
<rect x="379.99" y="225.72" width="1.43" height="1.38" fill="#4a86c8"/>
<rect x="381.71" y="224.69" width="1.43" height="2.41" fill="#4a86c8"/>
<rect x="383.44" y="226.41" width="1.43" height="0.69" fill="#a9c6e6"/>
<rect x="385.16" y="226.76" width="1.43" height="0.34" fill="#a9c6e6"/>
<rect x="386.89" y="226.76" width="1.43" height="0.34" fill="#a9c6e6"/>
<rect x="333.60" y="150.60" width="59.70" height="80.20" fill="none" stroke="#2a2a2a" stroke-width="1.2"/>
<line x1="346.20" y1="230.80" x2="346.20" y2="233.30" stroke="#333" stroke-width="0.9"/>
<text x="346.20" y="241.90" font-size="8.8" text-anchor="middle" font-weight="normal" fill="#333" stroke="#333" stroke-width="0.22" >20</text>
<line x1="363.45" y1="230.80" x2="363.45" y2="233.30" stroke="#333" stroke-width="0.9"/>
<text x="363.45" y="241.90" font-size="8.8" text-anchor="middle" font-weight="normal" fill="#333" stroke="#333" stroke-width="0.22" >30</text>
<line x1="380.70" y1="230.80" x2="380.70" y2="233.30" stroke="#333" stroke-width="0.9"/>
<text x="380.70" y="241.90" font-size="8.8" text-anchor="middle" font-weight="normal" fill="#333" stroke="#333" stroke-width="0.22" >40</text>
<rect x="336.86" y="325.32" width="1.43" height="0.48" fill="#d4e8a8"/>
<rect x="338.59" y="325.32" width="1.43" height="0.48" fill="#d4e8a8"/>
<rect x="340.31" y="324.84" width="1.43" height="0.96" fill="#d4e8a8"/>
<rect x="342.04" y="324.84" width="1.43" height="0.96" fill="#d4e8a8"/>
<rect x="343.76" y="324.37" width="1.43" height="1.43" fill="#a7cf5a"/>
<rect x="345.49" y="321.02" width="1.43" height="4.78" fill="#a7cf5a"/>
<rect x="347.21" y="312.42" width="1.43" height="13.38" fill="#a7cf5a"/>
<rect x="348.94" y="283.26" width="1.43" height="42.54" fill="#a7cf5a"/>
<rect x="350.66" y="312.42" width="1.43" height="13.38" fill="#a7cf5a"/>
<rect x="352.39" y="322.93" width="1.43" height="2.87" fill="#a7cf5a"/>
<rect x="354.11" y="324.37" width="1.43" height="1.43" fill="#a7cf5a"/>
<rect x="355.84" y="324.84" width="1.43" height="0.96" fill="#d4e8a8"/>
<rect x="357.56" y="324.84" width="1.43" height="0.96" fill="#d4e8a8"/>
<rect x="359.29" y="325.32" width="1.43" height="0.48" fill="#d4e8a8"/>
<rect x="361.01" y="325.32" width="1.43" height="0.48" fill="#d4e8a8"/>
<rect x="362.74" y="325.32" width="1.43" height="0.48" fill="#d4e8a8"/>
<rect x="364.46" y="325.32" width="1.43" height="0.48" fill="#d4e8a8"/>
<rect x="366.19" y="325.32" width="1.43" height="0.48" fill="#d4e8a8"/>
<rect x="367.91" y="325.32" width="1.43" height="0.48" fill="#d4e8a8"/>
<rect x="369.64" y="324.84" width="1.43" height="0.96" fill="#d4e8a8"/>
<rect x="371.36" y="325.32" width="1.43" height="0.48" fill="#d4e8a8"/>
<rect x="373.09" y="325.32" width="1.43" height="0.48" fill="#d4e8a8"/>
<rect x="374.81" y="325.32" width="1.43" height="0.48" fill="#d4e8a8"/>
<rect x="376.54" y="325.32" width="1.43" height="0.48" fill="#d4e8a8"/>
<rect x="378.26" y="325.32" width="1.43" height="0.48" fill="#d4e8a8"/>
<rect x="379.99" y="325.32" width="1.43" height="0.48" fill="#d4e8a8"/>
<rect x="381.71" y="325.32" width="1.43" height="0.48" fill="#d4e8a8"/>
<rect x="383.44" y="325.32" width="1.43" height="0.48" fill="#d4e8a8"/>
<rect x="333.60" y="248.30" width="59.70" height="81.10" fill="none" stroke="#2a2a2a" stroke-width="1.2"/>
<line x1="346.20" y1="329.40" x2="346.20" y2="331.90" stroke="#333" stroke-width="0.9"/>
<text x="346.20" y="339.60" font-size="8.8" text-anchor="middle" font-weight="normal" fill="#333" stroke="#333" stroke-width="0.22" >20</text>
<line x1="363.45" y1="329.40" x2="363.45" y2="331.90" stroke="#333" stroke-width="0.9"/>
<text x="363.45" y="339.60" font-size="8.8" text-anchor="middle" font-weight="normal" fill="#333" stroke="#333" stroke-width="0.22" >30</text>
<line x1="380.70" y1="329.40" x2="380.70" y2="331.90" stroke="#333" stroke-width="0.9"/>
<text x="380.70" y="339.60" font-size="8.8" text-anchor="middle" font-weight="normal" fill="#333" stroke="#333" stroke-width="0.22" >40</text>
<line x1="141.10" y1="227.10" x2="143.70" y2="227.10" stroke="#333" stroke-width="0.9"/>
<text x="139.50" y="230.20" font-size="8.8" text-anchor="end" font-weight="normal" fill="#333" stroke="#333" stroke-width="0.22" >0</text>
<line x1="141.10" y1="209.88" x2="143.70" y2="209.88" stroke="#333" stroke-width="0.9"/>
<text x="139.50" y="212.97" font-size="8.8" text-anchor="end" font-weight="normal" fill="#333" stroke="#333" stroke-width="0.22" >5</text>
<line x1="141.10" y1="192.65" x2="143.70" y2="192.65" stroke="#333" stroke-width="0.9"/>
<text x="139.50" y="195.75" font-size="8.8" text-anchor="end" font-weight="normal" fill="#333" stroke="#333" stroke-width="0.22" >10</text>
<line x1="141.10" y1="175.43" x2="143.70" y2="175.43" stroke="#333" stroke-width="0.9"/>
<text x="139.50" y="178.53" font-size="8.8" text-anchor="end" font-weight="normal" fill="#333" stroke="#333" stroke-width="0.22" >15</text>
<line x1="141.10" y1="158.20" x2="143.70" y2="158.20" stroke="#333" stroke-width="0.9"/>
<text x="139.50" y="161.30" font-size="8.8" text-anchor="end" font-weight="normal" fill="#333" stroke="#333" stroke-width="0.22" >20</text>
<line x1="141.10" y1="325.80" x2="143.70" y2="325.80" stroke="#333" stroke-width="0.9"/>
<text x="139.50" y="328.90" font-size="8.8" text-anchor="end" font-weight="normal" fill="#333" stroke="#333" stroke-width="0.22" >0</text>
<line x1="141.10" y1="301.90" x2="143.70" y2="301.90" stroke="#333" stroke-width="0.9"/>
<text x="139.50" y="305.00" font-size="8.8" text-anchor="end" font-weight="normal" fill="#333" stroke="#333" stroke-width="0.22" >0.05</text>
<line x1="141.10" y1="278.00" x2="143.70" y2="278.00" stroke="#333" stroke-width="0.9"/>
<text x="139.50" y="281.10" font-size="8.8" text-anchor="end" font-weight="normal" fill="#333" stroke="#333" stroke-width="0.22" >0.1</text>
<line x1="141.10" y1="254.10" x2="143.70" y2="254.10" stroke="#333" stroke-width="0.9"/>
<text x="139.50" y="257.20" font-size="8.8" text-anchor="end" font-weight="normal" fill="#333" stroke="#333" stroke-width="0.22" >0.15</text>
<text x="148.50" y="166.40" font-size="11.2" text-anchor="start" font-weight="normal" fill="#1a1a1a" stroke="#1a1a1a" stroke-width="0.22" >tsRNA</text>
<text x="148.50" y="264.10" font-size="11.2" text-anchor="start" font-weight="normal" fill="#1a1a1a" stroke="#1a1a1a" stroke-width="0.22" >miRNA</text>
<text x="126.50" y="188.00" font-size="10.3" text-anchor="middle" font-weight="normal" fill="#1a1a1a" stroke="#1a1a1a" stroke-width="0.22" transform="rotate(-90 126.50 188.00)" >RPM</text>
<text x="122.60" y="284.40" font-size="10.3" text-anchor="middle" font-weight="normal" fill="#1a1a1a" stroke="#1a1a1a" stroke-width="0.22" transform="rotate(-90 122.60 284.40)" >RPM</text>
<text x="392.90" y="240.60" font-size="8.8" text-anchor="start" font-weight="normal" fill="#333" stroke="#333" stroke-width="0.22" >(nt)</text>
<text x="392.90" y="339.60" font-size="8.8" text-anchor="start" font-weight="normal" fill="#333" stroke="#333" stroke-width="0.22" >(nt)</text>
<text x="275.20" y="351.80" font-size="10" text-anchor="middle" font-weight="normal" fill="#1a1a1a" stroke="#1a1a1a" stroke-width="0.22" >Length of nucleotides</text>
<rect x="426.76" y="226.85" width="1.43" height="0.25" fill="#f2d3a0"/>
<rect x="428.49" y="226.60" width="1.43" height="0.50" fill="#f2d3a0"/>
<rect x="430.21" y="226.09" width="1.43" height="1.01" fill="#f2d3a0"/>
<rect x="431.94" y="225.84" width="1.43" height="1.26" fill="#e8b05c"/>
<rect x="433.66" y="225.59" width="1.43" height="1.51" fill="#e8b05c"/>
<rect x="435.39" y="225.59" width="1.43" height="1.51" fill="#e8b05c"/>
<rect x="437.11" y="225.84" width="1.43" height="1.26" fill="#e8b05c"/>
<rect x="438.84" y="225.08" width="1.43" height="2.02" fill="#e8b05c"/>
<rect x="440.56" y="225.59" width="1.43" height="1.51" fill="#e8b05c"/>
<rect x="442.29" y="225.34" width="1.43" height="1.76" fill="#e8b05c"/>
<rect x="444.01" y="220.55" width="1.43" height="6.55" fill="#e8b05c"/>
<rect x="445.74" y="225.59" width="1.43" height="1.51" fill="#e8b05c"/>
<rect x="447.46" y="225.34" width="1.43" height="1.76" fill="#e8b05c"/>
<rect x="449.19" y="225.08" width="1.43" height="2.02" fill="#e8b05c"/>
<rect x="450.91" y="225.34" width="1.43" height="1.76" fill="#e8b05c"/>
<rect x="452.64" y="225.08" width="1.43" height="2.02" fill="#e8b05c"/>
<rect x="454.36" y="225.34" width="1.43" height="1.76" fill="#e8b05c"/>
<rect x="456.09" y="224.83" width="1.43" height="2.27" fill="#e8b05c"/>
<rect x="457.81" y="225.59" width="1.43" height="1.51" fill="#e8b05c"/>
<rect x="459.54" y="225.08" width="1.43" height="2.02" fill="#e8b05c"/>
<rect x="461.26" y="225.34" width="1.43" height="1.76" fill="#e8b05c"/>
<rect x="462.99" y="215.00" width="1.43" height="12.10" fill="#e8b05c"/>
<rect x="464.71" y="154.02" width="1.43" height="73.08" fill="#e8b05c"/>
<rect x="466.44" y="225.59" width="1.43" height="1.51" fill="#e8b05c"/>
<rect x="468.16" y="225.34" width="1.43" height="1.76" fill="#e8b05c"/>
<rect x="469.89" y="225.59" width="1.43" height="1.51" fill="#e8b05c"/>
<rect x="471.61" y="225.34" width="1.43" height="1.76" fill="#e8b05c"/>
<rect x="473.34" y="225.84" width="1.43" height="1.26" fill="#e8b05c"/>
<rect x="475.06" y="226.09" width="1.43" height="1.01" fill="#f2d3a0"/>
<rect x="476.79" y="226.60" width="1.43" height="0.50" fill="#f2d3a0"/>
<rect x="478.51" y="226.85" width="1.43" height="0.25" fill="#f2d3a0"/>
<rect x="423.80" y="150.60" width="59.70" height="80.20" fill="none" stroke="#2a2a2a" stroke-width="1.2"/>
<line x1="436.10" y1="230.80" x2="436.10" y2="233.30" stroke="#333" stroke-width="0.9"/>
<text x="436.10" y="241.90" font-size="8.8" text-anchor="middle" font-weight="normal" fill="#333" stroke="#333" stroke-width="0.22" >20</text>
<line x1="453.35" y1="230.80" x2="453.35" y2="233.30" stroke="#333" stroke-width="0.9"/>
<text x="453.35" y="241.90" font-size="8.8" text-anchor="middle" font-weight="normal" fill="#333" stroke="#333" stroke-width="0.22" >30</text>
<line x1="470.60" y1="230.80" x2="470.60" y2="233.30" stroke="#333" stroke-width="0.9"/>
<text x="470.60" y="241.90" font-size="8.8" text-anchor="middle" font-weight="normal" fill="#333" stroke="#333" stroke-width="0.22" >40</text>
<rect x="426.39" y="323.69" width="2.42" height="1.81" fill="#c69ad6"/>
<rect x="429.11" y="320.98" width="2.42" height="4.53" fill="#c69ad6"/>
<rect x="431.83" y="315.55" width="2.42" height="9.96" fill="#c69ad6"/>
<rect x="434.55" y="311.47" width="2.42" height="14.03" fill="#c69ad6"/>
<rect x="437.27" y="311.02" width="2.42" height="14.48" fill="#c69ad6"/>
<rect x="439.99" y="310.12" width="2.42" height="15.39" fill="#c69ad6"/>
<rect x="442.71" y="308.31" width="2.42" height="17.20" fill="#c69ad6"/>
<rect x="445.43" y="309.21" width="2.42" height="16.29" fill="#c69ad6"/>
<rect x="448.15" y="310.12" width="2.42" height="15.39" fill="#c69ad6"/>
<rect x="450.87" y="311.02" width="2.42" height="14.48" fill="#c69ad6"/>
<rect x="453.59" y="311.47" width="2.42" height="14.03" fill="#c69ad6"/>
<rect x="456.31" y="312.83" width="2.42" height="12.67" fill="#c69ad6"/>
<rect x="459.03" y="310.57" width="2.42" height="14.93" fill="#c69ad6"/>
<rect x="461.75" y="311.93" width="2.42" height="13.57" fill="#c69ad6"/>
<rect x="464.47" y="306.50" width="2.42" height="19.00" fill="#c69ad6"/>
<rect x="467.19" y="306.50" width="2.42" height="19.00" fill="#c69ad6"/>
<rect x="469.91" y="311.02" width="2.42" height="14.48" fill="#c69ad6"/>
<rect x="472.63" y="303.78" width="2.42" height="21.72" fill="#c69ad6"/>
<rect x="475.35" y="297.44" width="2.42" height="28.05" fill="#c69ad6"/>
<rect x="478.07" y="325.05" width="2.42" height="0.45" fill="#e2cbea"/>
<rect x="423.80" y="248.30" width="59.70" height="81.10" fill="none" stroke="#2a2a2a" stroke-width="1.2"/>
<line x1="441.20" y1="329.40" x2="441.20" y2="331.90" stroke="#333" stroke-width="0.9"/>
<text x="441.20" y="339.60" font-size="8.8" text-anchor="middle" font-weight="normal" fill="#333" stroke="#333" stroke-width="0.22" >20</text>
<line x1="454.80" y1="329.40" x2="454.80" y2="331.90" stroke="#333" stroke-width="0.9"/>
<text x="454.80" y="339.60" font-size="8.8" text-anchor="middle" font-weight="normal" fill="#333" stroke="#333" stroke-width="0.22" >25</text>
<line x1="468.40" y1="329.40" x2="468.40" y2="331.90" stroke="#333" stroke-width="0.9"/>
<text x="468.40" y="339.60" font-size="8.8" text-anchor="middle" font-weight="normal" fill="#333" stroke="#333" stroke-width="0.22" >30</text>
<rect x="490.36" y="226.85" width="1.43" height="0.25" fill="#f2d3a0"/>
<rect x="492.09" y="226.60" width="1.43" height="0.50" fill="#f2d3a0"/>
<rect x="493.81" y="226.34" width="1.43" height="0.76" fill="#f2d3a0"/>
<rect x="495.54" y="225.84" width="1.43" height="1.26" fill="#e8b05c"/>
<rect x="497.26" y="225.84" width="1.43" height="1.26" fill="#e8b05c"/>
<rect x="498.99" y="225.08" width="1.43" height="2.02" fill="#e8b05c"/>
<rect x="500.71" y="225.59" width="1.43" height="1.51" fill="#e8b05c"/>
<rect x="502.44" y="224.58" width="1.43" height="2.52" fill="#e8b05c"/>
<rect x="504.16" y="225.34" width="1.43" height="1.76" fill="#e8b05c"/>
<rect x="505.89" y="222.82" width="1.43" height="4.28" fill="#e8b05c"/>
<rect x="507.61" y="225.08" width="1.43" height="2.02" fill="#e8b05c"/>
<rect x="509.34" y="224.83" width="1.43" height="2.27" fill="#e8b05c"/>
<rect x="511.06" y="224.33" width="1.43" height="2.77" fill="#e8b05c"/>
<rect x="512.79" y="225.59" width="1.43" height="1.51" fill="#e8b05c"/>
<rect x="514.51" y="224.83" width="1.43" height="2.27" fill="#e8b05c"/>
<rect x="516.24" y="225.34" width="1.43" height="1.76" fill="#e8b05c"/>
<rect x="517.96" y="225.08" width="1.43" height="2.02" fill="#e8b05c"/>
<rect x="519.69" y="225.59" width="1.43" height="1.51" fill="#e8b05c"/>
<rect x="521.41" y="225.84" width="1.43" height="1.26" fill="#e8b05c"/>
<rect x="523.14" y="225.08" width="1.43" height="2.02" fill="#e8b05c"/>
<rect x="524.86" y="225.34" width="1.43" height="1.76" fill="#e8b05c"/>
<rect x="526.59" y="214.50" width="1.43" height="12.60" fill="#e8b05c"/>
<rect x="528.31" y="188.80" width="1.43" height="38.30" fill="#e8b05c"/>
<rect x="530.04" y="225.84" width="1.43" height="1.26" fill="#e8b05c"/>
<rect x="531.76" y="225.59" width="1.43" height="1.51" fill="#e8b05c"/>
<rect x="533.49" y="225.34" width="1.43" height="1.76" fill="#e8b05c"/>
<rect x="535.21" y="225.59" width="1.43" height="1.51" fill="#e8b05c"/>
<rect x="536.94" y="226.09" width="1.43" height="1.01" fill="#f2d3a0"/>
<rect x="538.66" y="226.34" width="1.43" height="0.76" fill="#f2d3a0"/>
<rect x="540.39" y="226.60" width="1.43" height="0.50" fill="#f2d3a0"/>
<rect x="487.40" y="150.60" width="59.70" height="80.20" fill="none" stroke="#2a2a2a" stroke-width="1.2"/>
<line x1="499.70" y1="230.80" x2="499.70" y2="233.30" stroke="#333" stroke-width="0.9"/>
<text x="499.70" y="241.90" font-size="8.8" text-anchor="middle" font-weight="normal" fill="#333" stroke="#333" stroke-width="0.22" >20</text>
<line x1="516.95" y1="230.80" x2="516.95" y2="233.30" stroke="#333" stroke-width="0.9"/>
<text x="516.95" y="241.90" font-size="8.8" text-anchor="middle" font-weight="normal" fill="#333" stroke="#333" stroke-width="0.22" >30</text>
<line x1="534.20" y1="230.80" x2="534.20" y2="233.30" stroke="#333" stroke-width="0.9"/>
<text x="534.20" y="241.90" font-size="8.8" text-anchor="middle" font-weight="normal" fill="#333" stroke="#333" stroke-width="0.22" >40</text>
<rect x="489.99" y="325.05" width="2.42" height="0.45" fill="#e2cbea"/>
<rect x="492.71" y="323.69" width="2.42" height="1.81" fill="#c69ad6"/>
<rect x="495.43" y="320.07" width="2.42" height="5.43" fill="#c69ad6"/>
<rect x="498.15" y="316.45" width="2.42" height="9.05" fill="#c69ad6"/>
<rect x="500.87" y="312.83" width="2.42" height="12.67" fill="#c69ad6"/>
<rect x="503.59" y="311.02" width="2.42" height="14.48" fill="#c69ad6"/>
<rect x="506.31" y="309.21" width="2.42" height="16.29" fill="#c69ad6"/>
<rect x="509.03" y="308.31" width="2.42" height="17.20" fill="#c69ad6"/>
<rect x="511.75" y="307.40" width="2.42" height="18.10" fill="#c69ad6"/>
<rect x="514.47" y="307.40" width="2.42" height="18.10" fill="#c69ad6"/>
<rect x="517.19" y="307.40" width="2.42" height="18.10" fill="#c69ad6"/>
<rect x="519.91" y="308.31" width="2.42" height="17.20" fill="#c69ad6"/>
<rect x="522.63" y="310.12" width="2.42" height="15.39" fill="#c69ad6"/>
<rect x="525.35" y="307.40" width="2.42" height="18.10" fill="#c69ad6"/>
<rect x="528.07" y="309.21" width="2.42" height="16.29" fill="#c69ad6"/>
<rect x="530.79" y="311.02" width="2.42" height="14.48" fill="#c69ad6"/>
<rect x="533.51" y="314.64" width="2.42" height="10.86" fill="#c69ad6"/>
<rect x="536.23" y="310.12" width="2.42" height="15.39" fill="#c69ad6"/>
<rect x="538.95" y="307.40" width="2.42" height="18.10" fill="#c69ad6"/>
<rect x="541.67" y="325.05" width="2.42" height="0.45" fill="#e2cbea"/>
<rect x="487.40" y="248.30" width="59.70" height="81.10" fill="none" stroke="#2a2a2a" stroke-width="1.2"/>
<line x1="504.80" y1="329.40" x2="504.80" y2="331.90" stroke="#333" stroke-width="0.9"/>
<text x="504.80" y="339.60" font-size="8.8" text-anchor="middle" font-weight="normal" fill="#333" stroke="#333" stroke-width="0.22" >20</text>
<line x1="518.40" y1="329.40" x2="518.40" y2="331.90" stroke="#333" stroke-width="0.9"/>
<text x="518.40" y="339.60" font-size="8.8" text-anchor="middle" font-weight="normal" fill="#333" stroke="#333" stroke-width="0.22" >25</text>
<line x1="532.00" y1="329.40" x2="532.00" y2="331.90" stroke="#333" stroke-width="0.9"/>
<text x="532.00" y="339.60" font-size="8.8" text-anchor="middle" font-weight="normal" fill="#333" stroke="#333" stroke-width="0.22" >30</text>
<rect x="553.96" y="226.85" width="1.43" height="0.25" fill="#f2d3a0"/>
<rect x="555.69" y="226.60" width="1.43" height="0.50" fill="#f2d3a0"/>
<rect x="557.41" y="226.34" width="1.43" height="0.76" fill="#f2d3a0"/>
<rect x="559.14" y="226.09" width="1.43" height="1.01" fill="#f2d3a0"/>
<rect x="560.86" y="225.59" width="1.43" height="1.51" fill="#e8b05c"/>
<rect x="562.59" y="225.08" width="1.43" height="2.02" fill="#e8b05c"/>
<rect x="564.31" y="225.59" width="1.43" height="1.51" fill="#e8b05c"/>
<rect x="566.04" y="224.83" width="1.43" height="2.27" fill="#e8b05c"/>
<rect x="567.76" y="223.82" width="1.43" height="3.28" fill="#e8b05c"/>
<rect x="569.49" y="224.58" width="1.43" height="2.52" fill="#e8b05c"/>
<rect x="571.21" y="225.34" width="1.43" height="1.76" fill="#e8b05c"/>
<rect x="572.94" y="225.59" width="1.43" height="1.51" fill="#e8b05c"/>
<rect x="574.66" y="225.08" width="1.43" height="2.02" fill="#e8b05c"/>
<rect x="576.39" y="224.83" width="1.43" height="2.27" fill="#e8b05c"/>
<rect x="578.11" y="225.59" width="1.43" height="1.51" fill="#e8b05c"/>
<rect x="579.84" y="225.08" width="1.43" height="2.02" fill="#e8b05c"/>
<rect x="581.56" y="225.84" width="1.43" height="1.26" fill="#e8b05c"/>
<rect x="583.29" y="225.84" width="1.43" height="1.26" fill="#e8b05c"/>
<rect x="585.01" y="224.83" width="1.43" height="2.27" fill="#e8b05c"/>
<rect x="586.74" y="225.34" width="1.43" height="1.76" fill="#e8b05c"/>
<rect x="588.46" y="225.59" width="1.43" height="1.51" fill="#e8b05c"/>
<rect x="590.19" y="212.99" width="1.43" height="14.11" fill="#e8b05c"/>
<rect x="591.91" y="171.91" width="1.43" height="55.19" fill="#e8b05c"/>
<rect x="593.64" y="225.59" width="1.43" height="1.51" fill="#e8b05c"/>
<rect x="595.36" y="225.84" width="1.43" height="1.26" fill="#e8b05c"/>
<rect x="597.09" y="225.08" width="1.43" height="2.02" fill="#e8b05c"/>
<rect x="598.81" y="225.59" width="1.43" height="1.51" fill="#e8b05c"/>
<rect x="600.54" y="225.84" width="1.43" height="1.26" fill="#e8b05c"/>
<rect x="602.26" y="226.09" width="1.43" height="1.01" fill="#f2d3a0"/>
<rect x="603.99" y="226.60" width="1.43" height="0.50" fill="#f2d3a0"/>
<rect x="551.00" y="150.60" width="59.70" height="80.20" fill="none" stroke="#2a2a2a" stroke-width="1.2"/>
<line x1="563.30" y1="230.80" x2="563.30" y2="233.30" stroke="#333" stroke-width="0.9"/>
<text x="563.30" y="241.90" font-size="8.8" text-anchor="middle" font-weight="normal" fill="#333" stroke="#333" stroke-width="0.22" >20</text>
<line x1="580.55" y1="230.80" x2="580.55" y2="233.30" stroke="#333" stroke-width="0.9"/>
<text x="580.55" y="241.90" font-size="8.8" text-anchor="middle" font-weight="normal" fill="#333" stroke="#333" stroke-width="0.22" >30</text>
<line x1="597.80" y1="230.80" x2="597.80" y2="233.30" stroke="#333" stroke-width="0.9"/>
<text x="597.80" y="241.90" font-size="8.8" text-anchor="middle" font-weight="normal" fill="#333" stroke="#333" stroke-width="0.22" >40</text>
<rect x="553.59" y="325.05" width="2.42" height="0.45" fill="#e2cbea"/>
<rect x="556.31" y="324.60" width="2.42" height="0.91" fill="#e2cbea"/>
<rect x="559.03" y="322.79" width="2.42" height="2.71" fill="#c69ad6"/>
<rect x="561.75" y="320.98" width="2.42" height="4.53" fill="#c69ad6"/>
<rect x="564.47" y="318.26" width="2.42" height="7.24" fill="#c69ad6"/>
<rect x="567.19" y="316.45" width="2.42" height="9.05" fill="#c69ad6"/>
<rect x="569.91" y="314.64" width="2.42" height="10.86" fill="#c69ad6"/>
<rect x="572.63" y="313.74" width="2.42" height="11.77" fill="#c69ad6"/>
<rect x="575.35" y="312.83" width="2.42" height="12.67" fill="#c69ad6"/>
<rect x="578.07" y="313.28" width="2.42" height="12.22" fill="#c69ad6"/>
<rect x="580.79" y="313.74" width="2.42" height="11.77" fill="#c69ad6"/>
<rect x="583.51" y="314.64" width="2.42" height="10.86" fill="#c69ad6"/>
<rect x="586.23" y="313.74" width="2.42" height="11.77" fill="#c69ad6"/>
<rect x="588.95" y="313.74" width="2.42" height="11.77" fill="#c69ad6"/>
<rect x="591.67" y="306.50" width="2.42" height="19.00" fill="#c69ad6"/>
<rect x="594.39" y="310.12" width="2.42" height="15.39" fill="#c69ad6"/>
<rect x="597.11" y="315.55" width="2.42" height="9.96" fill="#c69ad6"/>
<rect x="599.83" y="311.93" width="2.42" height="13.57" fill="#c69ad6"/>
<rect x="602.55" y="306.50" width="2.42" height="19.00" fill="#c69ad6"/>
<rect x="605.27" y="325.05" width="2.42" height="0.45" fill="#e2cbea"/>
<rect x="551.00" y="248.30" width="59.70" height="81.10" fill="none" stroke="#2a2a2a" stroke-width="1.2"/>
<line x1="568.40" y1="329.40" x2="568.40" y2="331.90" stroke="#333" stroke-width="0.9"/>
<text x="568.40" y="339.60" font-size="8.8" text-anchor="middle" font-weight="normal" fill="#333" stroke="#333" stroke-width="0.22" >20</text>
<line x1="582.00" y1="329.40" x2="582.00" y2="331.90" stroke="#333" stroke-width="0.9"/>
<text x="582.00" y="339.60" font-size="8.8" text-anchor="middle" font-weight="normal" fill="#333" stroke="#333" stroke-width="0.22" >25</text>
<line x1="595.60" y1="329.40" x2="595.60" y2="331.90" stroke="#333" stroke-width="0.9"/>
<text x="595.60" y="339.60" font-size="8.8" text-anchor="middle" font-weight="normal" fill="#333" stroke="#333" stroke-width="0.22" >30</text>
<rect x="617.56" y="226.60" width="1.43" height="0.50" fill="#f2d3a0"/>
<rect x="619.29" y="226.34" width="1.43" height="0.76" fill="#f2d3a0"/>
<rect x="621.01" y="225.84" width="1.43" height="1.26" fill="#e8b05c"/>
<rect x="622.74" y="225.08" width="1.43" height="2.02" fill="#e8b05c"/>
<rect x="624.46" y="224.08" width="1.43" height="3.02" fill="#e8b05c"/>
<rect x="626.19" y="221.05" width="1.43" height="6.05" fill="#e8b05c"/>
<rect x="627.91" y="223.32" width="1.43" height="3.78" fill="#e8b05c"/>
<rect x="629.64" y="224.08" width="1.43" height="3.02" fill="#e8b05c"/>
<rect x="631.36" y="221.30" width="1.43" height="5.80" fill="#e8b05c"/>
<rect x="633.09" y="223.32" width="1.43" height="3.78" fill="#e8b05c"/>
<rect x="634.81" y="222.82" width="1.43" height="4.28" fill="#e8b05c"/>
<rect x="636.54" y="222.31" width="1.43" height="4.79" fill="#e8b05c"/>
<rect x="638.26" y="222.06" width="1.43" height="5.04" fill="#e8b05c"/>
<rect x="639.99" y="224.58" width="1.43" height="2.52" fill="#e8b05c"/>
<rect x="641.71" y="221.30" width="1.43" height="5.80" fill="#e8b05c"/>
<rect x="643.44" y="221.30" width="1.43" height="5.80" fill="#e8b05c"/>
<rect x="645.16" y="223.57" width="1.43" height="3.53" fill="#e8b05c"/>
<rect x="646.89" y="224.58" width="1.43" height="2.52" fill="#e8b05c"/>
<rect x="648.61" y="224.58" width="1.43" height="2.52" fill="#e8b05c"/>
<rect x="650.34" y="221.56" width="1.43" height="5.54" fill="#e8b05c"/>
<rect x="652.06" y="223.82" width="1.43" height="3.28" fill="#e8b05c"/>
<rect x="653.79" y="214.00" width="1.43" height="13.10" fill="#e8b05c"/>
<rect x="655.51" y="204.17" width="1.43" height="22.93" fill="#e8b05c"/>
<rect x="657.24" y="223.32" width="1.43" height="3.78" fill="#e8b05c"/>
<rect x="658.96" y="223.32" width="1.43" height="3.78" fill="#e8b05c"/>
<rect x="660.69" y="222.06" width="1.43" height="5.04" fill="#e8b05c"/>
<rect x="662.41" y="221.30" width="1.43" height="5.80" fill="#e8b05c"/>
<rect x="664.14" y="223.32" width="1.43" height="3.78" fill="#e8b05c"/>
<rect x="665.86" y="223.57" width="1.43" height="3.53" fill="#e8b05c"/>
<rect x="667.59" y="224.08" width="1.43" height="3.02" fill="#e8b05c"/>
<rect x="614.60" y="150.60" width="59.70" height="80.20" fill="none" stroke="#2a2a2a" stroke-width="1.2"/>
<line x1="626.90" y1="230.80" x2="626.90" y2="233.30" stroke="#333" stroke-width="0.9"/>
<text x="626.90" y="241.90" font-size="8.8" text-anchor="middle" font-weight="normal" fill="#333" stroke="#333" stroke-width="0.22" >20</text>
<line x1="644.15" y1="230.80" x2="644.15" y2="233.30" stroke="#333" stroke-width="0.9"/>
<text x="644.15" y="241.90" font-size="8.8" text-anchor="middle" font-weight="normal" fill="#333" stroke="#333" stroke-width="0.22" >30</text>
<line x1="661.40" y1="230.80" x2="661.40" y2="233.30" stroke="#333" stroke-width="0.9"/>
<text x="661.40" y="241.90" font-size="8.8" text-anchor="middle" font-weight="normal" fill="#333" stroke="#333" stroke-width="0.22" >40</text>
<rect x="617.19" y="324.60" width="2.42" height="0.91" fill="#e2cbea"/>
<rect x="619.91" y="322.79" width="2.42" height="2.71" fill="#c69ad6"/>
<rect x="622.63" y="319.17" width="2.42" height="6.34" fill="#c69ad6"/>
<rect x="625.35" y="314.64" width="2.42" height="10.86" fill="#c69ad6"/>
<rect x="628.07" y="310.12" width="2.42" height="15.39" fill="#c69ad6"/>
<rect x="630.79" y="304.69" width="2.42" height="20.82" fill="#c69ad6"/>
<rect x="633.51" y="308.31" width="2.42" height="17.20" fill="#c69ad6"/>
<rect x="636.23" y="307.40" width="2.42" height="18.10" fill="#c69ad6"/>
<rect x="638.95" y="307.40" width="2.42" height="18.10" fill="#c69ad6"/>
<rect x="641.67" y="309.21" width="2.42" height="16.29" fill="#c69ad6"/>
<rect x="644.39" y="310.12" width="2.42" height="15.39" fill="#c69ad6"/>
<rect x="647.11" y="310.12" width="2.42" height="15.39" fill="#c69ad6"/>
<rect x="649.83" y="311.02" width="2.42" height="14.48" fill="#c69ad6"/>
<rect x="652.55" y="312.83" width="2.42" height="12.67" fill="#c69ad6"/>
<rect x="655.27" y="310.12" width="2.42" height="15.39" fill="#c69ad6"/>
<rect x="657.99" y="304.69" width="2.42" height="20.82" fill="#c69ad6"/>
<rect x="660.71" y="311.93" width="2.42" height="13.57" fill="#c69ad6"/>
<rect x="663.43" y="253.10" width="2.42" height="72.40" fill="#c69ad6"/>
<rect x="666.15" y="273.92" width="2.42" height="51.58" fill="#c69ad6"/>
<rect x="668.87" y="325.05" width="2.42" height="0.45" fill="#e2cbea"/>
<rect x="614.60" y="248.30" width="59.70" height="81.10" fill="none" stroke="#2a2a2a" stroke-width="1.2"/>
<line x1="632.00" y1="329.40" x2="632.00" y2="331.90" stroke="#333" stroke-width="0.9"/>
<text x="632.00" y="339.60" font-size="8.8" text-anchor="middle" font-weight="normal" fill="#333" stroke="#333" stroke-width="0.22" >20</text>
<line x1="645.60" y1="329.40" x2="645.60" y2="331.90" stroke="#333" stroke-width="0.9"/>
<text x="645.60" y="339.60" font-size="8.8" text-anchor="middle" font-weight="normal" fill="#333" stroke="#333" stroke-width="0.22" >25</text>
<line x1="659.20" y1="329.40" x2="659.20" y2="331.90" stroke="#333" stroke-width="0.9"/>
<text x="659.20" y="339.60" font-size="8.8" text-anchor="middle" font-weight="normal" fill="#333" stroke="#333" stroke-width="0.22" >30</text>
<line x1="421.20" y1="227.10" x2="423.80" y2="227.10" stroke="#333" stroke-width="0.9"/>
<text x="419.60" y="230.20" font-size="8.8" text-anchor="end" font-weight="normal" fill="#333" stroke="#333" stroke-width="0.22" >0</text>
<line x1="421.20" y1="201.90" x2="423.80" y2="201.90" stroke="#333" stroke-width="0.9"/>
<text x="419.60" y="205.00" font-size="8.8" text-anchor="end" font-weight="normal" fill="#333" stroke="#333" stroke-width="0.22" >10</text>
<line x1="421.20" y1="176.70" x2="423.80" y2="176.70" stroke="#333" stroke-width="0.9"/>
<text x="419.60" y="179.80" font-size="8.8" text-anchor="end" font-weight="normal" fill="#333" stroke="#333" stroke-width="0.22" >20</text>
<line x1="421.20" y1="151.50" x2="423.80" y2="151.50" stroke="#333" stroke-width="0.9"/>
<text x="419.60" y="154.60" font-size="8.8" text-anchor="end" font-weight="normal" fill="#333" stroke="#333" stroke-width="0.22" >30</text>
<line x1="421.20" y1="325.50" x2="423.80" y2="325.50" stroke="#333" stroke-width="0.9"/>
<text x="419.60" y="328.60" font-size="8.8" text-anchor="end" font-weight="normal" fill="#333" stroke="#333" stroke-width="0.22" >0</text>
<line x1="421.20" y1="307.40" x2="423.80" y2="307.40" stroke="#333" stroke-width="0.9"/>
<text x="419.60" y="310.50" font-size="8.8" text-anchor="end" font-weight="normal" fill="#333" stroke="#333" stroke-width="0.22" >0.2</text>
<line x1="421.20" y1="289.30" x2="423.80" y2="289.30" stroke="#333" stroke-width="0.9"/>
<text x="419.60" y="292.40" font-size="8.8" text-anchor="end" font-weight="normal" fill="#333" stroke="#333" stroke-width="0.22" >0.4</text>
<line x1="421.20" y1="271.20" x2="423.80" y2="271.20" stroke="#333" stroke-width="0.9"/>
<text x="419.60" y="274.30" font-size="8.8" text-anchor="end" font-weight="normal" fill="#333" stroke="#333" stroke-width="0.22" >0.6</text>
<line x1="421.20" y1="253.10" x2="423.80" y2="253.10" stroke="#333" stroke-width="0.9"/>
<text x="419.60" y="256.20" font-size="8.8" text-anchor="end" font-weight="normal" fill="#333" stroke="#333" stroke-width="0.22" >0.8</text>
<text x="428.60" y="166.40" font-size="11.2" text-anchor="start" font-weight="normal" fill="#1a1a1a" stroke="#1a1a1a" stroke-width="0.22" >rsRNA</text>
<text x="428.60" y="264.10" font-size="11.2" text-anchor="start" font-weight="normal" fill="#1a1a1a" stroke="#1a1a1a" stroke-width="0.22" >piRNA</text>
<text x="671.40" y="240.60" font-size="8.8" text-anchor="start" font-weight="normal" fill="#333" stroke="#333" stroke-width="0.22" >(nt)</text>
<text x="671.40" y="339.60" font-size="8.8" text-anchor="start" font-weight="normal" fill="#333" stroke="#333" stroke-width="0.22" >(nt)</text>
<text x="554.40" y="351.80" font-size="10" text-anchor="middle" font-weight="normal" fill="#1a1a1a" stroke="#1a1a1a" stroke-width="0.22" >Length of nucleotides</text></g>
<g id="pd"><path d="M113.20,422.40 A56.300000000000004,56.300000000000004 0 0 1 143.51,431.25 L135.11,444.40 A40.7,40.7 0 0 0 113.20,438.00 Z" fill="#c0c0c0"/>
<path d="M143.51,431.25 A56.300000000000004,56.300000000000004 0 0 1 144.41,431.85 L135.77,444.83 A40.7,40.7 0 0 0 135.11,444.40 Z" fill="#9ad8c8"/>
<path d="M144.41,431.85 A56.300000000000004,56.300000000000004 0 0 1 150.84,436.83 L140.41,448.43 A40.7,40.7 0 0 0 135.77,444.83 Z" fill="#c295d0"/>
<path d="M150.84,436.83 A56.300000000000004,56.300000000000004 0 0 1 151.64,437.56 L140.99,448.96 A40.7,40.7 0 0 0 140.41,448.43 Z" fill="#b5d66a"/>
<path d="M151.64,437.56 A56.300000000000004,56.300000000000004 0 0 1 102.47,533.97 L105.44,518.65 A40.7,40.7 0 0 0 140.99,448.96 Z" fill="#e6ae5a"/>
<path d="M102.47,533.97 A56.300000000000004,56.300000000000004 0 0 1 57.21,472.82 L72.72,474.45 A40.7,40.7 0 0 0 105.44,518.65 Z" fill="#4a84c4"/>
<path d="M113.20,406.80 A71.9,71.9 0 0 1 157.83,422.32 L148.14,434.56 A56.300000000000004,56.300000000000004 0 0 0 113.20,422.40 Z" fill="#c0c0c0"/>
<path d="M157.83,422.32 A71.9,71.9 0 0 1 158.90,423.19 L148.99,435.24 A56.300000000000004,56.300000000000004 0 0 0 148.14,434.56 Z" fill="#9ad8c8"/>
<path d="M158.90,423.19 A71.9,71.9 0 0 1 166.42,430.35 L154.87,440.84 A56.300000000000004,56.300000000000004 0 0 0 148.99,435.24 Z" fill="#c295d0"/>
<path d="M166.42,430.35 A71.9,71.9 0 0 1 167.11,431.13 L155.42,441.45 A56.300000000000004,56.300000000000004 0 0 0 154.87,440.84 Z" fill="#b5d66a"/>
<path d="M167.11,431.13 A71.9,71.9 0 0 1 139.96,545.43 L134.16,530.95 A56.300000000000004,56.300000000000004 0 0 0 155.42,441.45 Z" fill="#e6ae5a"/>
<path d="M139.96,545.43 A71.9,71.9 0 0 1 41.69,471.18 L57.21,472.82 A56.300000000000004,56.300000000000004 0 0 0 134.16,530.95 Z" fill="#4a84c4"/>
<path d="M113.20,391.20 A87.5,87.5 0 0 1 159.59,404.51 L151.32,417.74 A71.9,71.9 0 0 0 113.20,406.80 Z" fill="#c0c0c0"/>
<path d="M159.59,404.51 A87.5,87.5 0 0 1 161.01,405.42 L152.49,418.48 A71.9,71.9 0 0 0 151.32,417.74 Z" fill="#9ad8c8"/>
<path d="M161.01,405.42 A87.5,87.5 0 0 1 169.47,411.69 L159.44,423.64 A71.9,71.9 0 0 0 152.49,418.48 Z" fill="#c295d0"/>
<path d="M169.47,411.69 A87.5,87.5 0 0 1 170.75,412.79 L160.49,424.54 A71.9,71.9 0 0 0 159.44,423.64 Z" fill="#b5d66a"/>
<path d="M170.75,412.79 A87.5,87.5 0 0 1 135.37,563.35 L131.42,548.25 A71.9,71.9 0 0 0 160.49,424.54 Z" fill="#e6ae5a"/>
<path d="M135.37,563.35 A87.5,87.5 0 0 1 26.18,469.55 L41.69,471.18 A71.9,71.9 0 0 0 131.42,548.25 Z" fill="#4a84c4"/>
<path d="M113.20,375.60 A103.1,103.1 0 0 1 182.49,402.36 L172.01,413.91 A87.5,87.5 0 0 0 113.20,391.20 Z" fill="#c0c0c0"/>
<path d="M182.49,402.36 A103.1,103.1 0 0 1 183.95,403.71 L173.24,415.05 A87.5,87.5 0 0 0 172.01,413.91 Z" fill="#9ad8c8"/>
<path d="M183.95,403.71 A103.1,103.1 0 0 1 198.14,420.27 L185.29,429.11 A87.5,87.5 0 0 0 173.24,415.05 Z" fill="#c295d0"/>
<path d="M198.14,420.27 A103.1,103.1 0 0 1 198.98,421.50 L186.00,430.16 A87.5,87.5 0 0 0 185.29,429.11 Z" fill="#b5d66a"/>
<path d="M198.98,421.50 A103.1,103.1 0 0 1 50.85,560.81 L60.28,548.39 A87.5,87.5 0 0 0 186.00,430.16 Z" fill="#e6ae5a"/>
<path d="M50.85,560.81 A103.1,103.1 0 0 1 10.66,467.92 L26.18,469.55 A87.5,87.5 0 0 0 60.28,548.39 Z" fill="#4a84c4"/>
<path d="M112.20,421.61 A57.1,57.1 0 1 1 56.53,471.74 L58.11,471.94 A55.50000000000001,55.50000000000001 0 1 0 112.23,423.21 Z" fill="#fff"/>
<path d="M111.93,406.01 A72.7,72.7 0 1 1 41.04,469.84 L42.63,470.04 A71.10000000000001,71.10000000000001 0 1 0 111.96,407.61 Z" fill="#fff"/>
<path d="M111.66,390.41 A88.3,88.3 0 1 1 25.56,467.94 L27.15,468.13 A86.7,86.7 0 1 0 111.69,392.01 Z" fill="#fff"/>
<text x="0.20" y="373.80" font-size="14" text-anchor="start" font-weight="bold" fill="#000" >d</text>
<text x="107.30" y="433.60" font-size="12.1" text-anchor="end" font-weight="normal" fill="#1a1a1a" stroke="#1a1a1a" stroke-width="0.22" >Day1 OF</text>
<text x="107.30" y="418.00" font-size="12.1" text-anchor="end" font-weight="normal" fill="#1a1a1a" stroke="#1a1a1a" stroke-width="0.22" >Day2 OF</text>
<text x="107.30" y="402.40" font-size="12.1" text-anchor="end" font-weight="normal" fill="#1a1a1a" stroke="#1a1a1a" stroke-width="0.22" >Day3 OF</text>
<text x="107.30" y="386.80" font-size="12.1" text-anchor="end" font-weight="normal" fill="#1a1a1a" stroke="#1a1a1a" stroke-width="0.22" >Day4 UF</text>
<text x="0" y="0" font-size="14.3" text-anchor="middle" fill="#111" stroke="#111" stroke-width="0.22" transform="translate(80.3,511.7) rotate(57) translate(0,4.8)">30.8%</text>
<text x="0" y="0" font-size="14.3" text-anchor="middle" fill="#111" stroke="#111" stroke-width="0.22" transform="translate(65.9,520.2) rotate(57) translate(0,4.8)">42.7%</text>
<text x="0" y="0" font-size="14.3" text-anchor="middle" fill="#111" stroke="#111" stroke-width="0.22" transform="translate(53.4,532.8) rotate(57) translate(0,4.8)">40.1%</text>
<text x="0" y="0" font-size="14.3" text-anchor="middle" fill="#111" stroke="#111" stroke-width="0.22" transform="translate(29.9,528.0) rotate(57) translate(0,4.8)">21.3%</text>
<text x="0" y="0" font-size="14.3" text-anchor="middle" fill="#111" stroke="#111" stroke-width="0.22" transform="translate(158.0,495.5) rotate(-57) translate(0,4.8)">53.6%</text>
<text x="0" y="0" font-size="14.3" text-anchor="middle" fill="#111" stroke="#111" stroke-width="0.22" transform="translate(171.6,506.5) rotate(-57) translate(0,4.8)">39.7%</text>
<text x="0" y="0" font-size="14.3" text-anchor="middle" fill="#111" stroke="#111" stroke-width="0.22" transform="translate(187.2,515.5) rotate(-57) translate(0,4.8)">45%</text>
<text x="0" y="0" font-size="14.3" text-anchor="middle" fill="#111" stroke="#111" stroke-width="0.22" transform="translate(199.3,524.7) rotate(-57) translate(0,4.8)">58.3%</text>
<rect x="49.2" y="599.7" width="7.1" height="7.1" fill="#4a84c4"/>
<text x="57.00" y="606.30" font-size="10" text-anchor="start" font-weight="normal" fill="#1a1a1a" stroke="#1a1a1a" stroke-width="0.22" >tsRNA</text>
<rect x="95.7" y="599.7" width="7.1" height="7.1" fill="#e6ae5a"/>
<text x="109.60" y="606.30" font-size="10" text-anchor="start" font-weight="normal" fill="#1a1a1a" stroke="#1a1a1a" stroke-width="0.22" >rsRNA</text>
<rect x="153.5" y="599.7" width="7.1" height="7.1" fill="#b5d66a"/>
<text x="161.40" y="606.30" font-size="10" text-anchor="start" font-weight="normal" fill="#1a1a1a" stroke="#1a1a1a" stroke-width="0.22" >miRNA</text>
<rect x="49.2" y="612.7" width="7.1" height="7.1" fill="#c295d0"/>
<text x="57.00" y="619.30" font-size="10" text-anchor="start" font-weight="normal" fill="#1a1a1a" stroke="#1a1a1a" stroke-width="0.22" >piRNA</text>
<rect x="95.7" y="612.7" width="7.1" height="7.1" fill="#9ad8c8"/>
<text x="109.60" y="619.30" font-size="10" text-anchor="start" font-weight="normal" fill="#1a1a1a" stroke="#1a1a1a" stroke-width="0.22" >ysRNA</text>
<rect x="153.5" y="612.7" width="7.1" height="7.1" fill="#c0c0c0"/>
<text x="162.20" y="619.30" font-size="10" text-anchor="start" font-weight="normal" fill="#1a1a1a" stroke="#1a1a1a" stroke-width="0.22" >other</text></g>
<g id="pe"><text x="234.20" y="374.30" font-size="14" text-anchor="start" font-weight="bold" fill="#000" >e</text>
<rect x="271" y="383" width="163.2" height="163.4" fill="none" stroke="#444" stroke-width="1.1"/>
<line x1="268.5" y1="539.90" x2="271" y2="539.90" stroke="#444" stroke-width="0.9"/>
<text x="267.50" y="543.00" font-size="8.8" text-anchor="end" font-weight="normal" fill="#333" stroke="#333" stroke-width="0.22" >0</text>
<line x1="268.5" y1="488.70" x2="271" y2="488.70" stroke="#444" stroke-width="0.9"/>
<text x="267.50" y="491.80" font-size="8.8" text-anchor="end" font-weight="normal" fill="#333" stroke="#333" stroke-width="0.22" >20</text>
<line x1="268.5" y1="437.50" x2="271" y2="437.50" stroke="#444" stroke-width="0.9"/>
<text x="267.50" y="440.60" font-size="8.8" text-anchor="end" font-weight="normal" fill="#333" stroke="#333" stroke-width="0.22" >40</text>
<line x1="268.5" y1="386.30" x2="271" y2="386.30" stroke="#444" stroke-width="0.9"/>
<text x="267.50" y="389.40" font-size="8.8" text-anchor="end" font-weight="normal" fill="#333" stroke="#333" stroke-width="0.22" >60</text>
<line x1="294.3" y1="546.4" x2="294.3" y2="550.4" stroke="#444" stroke-width="0.9"/>
<text x="0" y="0" font-size="10.5" text-anchor="end" fill="#1a1a1a" stroke="#1a1a1a" stroke-width="0.22" transform="translate(302.80,557.4) rotate(-45)">Day1 OF</text>
<line x1="332.9" y1="546.4" x2="332.9" y2="550.4" stroke="#444" stroke-width="0.9"/>
<text x="0" y="0" font-size="10.5" text-anchor="end" fill="#1a1a1a" stroke="#1a1a1a" stroke-width="0.22" transform="translate(341.40,557.4) rotate(-45)">Day2 OF</text>
<line x1="371.7" y1="546.4" x2="371.7" y2="550.4" stroke="#444" stroke-width="0.9"/>
<text x="0" y="0" font-size="10.5" text-anchor="end" fill="#1a1a1a" stroke="#1a1a1a" stroke-width="0.22" transform="translate(380.20,557.4) rotate(-45)">Day3 OF</text>
<line x1="410.3" y1="546.4" x2="410.3" y2="550.4" stroke="#444" stroke-width="0.9"/>
<text x="0" y="0" font-size="10.5" text-anchor="end" fill="#1a1a1a" stroke="#1a1a1a" stroke-width="0.22" transform="translate(418.80,557.4) rotate(-45)">Day4 UF</text>
<text x="251.50" y="465.00" font-size="11.2" text-anchor="middle" font-weight="normal" fill="#1a1a1a" stroke="#1a1a1a" stroke-width="0.22" transform="rotate(-90 251.50 465.00)" >Relative percentage (%)</text>
<path d="M294.30,461.05 C300.73,455.97 320.00,434.56 332.90,430.59 C345.80,426.62 358.80,428.11 371.70,437.24 C384.60,446.37 403.87,477.35 410.30,485.37" fill="none" stroke="#4a86c8" stroke-width="1.5"/>
<path d="M294.30,402.68 C300.73,408.61 320.00,434.60 332.90,438.27 C345.80,441.94 358.80,432.64 371.70,424.70 C384.60,416.76 403.87,396.33 410.30,390.65" fill="none" stroke="#e8b05c" stroke-width="1.5"/>
<path d="M294.30,531.71 C300.73,531.79 320.00,531.79 332.90,532.22 C345.80,532.65 358.80,534.69 371.70,534.27 C384.60,533.84 403.87,530.43 410.30,529.66" fill="none" stroke="#c795d6" stroke-width="1.5"/>
<path d="M294.30,539.39 C300.73,539.39 320.00,539.43 332.90,539.39 C345.80,539.35 358.80,539.13 371.70,539.13 C384.60,539.13 403.87,539.35 410.30,539.39" fill="none" stroke="#a8d060" stroke-width="1.5"/>
<path d="M294.30,538.36 C300.73,538.36 320.00,538.36 332.90,538.36 C345.80,538.36 358.80,538.36 371.70,538.36 C384.60,538.36 403.87,538.36 410.30,538.36" fill="none" stroke="#9ad8c8" stroke-width="1.5"/>
<circle cx="294.30" cy="461.05" r="3.6" fill="#4a86c8"/>
<circle cx="332.90" cy="430.59" r="3.6" fill="#4a86c8"/>
<circle cx="371.70" cy="437.24" r="3.6" fill="#4a86c8"/>
<circle cx="410.30" cy="485.37" r="3.6" fill="#4a86c8"/>
<rect x="290.90" y="398.98" width="6.8" height="7.4" fill="#e8b05c"/>
<rect x="329.50" y="434.57" width="6.8" height="7.4" fill="#e8b05c"/>
<rect x="368.30" y="421.00" width="6.8" height="7.4" fill="#e8b05c"/>
<rect x="406.90" y="386.95" width="6.8" height="7.4" fill="#e8b05c"/>
<polygon points="294.30,527.91 297.80,531.71 294.30,535.51 290.80,531.71" fill="#c795d6"/>
<polygon points="332.90,528.42 336.40,532.22 332.90,536.02 329.40,532.22" fill="#c795d6"/>
<polygon points="371.70,530.47 375.20,534.27 371.70,538.07 368.20,534.27" fill="#c795d6"/>
<polygon points="410.30,525.86 413.80,529.66 410.30,533.46 406.80,529.66" fill="#c795d6"/>
<polygon points="294.30,535.19 298.50,542.39 290.10,542.39" fill="#a8d060"/>
<polygon points="332.90,535.19 337.10,542.39 328.70,542.39" fill="#a8d060"/>
<polygon points="371.70,534.93 375.90,542.13 367.50,542.13" fill="#a8d060"/>
<polygon points="410.30,535.19 414.50,542.39 406.10,542.39" fill="#a8d060"/>
<line x1="290.10" y1="538.36" x2="298.50" y2="538.36" stroke="#9ad8c8" stroke-width="0.9"/><line x1="291.33" y1="535.39" x2="297.27" y2="541.33" stroke="#9ad8c8" stroke-width="0.9"/><line x1="294.30" y1="534.16" x2="294.30" y2="542.56" stroke="#9ad8c8" stroke-width="0.9"/><line x1="297.27" y1="535.39" x2="291.33" y2="541.33" stroke="#9ad8c8" stroke-width="0.9"/>
<line x1="328.70" y1="538.36" x2="337.10" y2="538.36" stroke="#9ad8c8" stroke-width="0.9"/><line x1="329.93" y1="535.39" x2="335.87" y2="541.33" stroke="#9ad8c8" stroke-width="0.9"/><line x1="332.90" y1="534.16" x2="332.90" y2="542.56" stroke="#9ad8c8" stroke-width="0.9"/><line x1="335.87" y1="535.39" x2="329.93" y2="541.33" stroke="#9ad8c8" stroke-width="0.9"/>
<line x1="367.50" y1="538.36" x2="375.90" y2="538.36" stroke="#9ad8c8" stroke-width="0.9"/><line x1="368.73" y1="535.39" x2="374.67" y2="541.33" stroke="#9ad8c8" stroke-width="0.9"/><line x1="371.70" y1="534.16" x2="371.70" y2="542.56" stroke="#9ad8c8" stroke-width="0.9"/><line x1="374.67" y1="535.39" x2="368.73" y2="541.33" stroke="#9ad8c8" stroke-width="0.9"/>
<line x1="406.10" y1="538.36" x2="414.50" y2="538.36" stroke="#9ad8c8" stroke-width="0.9"/><line x1="407.33" y1="535.39" x2="413.27" y2="541.33" stroke="#9ad8c8" stroke-width="0.9"/><line x1="410.30" y1="534.16" x2="410.30" y2="542.56" stroke="#9ad8c8" stroke-width="0.9"/><line x1="413.27" y1="535.39" x2="407.33" y2="541.33" stroke="#9ad8c8" stroke-width="0.9"/>
<text x="300.50" y="400.70" font-size="12.5" text-anchor="start" font-weight="bold" fill="#e8b05c" >rsRNA</text>
<text x="300.50" y="470.60" font-size="12.5" text-anchor="start" font-weight="bold" fill="#4a86c8" >tsRNA</text>
<line x1="263.90" y1="601.10" x2="279.10" y2="601.10" stroke="#4a86c8" stroke-width="1.5"/>
<circle cx="271.50" cy="601.10" r="3.6" fill="#4a86c8"/>
<text x="280.30" y="604.70" font-size="10.2" text-anchor="start" font-weight="normal" fill="#1a1a1a" stroke="#1a1a1a" stroke-width="0.22" >tsRNA</text>
<line x1="329.80" y1="601.10" x2="345.00" y2="601.10" stroke="#e8b05c" stroke-width="1.5"/>
<rect x="334.00" y="597.40" width="6.8" height="7.4" fill="#e8b05c"/>
<text x="346.20" y="604.70" font-size="10.2" text-anchor="start" font-weight="normal" fill="#1a1a1a" stroke="#1a1a1a" stroke-width="0.22" >rsRNA</text>
<line x1="392.60" y1="601.10" x2="407.80" y2="601.10" stroke="#a8d060" stroke-width="1.5"/>
<polygon points="400.20,596.90 404.40,604.10 396.00,604.10" fill="#a8d060"/>
<text x="409.00" y="604.70" font-size="10.2" text-anchor="start" font-weight="normal" fill="#1a1a1a" stroke="#1a1a1a" stroke-width="0.22" >miRNA</text>
<line x1="263.90" y1="617.40" x2="279.10" y2="617.40" stroke="#c795d6" stroke-width="1.5"/>
<polygon points="271.50,613.60 275.00,617.40 271.50,621.20 268.00,617.40" fill="#c795d6"/>
<text x="280.30" y="621.00" font-size="10.2" text-anchor="start" font-weight="normal" fill="#1a1a1a" stroke="#1a1a1a" stroke-width="0.22" >piRNA</text>
<line x1="329.80" y1="617.40" x2="345.00" y2="617.40" stroke="#9ad8c8" stroke-width="1.5"/>
<line x1="333.20" y1="617.40" x2="341.60" y2="617.40" stroke="#9ad8c8" stroke-width="0.9"/><line x1="334.43" y1="614.43" x2="340.37" y2="620.37" stroke="#9ad8c8" stroke-width="0.9"/><line x1="337.40" y1="613.20" x2="337.40" y2="621.60" stroke="#9ad8c8" stroke-width="0.9"/><line x1="340.37" y1="614.43" x2="334.43" y2="620.37" stroke="#9ad8c8" stroke-width="0.9"/>
<text x="346.20" y="621.00" font-size="10.2" text-anchor="start" font-weight="normal" fill="#1a1a1a" stroke="#1a1a1a" stroke-width="0.22" >ysRNA</text></g>
<g id="pf"><text x="461.40" y="374.20" font-size="14" text-anchor="start" font-weight="bold" fill="#000" >f</text>
<path d="M515.75,393.60 L653.45,393.60 L653.45,538.30 L515.75,538.30 Z" fill="#9fc2e0"/>
<path d="M515.75,538.30 L515.75,450.03 L523.50,450.03 C538.75,450.03 538.75,468.55 554.00,468.55 L569.50,468.55 C584.60,468.55 584.60,463.35 599.70,463.35 L615.20,463.35 C630.45,463.35 630.45,440.63 645.70,440.63 L661.20,440.63 L653.45,440.63 L653.45,538.30 Z" fill="#f0d9ad"/>
<rect x="508.0" y="393.60" width="15.5" height="56.43" fill="#4a84c4" stroke="#3d4b5a" stroke-width="0.7"/>
<rect x="508.0" y="450.03" width="15.5" height="88.27" fill="#e6b05c" stroke="#5f5540" stroke-width="0.7"/>
<rect x="554.0" y="393.60" width="15.5" height="74.95" fill="#4a84c4" stroke="#3d4b5a" stroke-width="0.7"/>
<rect x="554.0" y="468.55" width="15.5" height="69.75" fill="#e6b05c" stroke="#5f5540" stroke-width="0.7"/>
<rect x="599.7" y="393.60" width="15.5" height="69.75" fill="#4a84c4" stroke="#3d4b5a" stroke-width="0.7"/>
<rect x="599.7" y="463.35" width="15.5" height="74.95" fill="#e6b05c" stroke="#5f5540" stroke-width="0.7"/>
<rect x="645.7" y="393.60" width="15.5" height="47.03" fill="#4a84c4" stroke="#3d4b5a" stroke-width="0.7"/>
<rect x="645.7" y="440.63" width="15.5" height="97.67" fill="#e6b05c" stroke="#5f5540" stroke-width="0.7"/>
<line x1="497.1" y1="386.9" x2="497.1" y2="545.4" stroke="#222" stroke-width="1.3"/>
<line x1="496.5" y1="544.8" x2="671" y2="544.8" stroke="#222" stroke-width="1.3"/>
<line x1="494.3" y1="538.30" x2="497" y2="538.30" stroke="#333" stroke-width="0.9"/>
<text x="493.30" y="541.40" font-size="8.8" text-anchor="end" font-weight="normal" fill="#333" stroke="#333" stroke-width="0.22" >0</text>
<line x1="494.3" y1="502.12" x2="497" y2="502.12" stroke="#333" stroke-width="0.9"/>
<text x="493.30" y="505.23" font-size="8.8" text-anchor="end" font-weight="normal" fill="#333" stroke="#333" stroke-width="0.22" >25</text>
<line x1="494.3" y1="465.95" x2="497" y2="465.95" stroke="#333" stroke-width="0.9"/>
<text x="493.30" y="469.05" font-size="8.8" text-anchor="end" font-weight="normal" fill="#333" stroke="#333" stroke-width="0.22" >50</text>
<line x1="494.3" y1="429.77" x2="497" y2="429.77" stroke="#333" stroke-width="0.9"/>
<text x="493.30" y="432.88" font-size="8.8" text-anchor="end" font-weight="normal" fill="#333" stroke="#333" stroke-width="0.22" >75</text>
<line x1="494.3" y1="393.60" x2="497" y2="393.60" stroke="#333" stroke-width="0.9"/>
<text x="493.30" y="396.70" font-size="8.8" text-anchor="end" font-weight="normal" fill="#333" stroke="#333" stroke-width="0.22" >100</text>
<line x1="515.75" y1="544.7" x2="515.75" y2="547.6" stroke="#333" stroke-width="0.9"/>
<text x="0" y="0" font-size="10.5" text-anchor="end" fill="#1a1a1a" stroke="#1a1a1a" stroke-width="0.22" transform="translate(521.85,557.4) rotate(-45)">Day1 OF</text>
<line x1="561.75" y1="544.7" x2="561.75" y2="547.6" stroke="#333" stroke-width="0.9"/>
<text x="0" y="0" font-size="10.5" text-anchor="end" fill="#1a1a1a" stroke="#1a1a1a" stroke-width="0.22" transform="translate(567.85,557.4) rotate(-45)">Day2 OF</text>
<line x1="607.45" y1="544.7" x2="607.45" y2="547.6" stroke="#333" stroke-width="0.9"/>
<text x="0" y="0" font-size="10.5" text-anchor="end" fill="#1a1a1a" stroke="#1a1a1a" stroke-width="0.22" transform="translate(613.55,557.4) rotate(-45)">Day3 OF</text>
<line x1="653.45" y1="544.7" x2="653.45" y2="547.6" stroke="#333" stroke-width="0.9"/>
<text x="0" y="0" font-size="10.5" text-anchor="end" fill="#1a1a1a" stroke="#1a1a1a" stroke-width="0.22" transform="translate(659.55,557.4) rotate(-45)">Day4 UF</text>
<text x="474.50" y="466.60" font-size="11.2" text-anchor="middle" font-weight="normal" fill="#1a1a1a" stroke="#1a1a1a" stroke-width="0.22" transform="rotate(-90 474.50 466.60)" >Relative abundance (%)</text>
<rect x="540.9" y="604.5" width="7.7" height="6.7" fill="#4a84c4"/>
<text x="549.50" y="611.20" font-size="10" text-anchor="start" font-weight="normal" fill="#1a1a1a" stroke="#1a1a1a" stroke-width="0.22" >tsRNA</text>
<rect x="594" y="604.5" width="7.7" height="6.7" fill="#e6b05c"/>
<text x="603.10" y="611.20" font-size="10" text-anchor="start" font-weight="normal" fill="#1a1a1a" stroke="#1a1a1a" stroke-width="0.22" >rsRNA</text></g>
</svg></body></html>
